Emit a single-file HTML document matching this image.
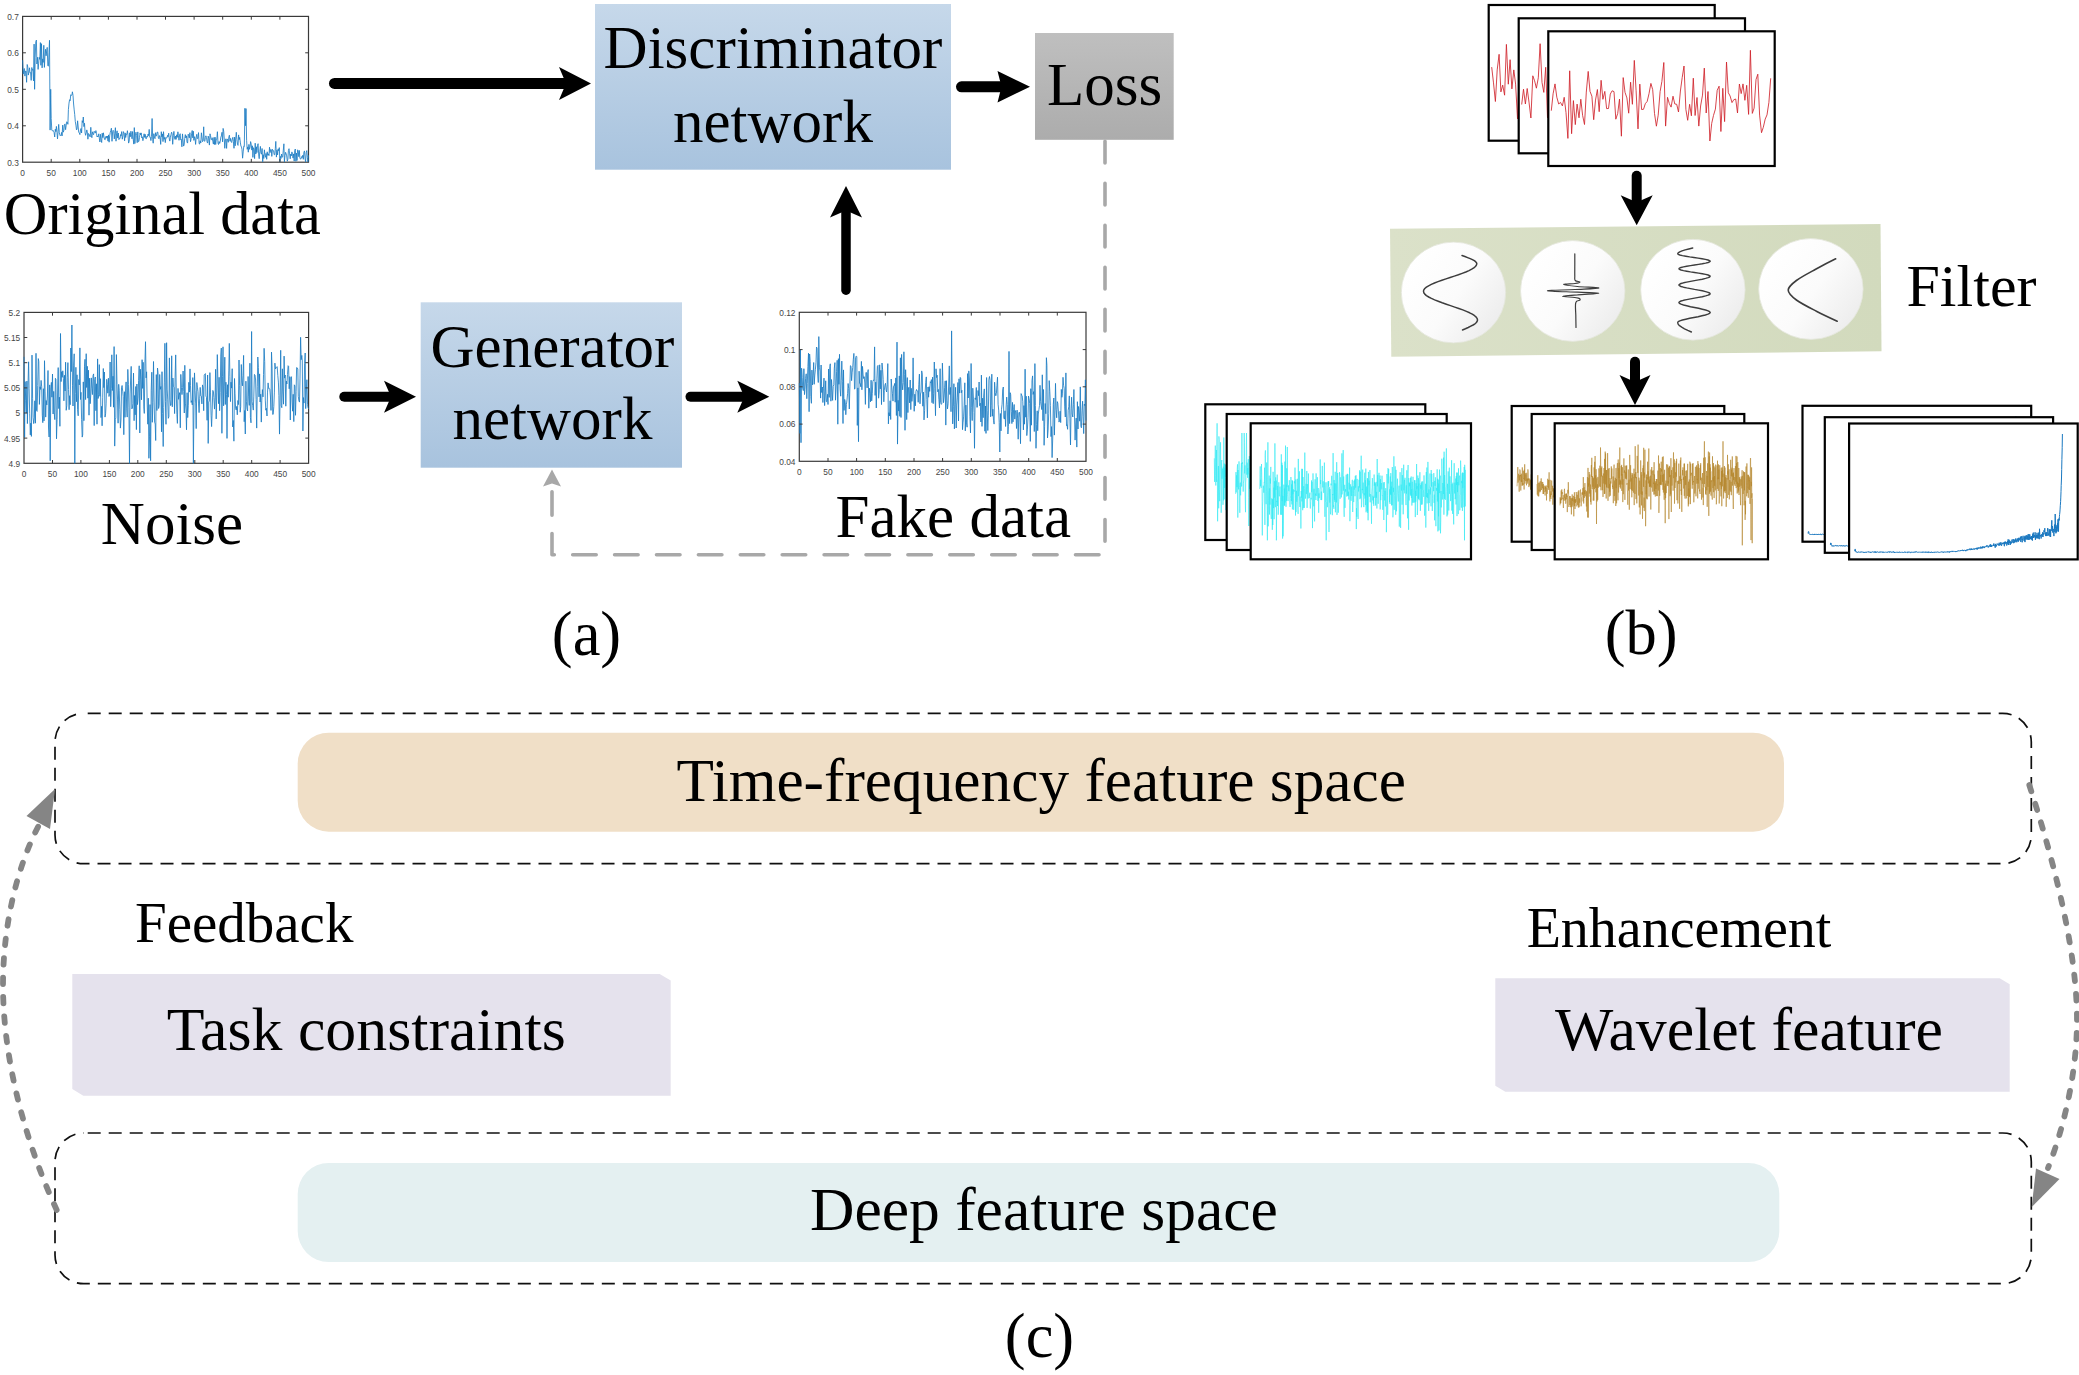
<!DOCTYPE html>
<html><head><meta charset="utf-8"><title>Figure</title>
<style>html,body{margin:0;padding:0;background:#fff;}body{width:2079px;height:1375px;overflow:hidden;position:relative;font-family:"Liberation Serif",serif;}</style>
</head><body>
<svg width="2079" height="1375" viewBox="0 0 2079 1375" style="position:absolute;left:0;top:0;display:block"><defs>
<linearGradient id="gblue" x1="0" y1="0" x2="0" y2="1"><stop offset="0" stop-color="#c6d8ea"/><stop offset="1" stop-color="#a8c3de"/></linearGradient>
<linearGradient id="ggray" x1="0" y1="0" x2="0" y2="1"><stop offset="0" stop-color="#bfbfbf"/><stop offset="1" stop-color="#acacac"/></linearGradient>
<linearGradient id="gband" x1="0" y1="0" x2="1" y2="0"><stop offset="0" stop-color="#dbe1c9"/><stop offset="1" stop-color="#d2dabd"/></linearGradient>
<linearGradient id="gcirc" x1="0.1" y1="0.2" x2="1" y2="0.8"><stop offset="0" stop-color="#ffffff"/><stop offset="0.5" stop-color="#fbfbfb"/><stop offset="1" stop-color="#ebebeb"/></linearGradient>
</defs>
<rect x="595" y="4" width="356" height="165.7" fill="url(#gblue)"/>
<text x="773" y="68.3" font-family='"Liberation Serif", serif' font-size="61" text-anchor="middle" fill="#000" >Discriminator</text>
<text x="773" y="141.7" font-family='"Liberation Serif", serif' font-size="61" text-anchor="middle" fill="#000" >network</text>
<rect x="420.7" y="302.3" width="261.3" height="165.4" fill="url(#gblue)"/>
<text x="552.5" y="366.7" font-family='"Liberation Serif", serif' font-size="61" text-anchor="middle" fill="#000" >Generator</text>
<text x="552.5" y="439.3" font-family='"Liberation Serif", serif' font-size="61" text-anchor="middle" fill="#000" >network</text>
<rect x="1035" y="33" width="138.7" height="106.8" fill="url(#ggray)"/>
<text x="1104.5" y="105" font-family='"Liberation Serif", serif' font-size="61" text-anchor="middle" fill="#000" >Loss</text>
<text x="3.8" y="233.6" font-family='"Liberation Serif", serif' font-size="60.4" text-anchor="start" fill="#000" >Original data</text>
<text x="172" y="543.5" font-family='"Liberation Serif", serif' font-size="61" text-anchor="middle" fill="#000" >Noise</text>
<text x="953.3" y="537.3" font-family='"Liberation Serif", serif' font-size="61" text-anchor="middle" fill="#000" >Fake data</text>
<text x="586.5" y="654.5" font-family='"Liberation Serif", serif' font-size="62.5" text-anchor="middle" fill="#000" >(a)</text>
<text x="1641.2" y="653.8" font-family='"Liberation Serif", serif' font-size="62.5" text-anchor="middle" fill="#000" >(b)</text>
<text x="1039.5" y="1356.5" font-family='"Liberation Serif", serif' font-size="62.5" text-anchor="middle" fill="#000" >(c)</text>
<text x="1971.5" y="305.7" font-family='"Liberation Serif", serif' font-size="60" text-anchor="middle" fill="#000" >Filter</text>
<line x1="334.5" y1="83.4" x2="567" y2="83.4" stroke="#000" stroke-width="11" stroke-linecap="round"/>
<path d="M591,83.4 L559,66.9 L566,83.4 L559,99.9 Z" fill="#000"/>
<line x1="961.5" y1="86.8" x2="1002.5" y2="86.8" stroke="#000" stroke-width="11" stroke-linecap="round"/>
<path d="M1030,86.8 L997.5,71.05 L1001.5,86.8 L997.5,102.55 Z" fill="#000"/>
<line x1="344.3" y1="396.7" x2="392" y2="396.7" stroke="#000" stroke-width="10" stroke-linecap="round"/>
<path d="M416,396.7 L384,380.7 L391,396.7 L384,412.7 Z" fill="#000"/>
<line x1="690.5" y1="396.7" x2="745.3" y2="396.7" stroke="#000" stroke-width="10" stroke-linecap="round"/>
<path d="M769.3,396.7 L737.3,380.7 L744.3,396.7 L737.3,412.7 Z" fill="#000"/>
<line x1="846" y1="290.25" x2="846" y2="209.5" stroke="#000" stroke-width="9.5" stroke-linecap="round"/>
<path d="M846,186 L830.0,217.5 L846,210.5 L862.0,217.5 Z" fill="#000"/>
<line x1="1636.7" y1="175.7" x2="1636.7" y2="203.3" stroke="#000" stroke-width="10" stroke-linecap="round"/>
<path d="M1636.7,225.3 L1620.7,195.3 L1636.7,202.3 L1652.7,195.3 Z" fill="#000"/>
<line x1="1635" y1="361.7" x2="1635" y2="383" stroke="#000" stroke-width="10" stroke-linecap="round"/>
<path d="M1635,405 L1619.5,375 L1635,382 L1650.5,375 Z" fill="#000"/>
<path d="M1105,141.2 L1105,542" fill="none" stroke="#a8a8a8" stroke-width="3.6" stroke-dasharray="21.7 20.34" stroke-linecap="round"/>
<path d="M1099,554.8 L552,554.8 L552,491.5" fill="none" stroke="#a8a8a8" stroke-width="3.6" stroke-dasharray="23.5 18.4" stroke-linecap="round" stroke-linejoin="round"/>
<path d="M552,469.4 L543,486.6 L552,483.6 L561,486.6 Z" fill="#a8a8a8"/>
<rect x="55" y="713.3" width="1976.3" height="150.4" rx="28.7" ry="28.7" stroke="#101010" stroke-width="1.7" stroke-dasharray="13 8" stroke-dashoffset="17" fill="none"/>
<rect x="55" y="1133" width="1976.3" height="150.7" rx="28.7" ry="28.7" stroke="#101010" stroke-width="1.7" stroke-dasharray="13 8" stroke-dashoffset="17" fill="none"/>
<rect x="297.7" y="732.7" width="1486.3" height="99" rx="31" ry="31" fill="#f0dfc7"/>
<rect x="297.7" y="1163" width="1481.6" height="99" rx="31" ry="31" fill="#e4f0f1"/>
<text x="1041.2" y="800.6" font-family='"Liberation Serif", serif' font-size="61.3" text-anchor="middle" fill="#000" >Time-frequency feature space</text>
<text x="1043.9" y="1230" font-family='"Liberation Serif", serif' font-size="61.5" text-anchor="middle" fill="#000" >Deep feature space</text>
<path d="M72.3,974 L659.7,974 L670.7,980.6 L670.7,1095.7 L83.3,1095.7 L72.3,1089.1000000000001 Z" fill="#e5e2ed"/>
<path d="M1495.3,978.3 L1999.7,978.3 L2009.7,984.3 L2009.7,1091.7 L1505.3,1091.7 L1495.3,1085.7 Z" fill="#e5e2ed"/>
<text x="366.2" y="1050" font-family='"Liberation Serif", serif' font-size="61.8" text-anchor="middle" fill="#000" >Task constraints</text>
<text x="1749" y="1050" font-family='"Liberation Serif", serif' font-size="61.8" text-anchor="middle" fill="#000" >Wavelet feature</text>
<text x="244.2" y="942.3" font-family='"Liberation Serif", serif' font-size="57" text-anchor="middle" fill="#000" >Feedback</text>
<text x="1679" y="946.7" font-family='"Liberation Serif", serif' font-size="56" text-anchor="middle" fill="#000" >Enhancement</text>
<path d="M56.7,1210 C 20,1130 3,1050 3,985 C 3,930 15,870 40,823" fill="none" stroke="#858585" stroke-width="5.8" stroke-dasharray="6.5 13" stroke-linecap="round"/>
<path d="M55,789 L26.5,816 L50,829 Z" fill="#858585"/>
<path d="M2029.3,785 C 2060,880 2077,960 2077,1020 C 2077,1070 2065,1125 2048,1168" fill="none" stroke="#858585" stroke-width="5.8" stroke-dasharray="6.5 13" stroke-linecap="round"/>
<path d="M2031.7,1207 L2036,1168.5 L2059.5,1179 Z" fill="#858585"/>
<rect x="22.6" y="16.4" width="285.9" height="145.79999999999998" fill="#fff" stroke="#3a3a3a" stroke-width="1.2"/>
<polyline points="22.6,60.2 23.2,74.1 23.7,70.9 24.3,68.5 24.9,76.1 25.5,71.1 26.0,71.1 26.6,82.3 27.2,64.5 27.8,67.2 28.3,75.1 28.9,72.2 29.5,67.8 30.0,72.8 30.6,72.6 31.2,80.4 31.8,67.5 32.3,70.3 32.9,69.3 33.5,80.9 34.1,44.1 34.6,89.3 35.2,57.2 35.8,41.7 36.4,40.1 36.9,64.0 37.5,57.3 38.1,69.4 38.6,63.8 39.2,57.3 39.8,59.4 40.4,42.6 40.9,65.3 41.5,43.7 42.1,67.9 42.7,58.9 43.2,62.4 43.8,45.3 44.4,67.4 44.9,56.8 45.5,49.3 46.1,55.8 46.7,51.0 47.2,47.4 47.8,65.6 48.4,66.2 49.0,52.2 49.5,40.3 50.1,130.1 50.7,89.3 51.2,118.5 51.8,130.3 52.4,130.8 53.0,130.2 53.5,131.7 54.1,132.5 54.7,137.0 55.3,129.2 55.8,131.6 56.4,126.4 57.0,132.7 57.5,138.9 58.1,131.6 58.7,124.4 59.3,132.8 59.8,134.8 60.4,136.0 61.0,135.4 61.6,132.4 62.1,135.9 62.7,125.1 63.3,132.2 63.9,130.4 64.4,124.7 65.0,123.9 65.6,129.7 66.1,125.9 66.7,121.8 67.3,122.2 67.9,124.3 68.4,109.5 69.0,103.1 69.6,99.7 70.2,100.7 70.7,94.8 71.3,95.3 71.9,95.2 72.4,91.8 73.0,95.3 73.6,104.0 74.2,109.9 74.7,114.4 75.3,121.5 75.9,125.1 76.5,129.9 77.0,129.1 77.6,120.8 78.2,127.0 78.7,132.2 79.3,132.9 79.9,134.6 80.5,129.5 81.0,128.5 81.6,133.0 82.2,120.7 82.8,122.6 83.3,117.0 83.9,126.6 84.5,123.2 85.1,132.9 85.6,135.3 86.2,133.0 86.8,129.9 87.3,131.9 87.9,139.2 88.5,133.5 89.1,134.2 89.6,136.0 90.2,136.9 90.8,127.3 91.4,135.9 91.9,137.7 92.5,131.8 93.1,133.9 93.6,134.7 94.2,131.3 94.8,132.5 95.4,133.0 95.9,130.6 96.5,133.4 97.1,137.0 97.7,136.0 98.2,136.7 98.8,133.8 99.4,138.9 99.9,142.0 100.5,134.3 101.1,140.0 101.7,142.5 102.2,133.2 102.8,137.6 103.4,132.8 104.0,136.9 104.5,139.3 105.1,139.8 105.7,136.9 106.3,136.0 106.8,138.2 107.4,136.0 108.0,141.1 108.5,134.9 109.1,142.2 109.7,135.8 110.3,132.2 110.8,130.6 111.4,128.2 112.0,141.3 112.6,132.0 113.1,130.3 113.7,131.2 114.3,138.9 114.8,133.5 115.4,127.7 116.0,141.2 116.6,133.3 117.1,130.8 117.7,138.1 118.3,133.0 118.9,139.6 119.4,138.6 120.0,138.6 120.6,134.6 121.1,135.8 121.7,131.6 122.3,139.2 122.9,136.0 123.4,131.6 124.0,133.2 124.6,140.8 125.2,132.9 125.7,137.5 126.3,134.0 126.9,134.4 127.4,130.7 128.0,135.2 128.6,143.1 129.2,141.2 129.7,132.8 130.3,136.8 130.9,131.2 131.5,134.7 132.0,138.8 132.6,131.5 133.2,139.1 133.8,144.1 134.3,127.6 134.9,143.5 135.5,133.4 136.0,132.2 136.6,135.4 137.2,142.7 137.8,131.9 138.3,141.8 138.9,141.4 139.5,137.5 140.1,132.9 140.6,134.9 141.2,132.9 141.8,137.9 142.3,136.8 142.9,140.7 143.5,137.5 144.1,133.8 144.6,137.4 145.2,134.3 145.8,138.6 146.4,138.7 146.9,136.2 147.5,137.1 148.1,134.0 148.6,135.7 149.2,129.4 149.8,137.3 150.4,137.3 150.9,140.6 151.5,136.4 152.1,118.5 152.7,139.5 153.2,143.2 153.8,133.7 154.4,137.1 155.0,138.7 155.5,132.7 156.1,136.2 156.7,135.1 157.2,132.0 157.8,132.1 158.4,138.1 159.0,138.8 159.5,135.6 160.1,137.3 160.7,144.4 161.3,131.7 161.8,136.8 162.4,133.9 163.0,141.6 163.5,131.7 164.1,139.3 164.7,137.4 165.3,142.6 165.8,137.6 166.4,137.9 167.0,137.8 167.6,135.3 168.1,136.8 168.7,133.2 169.3,139.0 169.8,141.1 170.4,137.2 171.0,134.6 171.6,132.2 172.1,133.9 172.7,144.3 173.3,135.7 173.9,131.4 174.4,137.0 175.0,139.4 175.6,136.1 176.1,139.4 176.7,134.8 177.3,137.4 177.9,131.8 178.4,135.4 179.0,140.3 179.6,135.0 180.2,133.7 180.7,139.8 181.3,139.2 181.9,146.8 182.5,133.9 183.0,139.9 183.6,146.1 184.2,144.7 184.7,138.5 185.3,134.6 185.9,138.0 186.5,135.8 187.0,142.1 187.6,143.1 188.2,134.2 188.8,135.8 189.3,137.9 189.9,132.7 190.5,141.7 191.0,139.6 191.6,133.8 192.2,130.5 192.8,137.9 193.3,131.2 193.9,140.4 194.5,136.7 195.1,138.7 195.6,144.4 196.2,137.0 196.8,134.3 197.3,138.7 197.9,138.4 198.5,132.6 199.1,143.2 199.6,144.2 200.2,140.8 200.8,143.0 201.4,132.8 201.9,137.0 202.5,141.7 203.1,140.8 203.7,126.8 204.2,140.8 204.8,141.4 205.4,137.2 205.9,135.8 206.5,137.5 207.1,142.1 207.7,143.1 208.2,136.1 208.8,138.7 209.4,145.1 210.0,133.8 210.5,135.5 211.1,139.6 211.7,139.6 212.2,137.7 212.8,141.4 213.4,144.1 214.0,137.4 214.5,144.5 215.1,137.2 215.7,144.5 216.3,139.2 216.8,139.3 217.4,131.7 218.0,143.1 218.5,144.5 219.1,141.5 219.7,143.4 220.3,141.3 220.8,137.2 221.4,135.9 222.0,132.3 222.6,141.9 223.1,128.4 223.7,131.1 224.3,139.9 224.8,148.3 225.4,139.4 226.0,138.8 226.6,148.4 227.1,138.9 227.7,140.0 228.3,142.3 228.9,136.7 229.4,135.2 230.0,141.2 230.6,138.4 231.2,141.9 231.7,142.5 232.3,139.0 232.9,137.3 233.4,141.6 234.0,148.3 234.6,137.1 235.2,145.8 235.7,139.0 236.3,132.3 236.9,139.6 237.5,144.3 238.0,145.4 238.6,134.9 239.2,139.6 239.7,137.4 240.3,142.1 240.9,146.0 241.5,147.0 242.0,149.6 242.6,158.2 243.2,151.9 243.8,146.1 244.3,146.5 244.9,108.3 245.5,125.7 246.0,108.6 246.6,140.3 247.2,149.3 247.8,146.9 248.3,152.2 248.9,144.4 249.5,149.3 250.1,147.0 250.6,141.6 251.2,144.1 251.8,150.1 252.4,145.8 252.9,157.4 253.5,147.7 254.1,149.3 254.6,158.6 255.2,143.2 255.8,154.0 256.4,146.8 256.9,152.6 257.5,145.3 258.1,143.7 258.7,155.0 259.2,158.7 259.8,151.5 260.4,146.4 260.9,152.8 261.5,154.2 262.1,148.5 262.7,161.8 263.2,154.7 263.8,158.5 264.4,149.8 265.0,155.2 265.5,157.3 266.1,153.4 266.7,159.3 267.2,151.8 267.8,155.3 268.4,153.8 269.0,155.6 269.5,147.2 270.1,152.6 270.7,149.4 271.3,149.7 271.8,156.4 272.4,149.3 273.0,150.6 273.6,150.8 274.1,154.6 274.7,154.8 275.3,148.6 275.8,141.4 276.4,157.1 277.0,150.1 277.6,154.9 278.1,148.9 278.7,150.8 279.3,147.6 279.9,161.8 280.4,156.4 281.0,158.5 281.6,154.0 282.1,157.3 282.7,156.9 283.3,150.1 283.9,143.8 284.4,161.8 285.0,155.5 285.6,152.3 286.2,154.0 286.7,155.9 287.3,161.2 287.9,159.1 288.4,150.5 289.0,148.7 289.6,153.9 290.2,158.8 290.7,154.1 291.3,155.9 291.9,151.9 292.5,154.2 293.0,158.1 293.6,153.9 294.2,161.1 294.7,150.8 295.3,149.0 295.9,161.3 296.5,153.1 297.0,160.5 297.6,149.8 298.2,150.8 298.8,156.7 299.3,150.4 299.9,157.9 300.5,159.1 301.1,158.8 301.6,156.6 302.2,157.6 302.8,155.2 303.3,159.3 303.9,152.2 304.5,150.9 305.1,158.9 305.6,161.8 306.2,152.7 306.8,150.6 307.4,157.4 307.9,161.8 308.5,155.3" fill="none" stroke="#1a7bc2" stroke-width="0.9" stroke-linejoin="round" stroke-opacity="0.92"/>
<text transform="translate(22.6,175.9) scale(0.86,1)" font-family='"Liberation Sans", sans-serif' font-size="9.7" text-anchor="middle" fill="#454545">0</text>
<text transform="translate(51.2,175.9) scale(0.86,1)" font-family='"Liberation Sans", sans-serif' font-size="9.7" text-anchor="middle" fill="#454545">50</text>
<text transform="translate(79.8,175.9) scale(0.86,1)" font-family='"Liberation Sans", sans-serif' font-size="9.7" text-anchor="middle" fill="#454545">100</text>
<text transform="translate(108.4,175.9) scale(0.86,1)" font-family='"Liberation Sans", sans-serif' font-size="9.7" text-anchor="middle" fill="#454545">150</text>
<text transform="translate(137.0,175.9) scale(0.86,1)" font-family='"Liberation Sans", sans-serif' font-size="9.7" text-anchor="middle" fill="#454545">200</text>
<text transform="translate(165.5,175.9) scale(0.86,1)" font-family='"Liberation Sans", sans-serif' font-size="9.7" text-anchor="middle" fill="#454545">250</text>
<text transform="translate(194.1,175.9) scale(0.86,1)" font-family='"Liberation Sans", sans-serif' font-size="9.7" text-anchor="middle" fill="#454545">300</text>
<text transform="translate(222.7,175.9) scale(0.86,1)" font-family='"Liberation Sans", sans-serif' font-size="9.7" text-anchor="middle" fill="#454545">350</text>
<text transform="translate(251.3,175.9) scale(0.86,1)" font-family='"Liberation Sans", sans-serif' font-size="9.7" text-anchor="middle" fill="#454545">400</text>
<text transform="translate(279.9,175.9) scale(0.86,1)" font-family='"Liberation Sans", sans-serif' font-size="9.7" text-anchor="middle" fill="#454545">450</text>
<text transform="translate(308.5,175.9) scale(0.86,1)" font-family='"Liberation Sans", sans-serif' font-size="9.7" text-anchor="middle" fill="#454545">500</text>
<text transform="translate(18.8,165.6) scale(0.86,1)" font-family='"Liberation Sans", sans-serif' font-size="9.7" text-anchor="end" fill="#454545">0.3</text>
<text transform="translate(18.8,129.2) scale(0.86,1)" font-family='"Liberation Sans", sans-serif' font-size="9.7" text-anchor="end" fill="#454545">0.4</text>
<text transform="translate(18.8,92.7) scale(0.86,1)" font-family='"Liberation Sans", sans-serif' font-size="9.7" text-anchor="end" fill="#454545">0.5</text>
<text transform="translate(18.8,56.2) scale(0.86,1)" font-family='"Liberation Sans", sans-serif' font-size="9.7" text-anchor="end" fill="#454545">0.6</text>
<text transform="translate(18.8,19.8) scale(0.86,1)" font-family='"Liberation Sans", sans-serif' font-size="9.7" text-anchor="end" fill="#454545">0.7</text>
<path d="M51.2,162.2 v-3.3 M51.2,16.4 v3.3 M79.8,162.2 v-3.3 M79.8,16.4 v3.3 M108.4,162.2 v-3.3 M108.4,16.4 v3.3 M137.0,162.2 v-3.3 M137.0,16.4 v3.3 M165.5,162.2 v-3.3 M165.5,16.4 v3.3 M194.1,162.2 v-3.3 M194.1,16.4 v3.3 M222.7,162.2 v-3.3 M222.7,16.4 v3.3 M251.3,162.2 v-3.3 M251.3,16.4 v3.3 M279.9,162.2 v-3.3 M279.9,16.4 v3.3 M22.6,125.8 h3.3 M308.5,125.8 h-3.3 M22.6,89.3 h3.3 M308.5,89.3 h-3.3 M22.6,52.8 h3.3 M308.5,52.8 h-3.3" stroke="#3a3a3a" stroke-width="1" fill="none"/>
<rect x="24.0" y="312.4" width="284.6" height="150.90000000000003" fill="#fff" stroke="#3a3a3a" stroke-width="1.2"/>
<polyline points="24.0,356.8 24.6,437.2 25.1,381.6 25.7,400.3 26.3,413.1 26.9,381.1 27.4,423.6 28.0,385.9 28.6,361.8 29.1,388.7 29.7,413.6 30.3,434.9 30.8,423.2 31.4,436.4 32.0,355.1 32.6,398.8 33.1,417.6 33.7,423.6 34.3,418.1 34.8,400.8 35.4,423.2 36.0,353.3 36.5,410.5 37.1,411.4 37.7,385.6 38.3,358.6 38.8,361.6 39.4,404.4 40.0,386.8 40.5,389.4 41.1,380.4 41.7,386.8 42.3,415.2 42.8,422.7 43.4,388.7 44.0,420.9 44.5,360.7 45.1,391.9 45.7,417.1 46.2,400.5 46.8,404.9 47.4,396.0 48.0,370.5 48.5,427.0 49.1,437.0 49.7,384.9 50.2,460.8 50.8,389.0 51.4,382.4 51.9,397.2 52.5,374.0 53.1,414.0 53.7,391.4 54.2,412.5 54.8,419.6 55.4,378.3 55.9,379.4 56.5,438.8 57.1,419.4 57.7,386.0 58.2,367.6 58.8,408.6 59.4,397.2 59.9,426.3 60.5,333.5 61.1,381.6 61.6,371.7 62.2,377.3 62.8,370.8 63.4,378.5 63.9,400.8 64.5,375.3 65.1,391.0 65.6,362.2 66.2,410.3 66.8,405.7 67.3,377.2 67.9,362.6 68.5,389.4 69.1,409.7 69.6,395.7 70.2,404.7 70.8,348.0 71.3,371.6 71.9,325.0 72.5,385.8 73.0,406.0 73.6,365.1 74.2,353.8 74.8,463.3 75.3,393.5 75.9,367.3 76.5,401.7 77.0,374.8 77.6,409.7 78.2,415.8 78.8,379.5 79.3,384.9 79.9,347.9 80.5,399.5 81.0,392.3 81.6,419.8 82.2,437.1 82.7,435.0 83.3,381.9 83.9,420.7 84.5,366.2 85.0,359.3 85.6,399.6 86.2,353.7 86.7,387.5 87.3,366.3 87.9,398.2 88.4,370.2 89.0,415.2 89.6,378.2 90.2,403.7 90.7,396.0 91.3,377.9 91.9,388.8 92.4,394.6 93.0,375.7 93.6,373.9 94.2,425.6 94.7,379.7 95.3,377.0 95.9,410.7 96.4,383.8 97.0,424.2 97.6,358.9 98.1,398.5 98.7,394.7 99.3,364.6 99.9,396.3 100.4,378.7 101.0,417.6 101.6,406.3 102.1,425.8 102.7,397.8 103.3,368.5 103.8,387.6 104.4,372.0 105.0,417.1 105.6,413.8 106.1,403.9 106.7,379.3 107.3,384.5 107.8,393.2 108.4,378.2 109.0,396.5 109.6,393.4 110.1,362.0 110.7,406.7 111.3,388.6 111.8,354.8 112.4,390.5 113.0,376.2 113.5,407.2 114.1,346.6 114.7,446.1 115.3,419.7 115.8,417.8 116.4,354.6 117.0,384.5 117.5,399.1 118.1,423.2 118.7,384.3 119.2,390.2 119.8,409.3 120.4,428.1 121.0,419.0 121.5,387.8 122.1,385.5 122.7,391.2 123.2,396.5 123.8,434.7 124.4,391.7 125.0,417.3 125.5,391.9 126.1,381.9 126.7,408.9 127.2,417.1 127.8,369.4 128.4,384.6 128.9,407.9 129.5,463.3 130.1,394.0 130.7,378.0 131.2,366.4 131.8,408.9 132.4,408.1 132.9,403.4 133.5,373.1 134.1,420.7 134.6,395.5 135.2,414.8 135.8,386.5 136.4,429.6 136.9,384.0 137.5,404.6 138.1,398.2 138.6,380.5 139.2,365.8 139.8,433.0 140.3,369.2 140.9,379.7 141.5,399.8 142.1,359.7 142.6,388.4 143.2,362.3 143.8,406.9 144.3,413.4 144.9,363.9 145.5,341.7 146.1,377.9 146.6,371.8 147.2,404.1 147.8,424.2 148.3,398.2 148.9,458.3 149.5,436.9 150.0,404.6 150.6,460.8 151.2,390.3 151.8,372.2 152.3,422.3 152.9,402.6 153.5,361.5 154.0,395.0 154.6,422.2 155.2,424.0 155.7,440.5 156.3,374.6 156.9,410.5 157.5,368.0 158.0,372.4 158.6,408.5 159.2,405.4 159.7,374.5 160.3,389.3 160.9,386.5 161.5,431.8 162.0,371.7 162.6,413.6 163.2,446.5 163.7,407.5 164.3,382.9 164.9,343.3 165.4,401.7 166.0,424.3 166.6,342.7 167.2,389.1 167.7,399.1 168.3,418.3 168.9,416.6 169.4,357.9 170.0,399.3 170.6,405.6 171.1,404.9 171.7,355.8 172.3,406.8 172.9,378.0 173.4,386.6 174.0,387.2 174.6,413.6 175.1,377.3 175.7,354.9 176.3,394.1 176.9,414.6 177.4,423.4 178.0,388.4 178.6,399.3 179.1,395.3 179.7,392.6 180.3,427.8 180.8,374.4 181.4,387.3 182.0,394.6 182.6,387.4 183.1,371.0 183.7,391.6 184.3,413.0 184.8,365.3 185.4,403.1 186.0,410.0 186.5,429.8 187.1,392.7 187.7,417.6 188.3,405.2 188.8,382.3 189.4,392.1 190.0,368.9 190.5,385.7 191.1,402.4 191.7,400.7 192.3,404.9 192.8,377.6 193.4,463.3 194.0,402.6 194.5,372.9 195.1,390.6 195.7,403.9 196.2,428.6 196.8,382.5 197.4,387.2 198.0,391.7 198.5,403.1 199.1,412.6 199.7,398.2 200.2,387.4 200.8,395.9 201.4,396.3 201.9,403.9 202.5,384.9 203.1,387.4 203.7,410.7 204.2,374.9 204.8,374.2 205.4,373.6 205.9,396.0 206.5,397.5 207.1,420.3 207.6,375.0 208.2,443.4 208.8,402.1 209.4,400.9 209.9,372.6 210.5,392.9 211.1,415.7 211.6,426.6 212.2,410.1 212.8,390.4 213.4,391.6 213.9,397.6 214.5,409.1 215.1,397.8 215.6,369.3 216.2,418.9 216.8,392.1 217.3,354.6 217.9,379.8 218.5,403.7 219.1,377.3 219.6,410.7 220.2,392.7 220.8,356.1 221.3,348.1 221.9,433.3 222.5,376.3 223.0,346.8 223.6,405.8 224.2,386.8 224.8,357.2 225.3,404.5 225.9,382.2 226.5,394.3 227.0,438.4 227.6,384.7 228.2,397.2 228.8,370.9 229.3,343.4 229.9,376.7 230.5,401.6 231.0,382.2 231.6,388.1 232.2,368.7 232.7,426.9 233.3,420.5 233.9,441.2 234.5,378.5 235.0,393.3 235.6,408.0 236.2,410.0 236.7,406.4 237.3,414.8 237.9,400.5 238.4,404.6 239.0,360.0 239.6,385.2 240.2,412.2 240.7,406.7 241.3,364.5 241.9,382.2 242.4,385.9 243.0,375.8 243.6,355.4 244.2,421.7 244.7,410.5 245.3,434.0 245.9,381.2 246.4,401.8 247.0,408.8 247.6,410.9 248.1,376.5 248.7,396.2 249.3,405.4 249.9,363.2 250.4,417.6 251.0,422.8 251.6,331.5 252.1,401.6 252.7,405.7 253.3,410.1 253.8,396.1 254.4,374.4 255.0,375.1 255.6,380.0 256.1,399.5 256.7,428.1 257.3,386.2 257.8,357.0 258.4,367.6 259.0,396.9 259.6,373.9 260.1,402.0 260.7,394.2 261.3,422.1 261.8,400.3 262.4,389.6 263.0,396.9 263.5,374.7 264.1,348.3 264.7,361.6 265.3,400.1 265.8,410.2 266.4,408.3 267.0,416.0 267.5,392.1 268.1,382.9 268.7,388.6 269.2,388.3 269.8,389.1 270.4,396.0 271.0,410.4 271.5,352.1 272.1,368.1 272.7,414.4 273.2,414.3 273.8,406.7 274.4,392.1 274.9,363.1 275.5,368.9 276.1,367.6 276.7,367.2 277.2,366.7 277.8,375.5 278.4,382.1 278.9,395.7 279.5,434.1 280.1,395.9 280.7,350.3 281.2,405.6 281.8,407.7 282.4,368.8 282.9,391.0 283.5,404.2 284.1,356.1 284.6,378.1 285.2,375.0 285.8,406.2 286.4,381.1 286.9,384.0 287.5,374.5 288.1,365.7 288.6,366.3 289.2,388.8 289.8,376.6 290.3,420.0 290.9,377.7 291.5,376.7 292.1,402.1 292.6,411.2 293.2,394.3 293.8,421.6 294.3,384.8 294.9,385.9 295.5,415.3 296.1,391.8 296.6,367.6 297.2,367.8 297.8,369.0 298.3,396.4 298.9,400.9 299.5,402.1 300.0,378.9 300.6,337.3 301.2,359.7 301.8,355.4 302.3,361.0 302.9,431.0 303.5,397.6 304.0,403.1 304.6,363.3 305.2,353.0 305.7,408.6 306.3,392.0 306.9,379.7 307.5,404.4 308.0,407.7 308.6,408.9" fill="none" stroke="#1a7bc2" stroke-width="0.9" stroke-linejoin="round" stroke-opacity="0.92"/>
<text transform="translate(24.0,477.0) scale(0.86,1)" font-family='"Liberation Sans", sans-serif' font-size="9.7" text-anchor="middle" fill="#454545">0</text>
<text transform="translate(52.5,477.0) scale(0.86,1)" font-family='"Liberation Sans", sans-serif' font-size="9.7" text-anchor="middle" fill="#454545">50</text>
<text transform="translate(80.9,477.0) scale(0.86,1)" font-family='"Liberation Sans", sans-serif' font-size="9.7" text-anchor="middle" fill="#454545">100</text>
<text transform="translate(109.4,477.0) scale(0.86,1)" font-family='"Liberation Sans", sans-serif' font-size="9.7" text-anchor="middle" fill="#454545">150</text>
<text transform="translate(137.8,477.0) scale(0.86,1)" font-family='"Liberation Sans", sans-serif' font-size="9.7" text-anchor="middle" fill="#454545">200</text>
<text transform="translate(166.3,477.0) scale(0.86,1)" font-family='"Liberation Sans", sans-serif' font-size="9.7" text-anchor="middle" fill="#454545">250</text>
<text transform="translate(194.8,477.0) scale(0.86,1)" font-family='"Liberation Sans", sans-serif' font-size="9.7" text-anchor="middle" fill="#454545">300</text>
<text transform="translate(223.2,477.0) scale(0.86,1)" font-family='"Liberation Sans", sans-serif' font-size="9.7" text-anchor="middle" fill="#454545">350</text>
<text transform="translate(251.7,477.0) scale(0.86,1)" font-family='"Liberation Sans", sans-serif' font-size="9.7" text-anchor="middle" fill="#454545">400</text>
<text transform="translate(280.1,477.0) scale(0.86,1)" font-family='"Liberation Sans", sans-serif' font-size="9.7" text-anchor="middle" fill="#454545">450</text>
<text transform="translate(308.6,477.0) scale(0.86,1)" font-family='"Liberation Sans", sans-serif' font-size="9.7" text-anchor="middle" fill="#454545">500</text>
<text transform="translate(20.2,466.7) scale(0.86,1)" font-family='"Liberation Sans", sans-serif' font-size="9.7" text-anchor="end" fill="#454545">4.9</text>
<text transform="translate(20.2,441.5) scale(0.86,1)" font-family='"Liberation Sans", sans-serif' font-size="9.7" text-anchor="end" fill="#454545">4.95</text>
<text transform="translate(20.2,416.4) scale(0.86,1)" font-family='"Liberation Sans", sans-serif' font-size="9.7" text-anchor="end" fill="#454545">5</text>
<text transform="translate(20.2,391.2) scale(0.86,1)" font-family='"Liberation Sans", sans-serif' font-size="9.7" text-anchor="end" fill="#454545">5.05</text>
<text transform="translate(20.2,366.1) scale(0.86,1)" font-family='"Liberation Sans", sans-serif' font-size="9.7" text-anchor="end" fill="#454545">5.1</text>
<text transform="translate(20.2,340.9) scale(0.86,1)" font-family='"Liberation Sans", sans-serif' font-size="9.7" text-anchor="end" fill="#454545">5.15</text>
<text transform="translate(20.2,315.8) scale(0.86,1)" font-family='"Liberation Sans", sans-serif' font-size="9.7" text-anchor="end" fill="#454545">5.2</text>
<path d="M52.5,463.3 v-3.3 M52.5,312.4 v3.3 M80.9,463.3 v-3.3 M80.9,312.4 v3.3 M109.4,463.3 v-3.3 M109.4,312.4 v3.3 M137.8,463.3 v-3.3 M137.8,312.4 v3.3 M166.3,463.3 v-3.3 M166.3,312.4 v3.3 M194.8,463.3 v-3.3 M194.8,312.4 v3.3 M223.2,463.3 v-3.3 M223.2,312.4 v3.3 M251.7,463.3 v-3.3 M251.7,312.4 v3.3 M280.1,463.3 v-3.3 M280.1,312.4 v3.3 M24.0,438.1 h3.3 M308.6,438.1 h-3.3 M24.0,413.0 h3.3 M308.6,413.0 h-3.3 M24.0,387.9 h3.3 M308.6,387.9 h-3.3 M24.0,362.7 h3.3 M308.6,362.7 h-3.3 M24.0,337.5 h3.3 M308.6,337.5 h-3.3" stroke="#3a3a3a" stroke-width="1" fill="none"/>
<rect x="799.3" y="312.3" width="286.70000000000005" height="149.0" fill="#fff" stroke="#3a3a3a" stroke-width="1.2"/>
<polyline points="799.3,383.1 799.9,433.4 800.4,349.5 801.0,442.7 801.6,368.2 802.2,377.5 802.7,388.0 803.3,390.6 803.9,368.7 804.5,394.6 805.0,389.4 805.6,378.5 806.2,373.8 806.8,398.7 807.3,383.5 807.9,366.6 808.5,353.2 809.1,411.7 809.6,354.0 810.2,361.6 810.8,396.4 811.4,403.3 811.9,370.1 812.5,384.9 813.1,375.2 813.7,362.5 814.2,384.3 814.8,375.0 815.4,369.5 816.0,362.3 816.5,347.0 817.1,348.2 817.7,374.0 818.3,382.5 818.8,336.6 819.4,367.2 820.0,371.1 820.6,398.1 821.1,365.0 821.7,392.5 822.3,387.0 822.9,402.5 823.4,388.2 824.0,378.1 824.6,405.6 825.2,395.1 825.7,380.8 826.3,401.7 826.9,401.6 827.5,394.3 828.0,404.5 828.6,369.0 829.2,397.4 829.8,366.4 830.3,363.8 830.9,401.2 831.5,379.5 832.0,388.7 832.6,400.4 833.2,386.4 833.8,384.8 834.3,368.1 834.9,362.6 835.5,400.2 836.1,388.0 836.6,371.6 837.2,360.3 837.8,424.2 838.4,358.7 838.9,384.3 839.5,354.3 840.1,388.9 840.7,396.2 841.2,380.8 841.8,361.1 842.4,381.2 843.0,423.5 843.5,369.9 844.1,410.4 844.7,399.4 845.3,402.7 845.8,414.7 846.4,404.5 847.0,399.9 847.6,393.3 848.1,383.5 848.7,388.6 849.3,409.0 849.9,386.1 850.4,365.7 851.0,366.2 851.6,380.7 852.2,372.2 852.7,367.5 853.3,359.3 853.9,353.4 854.5,389.2 855.0,388.4 855.6,357.6 856.2,356.1 856.8,356.6 857.3,425.4 857.9,387.9 858.5,441.7 859.1,371.2 859.6,383.3 860.2,383.4 860.8,386.8 861.4,361.4 861.9,389.8 862.5,366.4 863.1,374.9 863.6,378.5 864.2,376.7 864.8,383.0 865.4,404.4 865.9,372.5 866.5,372.6 867.1,387.9 867.7,372.5 868.2,369.6 868.8,408.2 869.4,388.2 870.0,393.6 870.5,401.8 871.1,380.2 871.7,400.9 872.3,393.7 872.8,381.8 873.4,380.0 874.0,380.6 874.6,346.9 875.1,395.4 875.7,382.1 876.3,408.0 876.9,378.2 877.4,366.4 878.0,365.4 878.6,398.2 879.2,392.0 879.7,364.8 880.3,388.9 880.9,370.3 881.5,404.6 882.0,363.0 882.6,369.4 883.2,379.4 883.8,401.8 884.3,390.6 884.9,385.2 885.5,383.3 886.1,389.9 886.6,392.0 887.2,384.8 887.8,363.6 888.4,423.9 888.9,412.7 889.5,415.9 890.1,400.8 890.7,419.5 891.2,379.0 891.8,387.2 892.4,393.4 893.0,401.1 893.5,386.3 894.1,386.0 894.7,383.4 895.2,402.2 895.8,377.9 896.4,415.5 897.0,342.1 897.5,444.1 898.1,400.3 898.7,411.1 899.3,375.9 899.8,416.3 900.4,357.8 901.0,417.5 901.6,354.4 902.1,382.4 902.7,389.9 903.3,382.8 903.9,351.8 904.4,374.8 905.0,430.3 905.6,369.7 906.2,386.8 906.7,419.6 907.3,377.6 907.9,412.6 908.5,388.0 909.0,387.2 909.6,402.9 910.2,380.0 910.8,409.6 911.3,388.3 911.9,401.4 912.5,395.0 913.1,357.9 913.6,390.0 914.2,411.3 914.8,394.2 915.4,405.8 915.9,391.8 916.5,389.5 917.1,391.0 917.7,391.1 918.2,402.3 918.8,384.8 919.4,374.1 920.0,403.8 920.5,394.0 921.1,392.0 921.7,370.9 922.3,374.1 922.8,406.2 923.4,392.1 924.0,419.9 924.6,410.6 925.1,393.3 925.7,382.5 926.3,376.9 926.8,399.4 927.4,417.9 928.0,387.0 928.6,397.2 929.1,386.7 929.7,391.4 930.3,381.7 930.9,382.8 931.4,379.6 932.0,402.7 932.6,377.1 933.2,403.7 933.7,393.3 934.3,362.0 934.9,388.7 935.5,415.7 936.0,368.8 936.6,377.6 937.2,375.2 937.8,391.9 938.3,389.4 938.9,399.7 939.5,408.0 940.1,368.7 940.6,402.3 941.2,404.4 941.8,403.8 942.4,363.1 942.9,380.6 943.5,402.7 944.1,397.1 944.7,387.4 945.2,380.9 945.8,425.1 946.4,380.7 947.0,400.6 947.5,408.9 948.1,403.8 948.7,383.0 949.3,365.9 949.8,394.5 950.4,387.4 951.0,411.7 951.6,330.9 952.1,382.9 952.7,423.9 953.3,406.7 953.9,383.7 954.4,428.9 955.0,404.5 955.6,387.3 956.2,428.0 956.7,405.1 957.3,397.2 957.9,382.5 958.5,421.0 959.0,378.8 959.6,393.1 960.2,377.4 960.7,378.1 961.3,392.8 961.9,390.3 962.5,429.7 963.0,422.9 963.6,416.9 964.2,405.3 964.8,382.8 965.3,430.9 965.9,405.1 966.5,422.9 967.1,427.2 967.6,373.6 968.2,398.0 968.8,370.9 969.4,379.0 969.9,416.3 970.5,432.9 971.1,363.5 971.7,407.4 972.2,420.6 972.8,388.2 973.4,398.1 974.0,412.5 974.5,448.3 975.1,397.9 975.7,399.5 976.3,387.5 976.8,407.3 977.4,407.2 978.0,390.5 978.6,395.7 979.1,382.0 979.7,405.8 980.3,403.2 980.9,422.0 981.4,375.1 982.0,426.4 982.6,398.2 983.2,417.7 983.7,396.0 984.3,388.9 984.9,431.2 985.5,406.0 986.0,433.4 986.6,377.5 987.2,410.3 987.8,430.5 988.3,415.1 988.9,379.5 989.5,376.5 990.1,380.4 990.6,416.8 991.2,405.7 991.8,374.2 992.3,416.2 992.9,409.2 993.5,420.3 994.1,424.1 994.6,382.2 995.2,392.5 995.8,395.8 996.4,393.5 996.9,385.8 997.5,377.2 998.1,404.2 998.7,410.1 999.2,422.3 999.8,452.0 1000.4,413.5 1001.0,430.9 1001.5,409.3 1002.1,404.2 1002.7,390.0 1003.3,387.0 1003.8,417.8 1004.4,419.1 1005.0,410.8 1005.6,426.5 1006.1,407.1 1006.7,397.1 1007.3,404.6 1007.9,434.0 1008.4,426.6 1009.0,351.4 1009.6,423.6 1010.2,392.7 1010.7,394.7 1011.3,411.6 1011.9,423.6 1012.5,402.4 1013.0,421.9 1013.6,409.4 1014.2,404.5 1014.8,419.1 1015.3,410.5 1015.9,412.0 1016.5,428.5 1017.1,410.1 1017.6,418.1 1018.2,439.2 1018.8,413.0 1019.4,412.1 1019.9,417.9 1020.5,443.7 1021.1,393.6 1021.7,395.3 1022.2,396.0 1022.8,401.8 1023.4,429.9 1023.9,405.6 1024.5,424.2 1025.1,369.2 1025.7,417.2 1026.2,396.2 1026.8,435.6 1027.4,429.1 1028.0,417.8 1028.5,396.0 1029.1,398.8 1029.7,403.5 1030.3,441.4 1030.8,388.7 1031.4,425.2 1032.0,380.3 1032.6,375.9 1033.1,394.4 1033.7,391.6 1034.3,431.5 1034.9,363.6 1035.4,405.5 1036.0,448.3 1036.6,424.7 1037.2,410.8 1037.7,430.7 1038.3,414.0 1038.9,409.6 1039.5,405.4 1040.0,385.3 1040.6,401.6 1041.2,405.9 1041.8,409.6 1042.3,374.8 1042.9,420.7 1043.5,389.5 1044.1,445.3 1044.6,426.2 1045.2,403.5 1045.8,413.7 1046.4,357.7 1046.9,365.4 1047.5,438.0 1048.1,430.1 1048.7,413.8 1049.2,380.6 1049.8,391.3 1050.4,405.7 1051.0,436.6 1051.5,426.6 1052.1,457.6 1052.7,439.0 1053.3,404.3 1053.8,398.0 1054.4,435.1 1055.0,410.2 1055.5,383.4 1056.1,409.4 1056.7,417.8 1057.3,401.6 1057.8,403.2 1058.4,411.1 1059.0,422.1 1059.6,420.2 1060.1,411.2 1060.7,422.6 1061.3,389.4 1061.9,397.3 1062.4,393.9 1063.0,377.3 1063.6,385.4 1064.2,388.3 1064.7,406.9 1065.3,417.0 1065.9,372.9 1066.5,425.6 1067.0,424.8 1067.6,429.3 1068.2,410.2 1068.8,406.7 1069.3,395.9 1069.9,418.2 1070.5,445.0 1071.1,408.8 1071.6,397.2 1072.2,414.0 1072.8,417.0 1073.4,404.8 1073.9,389.5 1074.5,416.1 1075.1,440.1 1075.7,425.0 1076.2,418.1 1076.8,447.1 1077.4,401.7 1078.0,429.0 1078.5,406.5 1079.1,412.1 1079.7,421.2 1080.3,386.9 1080.8,425.8 1081.4,427.8 1082.0,410.8 1082.6,401.2 1083.1,416.2 1083.7,433.6 1084.3,404.1 1084.9,405.7 1085.4,379.8 1086.0,420.5" fill="none" stroke="#1a7bc2" stroke-width="0.9" stroke-linejoin="round" stroke-opacity="0.92"/>
<text transform="translate(799.3,475.0) scale(0.86,1)" font-family='"Liberation Sans", sans-serif' font-size="9.7" text-anchor="middle" fill="#454545">0</text>
<text transform="translate(828.0,475.0) scale(0.86,1)" font-family='"Liberation Sans", sans-serif' font-size="9.7" text-anchor="middle" fill="#454545">50</text>
<text transform="translate(856.6,475.0) scale(0.86,1)" font-family='"Liberation Sans", sans-serif' font-size="9.7" text-anchor="middle" fill="#454545">100</text>
<text transform="translate(885.3,475.0) scale(0.86,1)" font-family='"Liberation Sans", sans-serif' font-size="9.7" text-anchor="middle" fill="#454545">150</text>
<text transform="translate(914.0,475.0) scale(0.86,1)" font-family='"Liberation Sans", sans-serif' font-size="9.7" text-anchor="middle" fill="#454545">200</text>
<text transform="translate(942.6,475.0) scale(0.86,1)" font-family='"Liberation Sans", sans-serif' font-size="9.7" text-anchor="middle" fill="#454545">250</text>
<text transform="translate(971.3,475.0) scale(0.86,1)" font-family='"Liberation Sans", sans-serif' font-size="9.7" text-anchor="middle" fill="#454545">300</text>
<text transform="translate(1000.0,475.0) scale(0.86,1)" font-family='"Liberation Sans", sans-serif' font-size="9.7" text-anchor="middle" fill="#454545">350</text>
<text transform="translate(1028.7,475.0) scale(0.86,1)" font-family='"Liberation Sans", sans-serif' font-size="9.7" text-anchor="middle" fill="#454545">400</text>
<text transform="translate(1057.3,475.0) scale(0.86,1)" font-family='"Liberation Sans", sans-serif' font-size="9.7" text-anchor="middle" fill="#454545">450</text>
<text transform="translate(1086.0,475.0) scale(0.86,1)" font-family='"Liberation Sans", sans-serif' font-size="9.7" text-anchor="middle" fill="#454545">500</text>
<text transform="translate(795.5,464.7) scale(0.86,1)" font-family='"Liberation Sans", sans-serif' font-size="9.7" text-anchor="end" fill="#454545">0.04</text>
<text transform="translate(795.5,427.4) scale(0.86,1)" font-family='"Liberation Sans", sans-serif' font-size="9.7" text-anchor="end" fill="#454545">0.06</text>
<text transform="translate(795.5,390.2) scale(0.86,1)" font-family='"Liberation Sans", sans-serif' font-size="9.7" text-anchor="end" fill="#454545">0.08</text>
<text transform="translate(795.5,352.9) scale(0.86,1)" font-family='"Liberation Sans", sans-serif' font-size="9.7" text-anchor="end" fill="#454545">0.1</text>
<text transform="translate(795.5,315.7) scale(0.86,1)" font-family='"Liberation Sans", sans-serif' font-size="9.7" text-anchor="end" fill="#454545">0.12</text>
<path d="M828.0,461.3 v-3.3 M828.0,312.3 v3.3 M856.6,461.3 v-3.3 M856.6,312.3 v3.3 M885.3,461.3 v-3.3 M885.3,312.3 v3.3 M914.0,461.3 v-3.3 M914.0,312.3 v3.3 M942.6,461.3 v-3.3 M942.6,312.3 v3.3 M971.3,461.3 v-3.3 M971.3,312.3 v3.3 M1000.0,461.3 v-3.3 M1000.0,312.3 v3.3 M1028.7,461.3 v-3.3 M1028.7,312.3 v3.3 M1057.3,461.3 v-3.3 M1057.3,312.3 v3.3 M799.3,424.1 h3.3 M1086,424.1 h-3.3 M799.3,386.8 h3.3 M1086,386.8 h-3.3 M799.3,349.6 h3.3 M1086,349.6 h-3.3" stroke="#3a3a3a" stroke-width="1" fill="none"/>
<rect x="1488.7" y="5" width="226.0" height="135.7" fill="#fff" stroke="#000" stroke-width="2.2"/>
<polyline points="1491.7,67.1 1493.5,82.9 1495.4,101.5 1497.2,69.9 1499.1,54.3 1500.9,91.9 1502.7,85.1 1504.6,95.2 1506.4,44.4 1508.3,84.2 1510.1,59.7 1511.9,88.9 1513.8,69.9 1515.6,84.1 1517.5,118.9 1519.3,69.9 1521.1,60.8 1523.0,113.6 1524.8,75.0 1526.7,80.2 1528.5,93.3 1530.3,76.5 1532.2,110.7 1534.0,66.4 1535.9,47.5 1537.7,97.0 1539.5,72.8 1541.4,42.7 1543.2,69.0 1545.1,81.9 1546.9,89.9 1548.8,67.9 1550.6,74.1 1552.4,58.7 1554.3,102.2 1556.1,49.7 1558.0,79.6 1559.8,58.5 1561.6,86.1 1563.5,97.7 1565.3,82.9 1567.2,90.7 1569.0,79.0 1570.8,58.4 1572.7,49.7 1574.5,67.4 1576.4,82.4 1578.2,80.6 1580.0,59.5 1581.9,48.5 1583.7,78.0 1585.6,74.0 1587.4,86.7 1589.2,67.3 1591.1,52.1 1592.9,125.0 1594.8,66.3 1596.6,82.6 1598.4,118.5 1600.3,65.1 1602.1,73.3 1604.0,64.0 1605.8,99.1 1607.6,28.3 1609.5,69.2 1611.3,78.4 1613.2,40.7 1615.0,58.3 1616.8,54.6 1618.7,48.0 1620.5,113.3 1622.4,37.7 1624.2,78.5 1626.0,65.7 1627.9,52.8 1629.7,85.9 1631.6,65.0 1633.4,56.1 1635.2,72.3 1637.1,61.5 1638.9,103.9 1640.8,95.6 1642.6,94.7 1644.4,64.0 1646.3,24.0 1648.1,66.2 1650.0,74.5 1651.8,72.8 1653.6,51.6 1655.5,57.0 1657.3,94.6 1659.2,50.9 1661.0,72.0 1662.9,54.9 1664.7,111.8 1666.5,102.9 1668.4,59.4 1670.2,107.8 1672.1,63.6 1673.9,64.6 1675.7,68.5 1677.6,64.3 1679.4,66.1 1681.3,62.4 1683.1,79.7 1684.9,71.9 1686.8,24.0 1688.6,48.5 1690.5,59.1 1692.3,63.5 1694.1,86.2 1696.0,66.9 1697.8,76.5 1699.7,52.4 1701.5,90.0 1703.3,119.2 1705.2,82.8 1707.0,57.4 1708.9,24.0 1710.7,50.8" fill="none" stroke="#d0242c" stroke-width="0.85" stroke-linejoin="round" />
<rect x="1518.7" y="18.3" width="226.29999999999995" height="135.0" fill="#fff" stroke="#000" stroke-width="2.2"/>
<polyline points="1521.7,104.5 1523.5,89.2 1525.4,104.0 1527.2,88.5 1529.1,102.9 1530.9,118.0 1532.8,75.8 1534.6,80.8 1536.4,88.2 1538.3,77.8 1540.1,43.7 1542.0,82.4 1543.8,92.4 1545.7,67.3 1547.5,117.9 1549.3,69.5 1551.2,100.4 1553.0,101.3 1554.9,82.5 1556.7,51.0 1558.6,99.8 1560.4,65.5 1562.2,77.1 1564.1,112.9 1565.9,66.3 1567.8,101.5 1569.6,114.5 1571.5,100.8 1573.3,99.5 1575.1,72.8 1577.0,99.6 1578.8,54.6 1580.7,80.3 1582.5,99.3 1584.4,101.6 1586.2,80.2 1588.0,125.8 1589.9,128.7 1591.7,102.6 1593.6,72.1 1595.4,81.2 1597.3,84.3 1599.1,89.1 1600.9,128.8 1602.8,91.3 1604.6,120.6 1606.5,67.9 1608.3,84.9 1610.2,86.6 1612.0,76.7 1613.8,78.2 1615.7,80.1 1617.5,77.7 1619.4,96.7 1621.2,111.7 1623.1,77.9 1624.9,55.6 1626.7,64.3 1628.6,89.1 1630.4,72.4 1632.3,93.7 1634.1,77.0 1636.0,97.0 1637.8,81.9 1639.6,44.3 1641.5,69.2 1643.3,54.5 1645.2,100.4 1647.0,98.6 1648.9,85.6 1650.7,73.5 1652.5,89.0 1654.4,64.3 1656.2,95.9 1658.1,57.3 1659.9,65.2 1661.8,107.3 1663.6,73.0 1665.4,89.3 1667.3,64.2 1669.1,95.6 1671.0,78.5 1672.8,73.7 1674.7,138.3 1676.5,122.8 1678.3,82.2 1680.2,87.3 1682.0,64.3 1683.9,80.2 1685.7,110.4 1687.6,78.1 1689.4,99.9 1691.2,89.4 1693.1,95.1 1694.9,77.7 1696.8,113.5 1698.6,107.4 1700.5,129.7 1702.3,41.5 1704.1,104.9 1706.0,102.2 1707.8,108.1 1709.7,97.8 1711.5,93.6 1713.4,72.4 1715.2,81.2 1717.0,78.1 1718.9,96.7 1720.7,86.3 1722.6,60.2 1724.4,85.2 1726.3,78.6 1728.1,125.8 1729.9,74.3 1731.8,79.6 1733.6,58.8 1735.5,138.3 1737.3,84.3 1739.2,87.4 1741.0,83.2" fill="none" stroke="#d0242c" stroke-width="0.85" stroke-linejoin="round" />
<rect x="1548.3" y="31.3" width="226.4000000000001" height="134.7" fill="#fff" stroke="#000" stroke-width="2.2"/>
<polyline points="1551.3,110.7 1553.1,93.8 1555.0,83.9 1556.8,97.2 1558.7,104.0 1560.5,102.4 1562.4,105.9 1564.2,97.3 1566.0,112.6 1567.9,138.4 1569.7,70.8 1571.6,133.7 1573.4,100.6 1575.3,124.6 1577.1,104.1 1579.0,117.8 1580.8,99.2 1582.6,115.3 1584.5,124.5 1586.3,92.1 1588.2,71.4 1590.0,91.4 1591.9,96.2 1593.7,119.7 1595.5,100.1 1597.4,89.5 1599.2,111.7 1601.1,80.3 1602.9,99.3 1604.8,91.4 1606.6,108.6 1608.5,108.5 1610.3,94.1 1612.1,90.8 1614.0,91.6 1615.8,119.2 1617.7,113.5 1619.5,99.1 1621.4,136.2 1623.2,77.6 1625.0,92.3 1626.9,97.9 1628.7,113.2 1630.6,82.2 1632.4,104.3 1634.3,60.4 1636.1,90.8 1638.0,128.9 1639.8,84.1 1641.6,109.5 1643.5,109.3 1645.3,103.7 1647.2,101.4 1649.0,93.7 1650.9,83.4 1652.7,89.7 1654.5,113.5 1656.4,126.2 1658.2,115.2 1660.1,91.6 1661.9,81.4 1663.8,62.5 1665.6,126.1 1667.5,97.3 1669.3,103.6 1671.1,107.1 1673.0,96.2 1674.8,104.0 1676.7,104.3 1678.5,112.0 1680.4,91.0 1682.2,77.6 1684.0,66.0 1685.9,109.6 1687.7,120.3 1689.6,104.3 1691.4,115.8 1693.3,78.2 1695.1,115.5 1697.0,97.5 1698.8,126.1 1700.6,106.0 1702.5,95.1 1704.3,68.1 1706.2,113.0 1708.0,91.5 1709.9,141.0 1711.7,123.4 1713.5,115.4 1715.4,109.1 1717.2,90.3 1719.1,86.2 1720.9,131.5 1722.8,88.3 1724.6,121.6 1726.5,62.0 1728.3,92.7 1730.1,96.0 1732.0,102.6 1733.8,99.7 1735.7,99.0 1737.5,113.0 1739.4,84.0 1741.2,93.6 1743.0,83.9 1744.9,100.3 1746.7,85.3 1748.6,114.4 1750.4,50.3 1752.3,113.4 1754.1,108.1 1756.0,79.6 1757.8,74.2 1759.6,115.1 1761.5,132.7 1763.3,127.3 1765.2,119.1 1767.0,114.9 1768.9,102.4 1770.7,78.3" fill="none" stroke="#d0242c" stroke-width="0.85" stroke-linejoin="round" />
<rect x="1205.3" y="404.3" width="220.0" height="135.7" fill="#fff" stroke="#000" stroke-width="2.2"/>
<polyline points="1214.3,458.3 1214.6,481.9 1214.8,464.1 1215.1,457.6 1215.3,445.6 1215.6,475.5 1215.8,485.5 1216.1,460.1 1216.4,450.0 1216.6,481.9 1216.9,441.4 1217.1,423.3 1217.4,478.1 1217.6,521.3 1217.9,481.3 1218.2,479.6 1218.4,466.0 1218.7,508.3 1218.9,436.4 1219.2,439.7 1219.4,489.6 1219.7,501.2 1220.0,477.4 1220.2,466.8 1220.5,442.3 1220.7,459.3 1221.0,476.9 1221.2,512.7 1221.5,462.3 1221.8,460.0 1222.0,478.7 1222.3,468.5 1222.5,470.3 1222.8,479.0 1223.0,504.8 1223.3,466.7 1223.6,500.4 1223.8,437.5 1224.1,499.3 1224.3,463.6 1224.6,488.0 1224.8,467.8 1225.1,477.2 1225.4,464.5 1225.6,487.0 1225.9,510.1 1226.1,478.2 1226.4,481.5 1226.6,499.0 1226.9,485.7 1227.2,498.3 1227.4,470.8 1227.7,482.5 1227.9,473.2 1228.2,427.9 1228.4,471.2 1228.7,465.5 1229.0,461.1 1229.2,476.2 1229.5,484.6 1229.7,457.4 1230.0,459.0 1230.2,515.5 1230.5,476.4 1230.8,483.1 1231.0,485.6 1231.3,451.6 1231.5,481.4 1231.8,458.2 1232.0,486.2 1232.3,480.7 1232.6,459.4 1232.8,495.6 1233.1,475.9 1233.3,503.5 1233.6,490.0 1233.8,459.6 1234.1,465.7 1234.4,495.2 1234.6,492.1 1234.9,426.7 1235.1,483.8 1235.4,487.1 1235.6,464.9 1235.9,488.7 1236.2,481.4 1236.4,458.4 1236.7,452.6 1236.9,477.7 1237.2,451.9 1237.4,478.7 1237.7,477.5 1238.0,473.8 1238.2,480.7 1238.5,465.1 1238.7,468.5 1239.0,484.3 1239.2,470.9 1239.5,486.0 1239.8,481.0 1240.0,475.8 1240.3,451.3 1240.5,469.5 1240.8,456.5 1241.0,441.0 1241.3,473.8 1241.6,487.6 1241.8,491.0 1242.1,468.7 1242.3,455.8 1242.6,451.4 1242.8,488.4 1243.1,459.7 1243.4,458.2 1243.6,439.1 1243.9,470.4 1244.1,473.6 1244.4,492.7 1244.6,483.0 1244.9,490.5 1245.2,484.4 1245.4,486.5 1245.7,499.3 1245.9,476.5 1246.2,467.6 1246.4,461.8 1246.7,474.1 1247.0,460.3 1247.2,460.9 1247.5,500.3 1247.7,479.0 1248.0,485.9 1248.2,492.8 1248.5,470.7 1248.8,474.7 1249.0,454.5 1249.3,437.8 1249.5,468.0 1249.8,475.9 1250.1,475.4 1250.3,473.5 1250.6,462.0 1250.8,486.4 1251.1,466.9 1251.3,476.0 1251.6,460.1 1251.9,453.3 1252.1,447.6 1252.4,475.2 1252.6,488.6 1252.9,499.9 1253.1,476.2 1253.4,503.1 1253.7,496.7 1253.9,476.5 1254.2,485.3 1254.4,461.2 1254.7,446.2 1254.9,476.2 1255.2,469.4 1255.5,513.0 1255.7,469.6 1256.0,480.9 1256.2,486.4 1256.5,503.8 1256.7,452.6 1257.0,495.4 1257.3,495.1 1257.5,472.8 1257.8,469.4 1258.0,469.7 1258.3,471.5 1258.5,489.1 1258.8,462.6 1259.1,470.7 1259.3,488.6 1259.6,446.6 1259.8,477.4 1260.1,460.0 1260.3,488.2 1260.6,493.7 1260.9,480.7 1261.1,480.2 1261.4,454.1 1261.6,499.3 1261.9,470.4 1262.1,483.4 1262.4,462.3 1262.7,470.5 1262.9,479.1 1263.2,435.7 1263.4,473.3 1263.7,459.7 1263.9,486.4 1264.2,474.8 1264.5,471.5 1264.7,470.6 1265.0,476.8 1265.2,482.5 1265.5,521.3 1265.7,479.7 1266.0,484.3 1266.3,475.5 1266.5,462.8 1266.8,431.7 1267.0,465.3 1267.3,462.1 1267.5,461.7 1267.8,461.3 1268.1,463.8 1268.3,477.3 1268.6,480.1 1268.8,467.2 1269.1,452.0 1269.3,453.4 1269.6,455.2 1269.9,489.8 1270.1,469.1 1270.4,468.0 1270.6,466.1 1270.9,503.3 1271.1,499.3 1271.4,503.4 1271.7,477.3 1271.9,423.3 1272.2,469.5 1272.4,493.3 1272.7,467.8 1272.9,475.7 1273.2,469.5 1273.5,479.0 1273.7,486.3 1274.0,478.0 1274.2,461.4 1274.5,466.5 1274.7,454.5 1275.0,494.1 1275.3,459.4 1275.5,471.6 1275.8,468.9 1276.0,447.6 1276.3,473.9 1276.5,469.0 1276.8,465.2 1277.1,462.5 1277.3,463.3 1277.6,457.1 1277.8,465.6 1278.1,477.4 1278.3,437.8 1278.6,472.4 1278.9,468.0 1279.1,483.0 1279.4,521.3 1279.6,489.2 1279.9,471.0 1280.1,463.5 1280.4,471.6 1280.7,459.4 1280.9,461.4 1281.2,456.4 1281.4,471.7 1281.7,471.0 1281.9,475.7 1282.2,484.8 1282.5,443.3 1282.7,498.4 1283.0,472.8 1283.2,469.2 1283.5,499.5 1283.7,462.0 1284.0,476.8 1284.3,468.7 1284.5,476.6 1284.8,498.7 1285.0,469.0 1285.3,470.7 1285.5,449.5 1285.8,464.8 1286.1,496.3 1286.3,456.2 1286.6,457.3 1286.8,462.8 1287.1,465.4 1287.3,481.0 1287.6,464.0 1287.9,479.1 1288.1,438.3 1288.4,474.9 1288.6,497.8 1288.9,475.7 1289.1,444.7 1289.4,478.8 1289.7,512.2 1289.9,454.1 1290.2,466.3 1290.4,477.0 1290.7,462.8 1290.9,487.2 1291.2,490.2 1291.5,461.3 1291.7,479.0 1292.0,465.9 1292.2,471.7 1292.5,460.4 1292.7,469.4 1293.0,500.4 1293.3,459.8 1293.5,480.0 1293.8,450.4 1294.0,470.1 1294.3,449.3 1294.5,477.0 1294.8,493.5 1295.1,475.3 1295.3,465.6 1295.6,476.7 1295.8,478.7 1296.1,451.3 1296.3,474.2 1296.6,452.7 1296.9,469.2 1297.1,496.9 1297.4,486.0 1297.6,477.1 1297.9,468.2 1298.1,483.2 1298.4,490.7 1298.7,484.2 1298.9,477.8 1299.2,488.5 1299.4,479.7 1299.7,450.0 1299.9,466.9 1300.2,480.6 1300.5,471.8 1300.7,450.9 1301.0,461.4 1301.2,473.3 1301.5,487.1 1301.7,505.6 1302.0,475.7 1302.3,473.0 1302.5,500.0 1302.8,488.0 1303.0,472.4 1303.3,500.0 1303.5,490.1 1303.8,472.5 1304.1,463.8 1304.3,466.0 1304.6,459.6 1304.8,451.3 1305.1,462.5 1305.3,475.5 1305.6,440.3 1305.9,450.5 1306.1,461.7 1306.4,480.4 1306.6,465.3 1306.9,501.8 1307.1,477.7 1307.4,507.9 1307.7,476.7 1307.9,460.8 1308.2,471.1 1308.4,439.7 1308.7,471.7 1308.9,470.4 1309.2,477.5 1309.5,462.8 1309.7,472.1 1310.0,458.9 1310.2,449.6 1310.5,467.7 1310.7,484.7 1311.0,463.8 1311.3,456.8 1311.5,462.3 1311.8,468.0 1312.0,458.7 1312.3,449.1 1312.5,521.3 1312.8,454.0 1313.1,462.9 1313.3,461.0 1313.6,486.0 1313.8,468.9 1314.1,463.0 1314.3,493.2 1314.6,463.9 1314.9,470.9 1315.1,453.5 1315.4,464.3 1315.6,474.1 1315.9,470.8 1316.1,462.0 1316.4,469.9 1316.7,464.3 1316.9,479.1 1317.2,486.9 1317.4,480.4 1317.7,492.8 1318.0,483.1 1318.2,467.2 1318.5,502.3 1318.7,486.1 1319.0,462.4 1319.2,478.9 1319.5,471.3 1319.8,485.5 1320.0,482.9 1320.3,475.5 1320.5,448.3 1320.8,464.6 1321.0,490.0 1321.3,465.8 1321.6,457.6 1321.8,464.4 1322.1,488.9 1322.3,472.4 1322.6,445.3 1322.8,485.8 1323.1,466.7 1323.4,480.6 1323.6,493.1 1323.9,477.1 1324.1,458.1 1324.4,456.7 1324.6,484.7 1324.9,476.7 1325.2,482.9 1325.4,495.7 1325.7,458.2 1325.9,447.6 1326.2,449.1 1326.4,478.7 1326.7,453.9 1327.0,452.0 1327.2,476.8 1327.5,471.1 1327.7,477.1 1328.0,467.7 1328.2,449.6 1328.5,486.5 1328.8,490.0 1329.0,460.1 1329.3,469.0 1329.5,505.7 1329.8,485.9 1330.0,481.8 1330.3,481.1 1330.6,466.6 1330.8,457.7 1331.1,473.7 1331.3,469.7 1331.6,484.4 1331.8,455.0 1332.1,446.6 1332.4,475.5 1332.6,488.0 1332.9,429.8 1333.1,456.7 1333.4,483.4 1333.6,498.2 1333.9,476.2 1334.2,452.3 1334.4,477.5 1334.7,475.0 1334.9,477.1 1335.2,460.5 1335.4,454.9 1335.7,484.8 1336.0,475.0 1336.2,473.7 1336.5,479.8 1336.7,483.8 1337.0,450.4 1337.2,469.5 1337.5,458.6 1337.8,451.2 1338.0,476.7 1338.3,460.4 1338.5,477.9 1338.8,472.3 1339.0,467.4 1339.3,473.2 1339.6,491.9 1339.8,455.8 1340.1,467.9 1340.3,486.3 1340.6,516.5 1340.8,471.5 1341.1,463.5 1341.4,455.4 1341.6,453.9 1341.9,477.0 1342.1,462.6 1342.4,492.2 1342.6,467.7 1342.9,461.0 1343.2,480.2 1343.4,473.4 1343.7,469.6 1343.9,469.9 1344.2,455.6 1344.4,485.6 1344.7,442.4 1345.0,484.9 1345.2,482.4 1345.5,481.7 1345.7,472.3 1346.0,477.0 1346.2,464.2 1346.5,470.9 1346.8,439.6 1347.0,466.8 1347.3,474.2 1347.5,465.8 1347.8,462.8 1348.0,473.5 1348.3,490.8 1348.6,480.9 1348.8,469.4 1349.1,460.0 1349.3,466.2 1349.6,472.3 1349.8,462.7 1350.1,477.9 1350.4,467.1 1350.6,445.7 1350.9,448.2 1351.1,456.4 1351.4,476.4 1351.6,467.4 1351.9,487.0 1352.2,456.1 1352.4,479.3 1352.7,492.6 1352.9,477.3 1353.2,466.5 1353.4,503.0 1353.7,486.4 1354.0,458.5 1354.2,469.4 1354.5,471.8 1354.7,496.7 1355.0,450.1 1355.2,460.7 1355.5,460.3 1355.8,483.3 1356.0,462.5 1356.3,442.4 1356.5,475.6 1356.8,474.5 1357.0,478.5 1357.3,460.4 1357.6,474.1 1357.8,475.4 1358.1,490.3 1358.3,490.3 1358.6,457.7 1358.8,439.1 1359.1,452.8 1359.4,455.9 1359.6,481.2 1359.9,471.7 1360.1,465.6 1360.4,473.5 1360.6,451.4 1360.9,497.4 1361.2,478.3 1361.4,475.7 1361.7,482.9 1361.9,460.8 1362.2,495.9 1362.4,457.2 1362.7,461.9 1363.0,462.4 1363.2,445.0 1363.5,440.7 1363.7,467.1 1364.0,459.4 1364.2,466.6 1364.5,466.0 1364.8,476.7 1365.0,486.0 1365.3,461.5 1365.5,479.8 1365.8,461.7 1366.0,456.7 1366.3,476.8 1366.6,467.2 1366.8,468.4 1367.1,472.9 1367.3,456.4 1367.6,470.6 1367.8,468.2 1368.1,503.4 1368.4,464.2 1368.6,487.3 1368.9,478.1 1369.1,451.1 1369.4,450.9 1369.6,478.5 1369.9,484.9 1370.2,464.7 1370.4,476.7 1370.7,467.2 1370.9,486.0 1371.2,449.5 1371.4,451.8 1371.7,490.1 1372.0,479.8 1372.2,478.7 1372.5,458.7 1372.7,495.2 1373.0,468.7 1373.2,474.1 1373.5,486.1 1373.8,459.4 1374.0,502.9 1374.3,490.4 1374.5,482.3 1374.8,456.5 1375.0,475.0 1375.3,485.7 1375.6,465.3 1375.8,478.2 1376.1,478.1 1376.3,474.7 1376.6,466.7 1376.8,423.3 1377.1,484.1 1377.4,466.2 1377.6,473.2 1377.9,475.2 1378.1,455.4 1378.4,459.4 1378.6,455.1 1378.9,477.9 1379.2,487.5 1379.4,463.2 1379.7,475.0 1379.9,480.8 1380.2,462.7 1380.4,484.6 1380.7,482.6 1381.0,455.5 1381.2,471.8 1381.5,463.1 1381.7,485.2 1382.0,462.3 1382.2,478.9 1382.5,454.1 1382.8,457.4 1383.0,463.2 1383.3,450.9 1383.5,466.0 1383.8,481.6 1384.0,454.8 1384.3,464.7 1384.6,454.7 1384.8,467.7 1385.1,443.4 1385.3,480.3 1385.6,485.0 1385.9,487.9 1386.1,459.4 1386.4,493.3 1386.6,497.7 1386.9,496.0 1387.1,467.1 1387.4,464.8 1387.7,481.8 1387.9,458.8 1388.2,462.6 1388.4,449.8 1388.7,449.4 1388.9,481.7 1389.2,467.8 1389.5,472.5 1389.7,463.2 1390.0,467.4 1390.2,469.9 1390.5,456.7 1390.7,468.9 1391.0,460.8 1391.3,470.1 1391.5,472.2 1391.8,452.2 1392.0,459.9 1392.3,456.2 1392.5,462.1 1392.8,473.2 1393.1,467.6 1393.3,467.1 1393.6,491.3 1393.8,487.1 1394.1,452.4 1394.3,471.0 1394.6,503.6 1394.9,471.8 1395.1,465.3 1395.4,483.3 1395.6,435.9 1395.9,454.7 1396.1,458.8 1396.4,472.8 1396.7,465.6 1396.9,460.5 1397.2,464.3 1397.4,477.7 1397.7,464.4 1397.9,463.9 1398.2,463.8 1398.5,485.1 1398.7,467.9 1399.0,470.0 1399.2,466.6 1399.5,465.3 1399.7,495.9 1400.0,456.6 1400.3,455.7 1400.5,490.6 1400.8,471.0 1401.0,483.5 1401.3,476.1 1401.5,455.7 1401.8,461.8 1402.1,435.3 1402.3,467.8 1402.6,490.2 1402.8,468.3 1403.1,506.4 1403.3,446.1 1403.6,464.5 1403.9,464.6 1404.1,468.8 1404.4,484.9 1404.6,472.4 1404.9,480.7 1405.1,477.1 1405.4,467.1 1405.7,493.5 1405.9,445.7 1406.2,490.4 1406.4,461.4 1406.7,481.4 1406.9,491.0 1407.2,465.8 1407.5,468.6 1407.7,474.2 1408.0,472.2 1408.2,478.4 1408.5,462.9 1408.7,476.9 1409.0,471.4 1409.3,457.9 1409.5,494.1 1409.8,482.8 1410.0,480.1 1410.3,484.9 1410.5,490.7 1410.8,477.2 1411.1,468.7 1411.3,474.2 1411.6,496.5 1411.8,463.8 1412.1,462.2 1412.3,471.3 1412.6,487.6 1412.9,483.3 1413.1,438.7 1413.4,445.6 1413.6,466.8 1413.9,484.6 1414.1,452.0 1414.4,468.9 1414.7,436.0 1414.9,484.4 1415.2,466.5 1415.4,475.5 1415.7,464.4 1415.9,483.9 1416.2,455.9 1416.5,477.1 1416.7,488.5 1417.0,464.7 1417.2,468.5 1417.5,495.0 1417.7,472.9 1418.0,470.8 1418.3,470.2 1418.5,438.4 1418.8,483.5 1419.0,472.5 1419.3,490.9 1419.5,494.7 1419.8,478.6" fill="none" stroke="#2ee9f3" stroke-width="0.6" stroke-linejoin="round" />
<rect x="1226.7" y="414" width="220.0" height="136" fill="#fff" stroke="#000" stroke-width="2.2"/>
<polyline points="1235.7,494.0 1236.0,472.1 1236.2,492.4 1236.5,475.3 1236.7,475.8 1237.0,487.1 1237.2,469.1 1237.5,464.3 1237.8,517.6 1238.0,470.0 1238.3,484.8 1238.5,489.4 1238.8,480.7 1239.0,461.4 1239.3,485.0 1239.6,487.6 1239.8,512.8 1240.1,484.7 1240.3,482.6 1240.6,495.3 1240.8,489.3 1241.1,469.4 1241.4,463.2 1241.6,486.5 1241.9,433.0 1242.1,464.0 1242.4,462.3 1242.6,470.0 1242.9,480.2 1243.2,491.6 1243.4,483.5 1243.7,480.9 1243.9,479.4 1244.2,433.0 1244.4,442.4 1244.7,473.4 1245.0,465.4 1245.2,497.1 1245.5,512.2 1245.7,483.1 1246.0,477.6 1246.2,456.3 1246.5,433.0 1246.8,474.7 1247.0,462.6 1247.3,463.5 1247.5,477.8 1247.8,468.0 1248.0,474.3 1248.3,459.2 1248.6,497.3 1248.8,526.0 1249.1,479.6 1249.3,456.2 1249.6,466.6 1249.8,488.9 1250.1,473.4 1250.4,491.5 1250.6,470.5 1250.9,495.8 1251.1,497.8 1251.4,459.8 1251.6,507.5 1251.9,524.6 1252.2,464.6 1252.4,476.7 1252.7,516.6 1252.9,464.2 1253.2,498.5 1253.4,488.5 1253.7,482.7 1254.0,454.8 1254.2,480.9 1254.5,461.9 1254.7,483.1 1255.0,472.1 1255.2,504.3 1255.5,480.6 1255.8,493.1 1256.0,499.0 1256.3,475.5 1256.5,467.3 1256.8,471.9 1257.0,487.6 1257.3,468.8 1257.6,499.5 1257.8,476.0 1258.1,472.4 1258.3,482.4 1258.6,485.0 1258.8,479.4 1259.1,490.0 1259.4,484.5 1259.6,468.8 1259.9,506.2 1260.1,457.7 1260.4,468.7 1260.6,477.0 1260.9,500.2 1261.2,487.9 1261.4,491.7 1261.7,471.2 1261.9,467.1 1262.2,456.8 1262.4,478.8 1262.7,508.9 1263.0,497.9 1263.2,488.7 1263.5,473.0 1263.7,507.3 1264.0,484.7 1264.2,480.8 1264.5,489.7 1264.8,483.6 1265.0,433.0 1265.3,481.8 1265.5,450.2 1265.8,478.1 1266.0,489.5 1266.3,475.1 1266.6,486.7 1266.8,482.6 1267.1,515.7 1267.3,477.1 1267.6,488.2 1267.8,465.7 1268.1,479.9 1268.4,485.8 1268.6,504.5 1268.9,481.5 1269.1,486.0 1269.4,495.9 1269.6,450.5 1269.9,484.1 1270.2,470.2 1270.4,457.8 1270.7,475.0 1270.9,473.2 1271.2,474.4 1271.5,470.5 1271.7,471.8 1272.0,472.5 1272.2,480.4 1272.5,489.7 1272.7,488.4 1273.0,488.8 1273.3,479.6 1273.5,462.3 1273.8,492.4 1274.0,492.0 1274.3,498.5 1274.5,482.7 1274.8,470.4 1275.1,488.4 1275.3,474.5 1275.6,511.8 1275.8,484.9 1276.1,470.9 1276.3,490.0 1276.6,503.9 1276.9,476.8 1277.1,483.2 1277.4,463.4 1277.6,491.0 1277.9,484.6 1278.1,488.0 1278.4,480.8 1278.7,523.8 1278.9,455.3 1279.2,475.4 1279.4,485.0 1279.7,489.6 1279.9,472.9 1280.2,478.2 1280.5,488.8 1280.7,484.3 1281.0,477.4 1281.2,486.7 1281.5,488.6 1281.7,490.0 1282.0,486.1 1282.3,505.6 1282.5,496.6 1282.8,475.7 1283.0,473.2 1283.3,483.1 1283.5,525.0 1283.8,521.8 1284.1,476.7 1284.3,462.9 1284.6,467.8 1284.8,486.2 1285.1,486.3 1285.3,487.0 1285.6,459.2 1285.9,479.2 1286.1,505.1 1286.4,458.5 1286.6,470.6 1286.9,516.5 1287.1,491.5 1287.4,465.7 1287.7,470.3 1287.9,495.6 1288.2,481.9 1288.4,472.5 1288.7,478.0 1288.9,498.4 1289.2,484.1 1289.5,472.6 1289.7,476.6 1290.0,495.5 1290.2,444.4 1290.5,479.3 1290.7,500.5 1291.0,485.7 1291.3,528.4 1291.5,491.2 1291.8,482.3 1292.0,444.8 1292.3,479.8 1292.5,476.5 1292.8,472.3 1293.1,478.1 1293.3,490.3 1293.6,466.6 1293.8,475.5 1294.1,458.8 1294.3,457.7 1294.6,491.4 1294.9,486.9 1295.1,487.2 1295.4,486.6 1295.6,475.7 1295.9,484.5 1296.1,497.5 1296.4,457.9 1296.7,458.3 1296.9,480.6 1297.2,496.9 1297.4,491.5 1297.7,492.7 1297.9,497.0 1298.2,494.5 1298.5,478.6 1298.7,478.4 1299.0,472.4 1299.2,494.0 1299.5,476.8 1299.7,454.1 1300.0,477.3 1300.3,486.6 1300.5,433.0 1300.8,474.7 1301.0,490.4 1301.3,471.9 1301.5,497.9 1301.8,487.4 1302.1,464.0 1302.3,490.4 1302.6,506.7 1302.8,468.8 1303.1,468.8 1303.3,500.7 1303.6,487.3 1303.9,467.2 1304.1,477.2 1304.4,471.3 1304.6,483.1 1304.9,491.3 1305.1,489.2 1305.4,486.1 1305.7,479.3 1305.9,520.5 1306.2,500.7 1306.4,481.1 1306.7,470.4 1306.9,488.9 1307.2,481.2 1307.5,501.5 1307.7,499.1 1308.0,479.0 1308.2,482.0 1308.5,486.5 1308.7,495.2 1309.0,479.8 1309.3,481.9 1309.5,485.1 1309.8,482.8 1310.0,485.6 1310.3,475.2 1310.5,476.3 1310.8,460.9 1311.1,466.7 1311.3,481.8 1311.6,502.2 1311.8,470.0 1312.1,491.5 1312.3,455.2 1312.6,502.1 1312.9,486.7 1313.1,458.5 1313.4,481.4 1313.6,472.3 1313.9,470.1 1314.1,488.9 1314.4,473.0 1314.7,492.2 1314.9,485.2 1315.2,454.3 1315.4,484.0 1315.7,477.3 1315.9,498.8 1316.2,466.8 1316.5,497.7 1316.7,492.0 1317.0,487.8 1317.2,492.3 1317.5,519.7 1317.7,485.9 1318.0,487.0 1318.3,483.0 1318.5,492.9 1318.8,493.6 1319.0,485.0 1319.3,481.7 1319.5,493.2 1319.8,482.2 1320.1,484.5 1320.3,460.1 1320.6,471.0 1320.8,474.6 1321.1,470.3 1321.3,494.3 1321.6,466.9 1321.9,480.0 1322.1,488.4 1322.4,476.9 1322.6,494.7 1322.9,456.4 1323.1,476.8 1323.4,501.9 1323.7,501.4 1323.9,491.1 1324.2,490.1 1324.4,473.5 1324.7,466.5 1324.9,471.2 1325.2,473.9 1325.5,492.6 1325.7,463.4 1326.0,468.9 1326.2,510.0 1326.5,492.1 1326.7,486.4 1327.0,491.1 1327.3,467.2 1327.5,471.4 1327.8,481.0 1328.0,502.0 1328.3,505.7 1328.5,493.7 1328.8,495.0 1329.1,495.4 1329.3,512.1 1329.6,498.4 1329.8,488.0 1330.1,478.1 1330.3,489.5 1330.6,484.5 1330.9,483.3 1331.1,483.4 1331.4,469.4 1331.6,490.5 1331.9,480.0 1332.1,497.6 1332.4,465.4 1332.7,474.4 1332.9,469.6 1333.2,480.8 1333.4,483.5 1333.7,499.7 1333.9,477.2 1334.2,463.0 1334.5,528.6 1334.7,459.6 1335.0,491.3 1335.2,471.0 1335.5,494.9 1335.7,484.9 1336.0,470.8 1336.3,484.2 1336.5,460.1 1336.8,481.6 1337.0,472.4 1337.3,490.2 1337.5,489.3 1337.8,488.7 1338.1,475.8 1338.3,456.8 1338.6,481.6 1338.8,501.9 1339.1,488.8 1339.4,498.7 1339.6,475.6 1339.9,481.7 1340.1,504.4 1340.4,491.0 1340.6,460.3 1340.9,474.5 1341.2,489.1 1341.4,471.4 1341.7,477.0 1341.9,487.6 1342.2,479.8 1342.4,458.6 1342.7,505.1 1343.0,458.8 1343.2,485.1 1343.5,472.1 1343.7,477.2 1344.0,478.5 1344.2,483.6 1344.5,482.0 1344.8,473.6 1345.0,475.5 1345.3,505.0 1345.5,476.0 1345.8,463.9 1346.0,471.4 1346.3,479.0 1346.6,505.0 1346.8,475.2 1347.1,474.3 1347.3,466.7 1347.6,498.1 1347.8,484.9 1348.1,487.8 1348.4,488.0 1348.6,509.5 1348.9,489.4 1349.1,487.4 1349.4,486.5 1349.6,451.2 1349.9,488.9 1350.2,488.5 1350.4,470.1 1350.7,490.6 1350.9,468.5 1351.2,476.5 1351.4,489.2 1351.7,496.6 1352.0,480.4 1352.2,486.1 1352.5,480.3 1352.7,489.1 1353.0,473.4 1353.2,494.8 1353.5,489.1 1353.8,484.3 1354.0,495.8 1354.3,486.0 1354.5,484.6 1354.8,497.5 1355.0,511.9 1355.3,464.5 1355.6,485.3 1355.8,484.7 1356.1,496.9 1356.3,466.0 1356.6,484.7 1356.8,503.3 1357.1,473.6 1357.4,493.0 1357.6,474.7 1357.9,483.7 1358.1,464.5 1358.4,477.1 1358.6,486.5 1358.9,463.7 1359.2,445.9 1359.4,490.2 1359.7,465.4 1359.9,477.8 1360.2,477.3 1360.4,513.1 1360.7,492.0 1361.0,452.8 1361.2,479.8 1361.5,489.7 1361.7,459.5 1362.0,468.5 1362.2,469.2 1362.5,492.1 1362.8,482.2 1363.0,465.5 1363.3,512.4 1363.5,509.5 1363.8,496.5 1364.0,471.0 1364.3,478.4 1364.6,475.9 1364.8,478.2 1365.1,480.4 1365.3,460.5 1365.6,442.8 1365.8,470.2 1366.1,468.1 1366.4,490.9 1366.6,459.1 1366.9,480.3 1367.1,479.6 1367.4,490.8 1367.6,499.5 1367.9,490.6 1368.2,493.8 1368.4,502.2 1368.7,454.8 1368.9,475.3 1369.2,463.6 1369.4,471.8 1369.7,504.7 1370.0,481.5 1370.2,491.9 1370.5,500.5 1370.7,484.7 1371.0,479.4 1371.2,480.7 1371.5,479.1 1371.8,485.3 1372.0,481.3 1372.3,465.4 1372.5,455.8 1372.8,470.1 1373.0,484.6 1373.3,476.5 1373.6,471.0 1373.8,457.8 1374.1,464.2 1374.3,467.9 1374.6,471.7 1374.8,484.9 1375.1,517.8 1375.4,461.5 1375.6,473.0 1375.9,496.0 1376.1,481.7 1376.4,488.8 1376.6,491.2 1376.9,460.3 1377.2,486.0 1377.4,453.9 1377.7,483.8 1377.9,491.3 1378.2,480.5 1378.4,456.5 1378.7,484.4 1379.0,471.1 1379.2,511.3 1379.5,474.7 1379.7,506.7 1380.0,483.4 1380.2,465.1 1380.5,484.7 1380.8,472.3 1381.0,485.1 1381.3,486.7 1381.5,478.1 1381.8,464.5 1382.0,480.7 1382.3,482.3 1382.6,495.9 1382.8,512.2 1383.1,480.0 1383.3,484.2 1383.6,479.2 1383.8,464.9 1384.1,470.7 1384.4,492.3 1384.6,479.2 1384.9,479.1 1385.1,484.8 1385.4,517.6 1385.6,494.0 1385.9,483.4 1386.2,473.8 1386.4,485.7 1386.7,500.7 1386.9,461.2 1387.2,482.9 1387.4,489.3 1387.7,475.8 1388.0,474.4 1388.2,483.2 1388.5,492.1 1388.7,488.8 1389.0,470.2 1389.2,484.6 1389.5,475.1 1389.8,511.4 1390.0,495.0 1390.3,487.8 1390.5,488.0 1390.8,510.8 1391.0,489.5 1391.3,461.7 1391.6,478.5 1391.8,487.9 1392.1,493.0 1392.3,512.8 1392.6,477.8 1392.8,492.1 1393.1,488.3 1393.4,473.0 1393.6,468.7 1393.9,473.8 1394.1,499.6 1394.4,488.2 1394.6,467.9 1394.9,502.6 1395.2,462.6 1395.4,482.8 1395.7,464.2 1395.9,491.2 1396.2,495.6 1396.4,495.6 1396.7,466.8 1397.0,486.1 1397.2,498.0 1397.5,470.0 1397.7,508.4 1398.0,486.1 1398.2,478.7 1398.5,478.0 1398.8,473.1 1399.0,484.0 1399.3,508.1 1399.5,479.1 1399.8,483.5 1400.0,488.1 1400.3,476.5 1400.6,468.1 1400.8,478.7 1401.1,449.6 1401.3,449.2 1401.6,478.5 1401.8,488.7 1402.1,512.5 1402.4,475.7 1402.6,504.4 1402.9,451.3 1403.1,465.4 1403.4,488.8 1403.6,475.3 1403.9,492.1 1404.2,501.1 1404.4,474.1 1404.7,499.5 1404.9,478.3 1405.2,483.9 1405.4,462.3 1405.7,477.7 1406.0,460.7 1406.2,467.2 1406.5,493.1 1406.7,499.0 1407.0,520.2 1407.3,482.2 1407.5,515.4 1407.8,493.6 1408.0,521.2 1408.3,489.3 1408.5,465.0 1408.8,497.8 1409.1,492.2 1409.3,487.3 1409.6,478.5 1409.8,504.8 1410.1,481.3 1410.3,483.9 1410.6,502.6 1410.9,501.4 1411.1,464.7 1411.4,472.8 1411.6,478.1 1411.9,494.5 1412.1,490.5 1412.4,510.4 1412.7,506.5 1412.9,489.2 1413.2,490.1 1413.4,504.1 1413.7,497.1 1413.9,478.8 1414.2,488.4 1414.5,514.9 1414.7,442.2 1415.0,504.9 1415.2,480.1 1415.5,500.1 1415.7,472.6 1416.0,482.0 1416.3,465.8 1416.5,483.6 1416.8,494.0 1417.0,465.8 1417.3,483.8 1417.5,485.3 1417.8,484.9 1418.1,492.0 1418.3,478.5 1418.6,464.7 1418.8,460.8 1419.1,477.2 1419.3,475.0 1419.6,469.7 1419.9,490.7 1420.1,467.0 1420.4,480.1 1420.6,501.5 1420.9,474.6 1421.1,497.6 1421.4,479.3 1421.7,472.1 1421.9,487.7 1422.2,478.7 1422.4,466.9 1422.7,497.6 1422.9,523.0 1423.2,484.6 1423.5,485.7 1423.7,450.1 1424.0,468.1 1424.2,477.1 1424.5,484.3 1424.7,503.4 1425.0,508.5 1425.3,487.2 1425.5,480.5 1425.8,489.7 1426.0,481.8 1426.3,475.6 1426.5,492.6 1426.8,488.7 1427.1,492.9 1427.3,466.8 1427.6,528.8 1427.8,476.7 1428.1,472.6 1428.3,518.4 1428.6,492.8 1428.9,470.8 1429.1,497.8 1429.4,496.7 1429.6,483.9 1429.9,468.3 1430.1,470.2 1430.4,491.2 1430.7,512.7 1430.9,500.1 1431.2,479.3 1431.4,512.1 1431.7,493.6 1431.9,475.5 1432.2,503.8 1432.5,490.2 1432.7,484.4 1433.0,471.3 1433.2,499.3 1433.5,482.6 1433.7,484.1 1434.0,482.2 1434.3,517.5 1434.5,474.6 1434.8,493.9 1435.0,485.0 1435.3,493.4 1435.5,462.0 1435.8,482.8 1436.1,448.0 1436.3,494.7 1436.6,488.8 1436.8,460.9 1437.1,489.3 1437.3,478.3 1437.6,464.7 1437.9,487.0 1438.1,492.1 1438.4,487.1 1438.6,466.8 1438.9,478.5 1439.1,463.7 1439.4,490.9 1439.7,491.0 1439.9,502.6 1440.2,489.9 1440.4,495.6 1440.7,484.6 1440.9,495.0 1441.2,495.7" fill="none" stroke="#2ee9f3" stroke-width="0.6" stroke-linejoin="round" />
<rect x="1250.7" y="423.3" width="220.29999999999995" height="135.99999999999994" fill="#fff" stroke="#000" stroke-width="2.2"/>
<polyline points="1259.7,489.1 1260.0,474.7 1260.2,466.4 1260.5,486.2 1260.7,479.8 1261.0,486.7 1261.2,487.8 1261.5,464.0 1261.8,477.4 1262.0,486.5 1262.3,535.4 1262.5,506.2 1262.8,501.3 1263.0,490.5 1263.3,485.7 1263.6,488.5 1263.8,492.7 1264.1,482.6 1264.3,483.0 1264.6,467.7 1264.9,524.9 1265.1,454.7 1265.4,450.4 1265.6,469.1 1265.9,496.6 1266.1,504.2 1266.4,491.5 1266.7,462.5 1266.9,484.8 1267.2,520.9 1267.4,540.3 1267.7,487.8 1267.9,442.3 1268.2,526.3 1268.5,500.8 1268.7,490.5 1269.0,485.9 1269.2,475.6 1269.5,514.5 1269.7,488.3 1270.0,504.6 1270.3,478.5 1270.5,483.5 1270.8,466.9 1271.0,515.2 1271.3,518.9 1271.5,502.6 1271.8,498.4 1272.1,501.3 1272.3,529.8 1272.6,499.2 1272.8,525.0 1273.1,471.8 1273.4,499.4 1273.6,508.1 1273.9,487.6 1274.1,519.2 1274.4,481.2 1274.6,497.6 1274.9,443.4 1275.2,481.7 1275.4,507.2 1275.7,477.4 1275.9,489.9 1276.2,480.6 1276.4,540.3 1276.7,500.8 1277.0,502.1 1277.2,474.6 1277.5,506.0 1277.7,485.9 1278.0,496.4 1278.2,514.7 1278.5,507.2 1278.8,482.3 1279.0,494.4 1279.3,496.3 1279.5,493.9 1279.8,489.8 1280.0,486.6 1280.3,493.2 1280.6,514.7 1280.8,497.9 1281.1,490.3 1281.3,454.3 1281.6,514.8 1281.9,462.7 1282.1,501.0 1282.4,465.2 1282.6,538.6 1282.9,495.9 1283.1,536.3 1283.4,514.1 1283.7,498.6 1283.9,484.6 1284.2,505.6 1284.4,488.5 1284.7,505.6 1284.9,461.6 1285.2,502.5 1285.5,445.6 1285.7,465.7 1286.0,506.8 1286.2,484.6 1286.5,500.8 1286.7,468.3 1287.0,487.1 1287.3,447.0 1287.5,494.6 1287.8,496.9 1288.0,501.1 1288.3,490.4 1288.5,485.4 1288.8,491.1 1289.1,487.2 1289.3,480.2 1289.6,492.8 1289.8,504.5 1290.1,507.0 1290.4,498.4 1290.6,495.6 1290.9,477.0 1291.1,480.7 1291.4,501.0 1291.6,484.4 1291.9,504.4 1292.2,480.2 1292.4,509.4 1292.7,481.0 1292.9,494.4 1293.2,489.2 1293.4,494.6 1293.7,509.8 1294.0,490.1 1294.2,491.6 1294.5,481.3 1294.7,483.3 1295.0,467.6 1295.2,481.5 1295.5,515.5 1295.8,479.5 1296.0,512.1 1296.3,502.2 1296.5,490.8 1296.8,501.7 1297.0,496.8 1297.3,478.8 1297.6,500.6 1297.8,506.5 1298.1,513.9 1298.3,458.9 1298.6,496.2 1298.9,491.1 1299.1,491.0 1299.4,471.3 1299.6,501.5 1299.9,507.0 1300.1,496.6 1300.4,502.8 1300.7,510.1 1300.9,528.5 1301.2,491.0 1301.4,497.7 1301.7,468.8 1301.9,501.4 1302.2,495.7 1302.5,468.9 1302.7,510.2 1303.0,477.0 1303.2,508.1 1303.5,506.6 1303.7,486.2 1304.0,489.8 1304.3,507.9 1304.5,488.6 1304.8,452.6 1305.0,478.5 1305.3,490.0 1305.5,498.6 1305.8,493.4 1306.1,483.8 1306.3,494.1 1306.6,486.3 1306.8,471.0 1307.1,507.9 1307.4,489.2 1307.6,484.1 1307.9,495.1 1308.1,498.6 1308.4,473.5 1308.6,492.4 1308.9,492.7 1309.2,498.0 1309.4,495.1 1309.7,495.1 1309.9,492.7 1310.2,508.3 1310.4,508.5 1310.7,501.5 1311.0,497.8 1311.2,499.4 1311.5,480.4 1311.7,492.2 1312.0,481.9 1312.2,488.4 1312.5,528.1 1312.8,486.4 1313.0,473.4 1313.3,489.3 1313.5,492.8 1313.8,506.3 1314.0,488.8 1314.3,510.7 1314.6,521.4 1314.8,488.0 1315.1,479.3 1315.3,495.5 1315.6,493.7 1315.9,500.0 1316.1,473.4 1316.4,485.7 1316.6,495.8 1316.9,496.1 1317.1,489.6 1317.4,477.2 1317.7,497.8 1317.9,501.0 1318.2,488.0 1318.4,493.5 1318.7,512.8 1318.9,493.3 1319.2,498.2 1319.5,495.8 1319.7,489.4 1320.0,487.9 1320.2,459.4 1320.5,484.1 1320.7,480.0 1321.0,500.0 1321.3,491.6 1321.5,500.1 1321.8,499.4 1322.0,481.9 1322.3,465.9 1322.5,482.0 1322.8,487.4 1323.1,482.2 1323.3,481.4 1323.6,492.8 1323.8,492.8 1324.1,483.1 1324.4,462.6 1324.6,490.6 1324.9,516.8 1325.1,482.3 1325.4,488.9 1325.6,502.1 1325.9,502.4 1326.2,540.3 1326.4,501.8 1326.7,495.1 1326.9,482.3 1327.2,492.8 1327.4,507.2 1327.7,499.8 1328.0,491.1 1328.2,481.1 1328.5,486.4 1328.7,481.2 1329.0,532.0 1329.2,488.3 1329.5,487.3 1329.8,502.6 1330.0,489.1 1330.3,499.4 1330.5,514.3 1330.8,511.4 1331.0,483.6 1331.3,485.3 1331.6,475.8 1331.8,476.4 1332.1,486.3 1332.3,515.2 1332.6,494.0 1332.9,495.2 1333.1,453.1 1333.4,506.6 1333.6,505.6 1333.9,508.8 1334.1,480.0 1334.4,499.8 1334.7,483.2 1334.9,501.9 1335.2,471.8 1335.4,512.3 1335.7,497.8 1335.9,483.6 1336.2,493.8 1336.5,502.4 1336.7,462.2 1337.0,514.9 1337.2,502.3 1337.5,474.2 1337.7,472.9 1338.0,491.5 1338.3,512.7 1338.5,504.8 1338.8,501.7 1339.0,492.6 1339.3,476.3 1339.5,472.2 1339.8,475.0 1340.1,498.8 1340.3,478.3 1340.6,477.4 1340.8,479.6 1341.1,491.6 1341.4,497.4 1341.6,480.0 1341.9,453.4 1342.1,494.4 1342.4,487.0 1342.6,472.9 1342.9,470.6 1343.2,450.1 1343.4,490.6 1343.7,476.5 1343.9,509.8 1344.2,516.8 1344.4,496.8 1344.7,484.8 1345.0,507.9 1345.2,493.4 1345.5,489.2 1345.7,491.6 1346.0,486.5 1346.2,474.7 1346.5,494.7 1346.8,496.6 1347.0,483.0 1347.3,473.8 1347.5,495.8 1347.8,474.2 1348.0,482.8 1348.3,495.9 1348.6,491.7 1348.8,499.5 1349.1,482.7 1349.3,489.5 1349.6,467.6 1349.9,521.2 1350.1,505.5 1350.4,496.7 1350.6,484.3 1350.9,495.3 1351.1,500.8 1351.4,486.6 1351.7,496.1 1351.9,488.4 1352.2,480.3 1352.4,479.8 1352.7,512.0 1352.9,500.1 1353.2,486.2 1353.5,493.4 1353.7,502.1 1354.0,480.7 1354.2,489.7 1354.5,484.6 1354.7,479.5 1355.0,496.2 1355.3,475.9 1355.5,487.5 1355.8,487.7 1356.0,475.2 1356.3,529.1 1356.5,508.1 1356.8,516.8 1357.1,478.9 1357.3,489.1 1357.6,501.3 1357.8,502.1 1358.1,519.0 1358.4,486.3 1358.6,491.5 1358.9,486.1 1359.1,479.7 1359.4,487.6 1359.6,470.3 1359.9,499.2 1360.2,471.7 1360.4,486.4 1360.7,498.3 1360.9,488.7 1361.2,455.7 1361.4,507.3 1361.7,504.6 1362.0,496.5 1362.2,488.8 1362.5,490.1 1362.7,469.6 1363.0,493.4 1363.2,482.6 1363.5,497.3 1363.8,507.1 1364.0,493.0 1364.3,495.3 1364.5,475.6 1364.8,472.6 1365.0,498.6 1365.3,480.3 1365.6,505.1 1365.8,468.6 1366.1,512.3 1366.3,498.6 1366.6,486.6 1366.8,496.6 1367.1,511.0 1367.4,478.0 1367.6,512.8 1367.9,479.3 1368.1,520.3 1368.4,471.9 1368.7,482.2 1368.9,485.3 1369.2,480.7 1369.4,496.7 1369.7,492.5 1369.9,470.1 1370.2,502.3 1370.5,494.3 1370.7,494.1 1371.0,495.4 1371.2,499.9 1371.5,523.8 1371.7,491.9 1372.0,487.7 1372.3,478.1 1372.5,479.4 1372.8,500.4 1373.0,495.8 1373.3,503.7 1373.5,497.0 1373.8,505.8 1374.1,474.5 1374.3,485.7 1374.6,482.2 1374.8,497.8 1375.1,493.5 1375.3,483.3 1375.6,505.5 1375.9,483.9 1376.1,481.9 1376.4,497.8 1376.6,491.9 1376.9,508.5 1377.2,459.0 1377.4,486.3 1377.7,474.9 1377.9,494.3 1378.2,503.8 1378.4,493.9 1378.7,477.5 1379.0,472.8 1379.2,482.6 1379.5,491.8 1379.7,486.8 1380.0,475.5 1380.2,509.4 1380.5,479.2 1380.8,500.2 1381.0,488.4 1381.3,483.0 1381.5,485.8 1381.8,489.4 1382.0,475.7 1382.3,495.9 1382.6,495.5 1382.8,509.8 1383.1,489.2 1383.3,482.4 1383.6,492.3 1383.8,520.0 1384.1,483.8 1384.4,482.2 1384.6,500.4 1384.9,495.3 1385.1,490.8 1385.4,506.4 1385.7,488.2 1385.9,490.2 1386.2,506.4 1386.4,532.2 1386.7,502.8 1386.9,474.0 1387.2,478.4 1387.5,495.7 1387.7,514.8 1388.0,468.1 1388.2,483.4 1388.5,473.0 1388.7,469.1 1389.0,485.8 1389.3,489.5 1389.5,502.3 1389.8,489.3 1390.0,504.0 1390.3,476.5 1390.5,494.4 1390.8,473.1 1391.1,495.1 1391.3,486.5 1391.6,505.4 1391.8,481.7 1392.1,505.1 1392.3,467.0 1392.6,485.1 1392.9,517.3 1393.1,513.0 1393.4,487.8 1393.6,492.1 1393.9,456.3 1394.2,509.8 1394.4,495.5 1394.7,491.3 1394.9,485.3 1395.2,466.4 1395.4,492.9 1395.7,514.8 1396.0,469.9 1396.2,485.2 1396.5,511.3 1396.7,503.8 1397.0,495.6 1397.2,489.9 1397.5,478.7 1397.8,494.8 1398.0,497.1 1398.3,501.5 1398.5,493.6 1398.8,489.8 1399.0,485.7 1399.3,526.6 1399.6,506.0 1399.8,483.3 1400.1,472.2 1400.3,480.9 1400.6,527.9 1400.8,512.0 1401.1,484.6 1401.4,490.4 1401.6,490.5 1401.9,468.1 1402.1,504.7 1402.4,475.1 1402.7,489.2 1402.9,497.2 1403.2,514.3 1403.4,503.9 1403.7,464.7 1403.9,490.3 1404.2,481.2 1404.5,479.8 1404.7,493.4 1405.0,477.8 1405.2,485.8 1405.5,493.6 1405.7,496.2 1406.0,505.1 1406.3,485.3 1406.5,493.7 1406.8,470.3 1407.0,495.5 1407.3,504.1 1407.5,518.3 1407.8,473.6 1408.1,465.0 1408.3,491.7 1408.6,529.8 1408.8,478.1 1409.1,500.5 1409.3,482.5 1409.6,486.2 1409.9,483.2 1410.1,489.7 1410.4,494.7 1410.6,477.8 1410.9,496.1 1411.2,476.5 1411.4,498.0 1411.7,489.2 1411.9,505.5 1412.2,481.8 1412.4,498.6 1412.7,502.7 1413.0,476.8 1413.2,487.6 1413.5,492.5 1413.7,502.6 1414.0,491.9 1414.2,487.0 1414.5,480.3 1414.8,502.5 1415.0,480.2 1415.3,517.1 1415.5,490.7 1415.8,501.7 1416.0,483.3 1416.3,495.9 1416.6,464.0 1416.8,489.1 1417.1,486.0 1417.3,515.0 1417.6,510.2 1417.8,475.5 1418.1,498.3 1418.4,478.2 1418.6,498.9 1418.9,483.6 1419.1,500.2 1419.4,485.4 1419.7,479.8 1419.9,472.2 1420.2,500.2 1420.4,510.8 1420.7,485.0 1420.9,488.7 1421.2,483.2 1421.5,504.6 1421.7,481.6 1422.0,493.2 1422.2,504.5 1422.5,499.3 1422.7,481.4 1423.0,489.6 1423.3,489.9 1423.5,490.5 1423.8,496.9 1424.0,475.4 1424.3,491.1 1424.5,515.6 1424.8,514.1 1425.1,497.9 1425.3,498.2 1425.6,483.8 1425.8,527.6 1426.1,482.8 1426.3,472.0 1426.6,497.2 1426.9,467.5 1427.1,503.4 1427.4,493.1 1427.6,497.9 1427.9,461.9 1428.2,475.0 1428.4,479.3 1428.7,510.9 1428.9,489.5 1429.2,503.0 1429.4,488.4 1429.7,484.9 1430.0,473.5 1430.2,494.4 1430.5,487.5 1430.7,493.3 1431.0,506.3 1431.2,470.0 1431.5,486.6 1431.8,473.9 1432.0,481.5 1432.3,511.0 1432.5,498.6 1432.8,482.3 1433.0,482.1 1433.3,482.8 1433.6,491.2 1433.8,473.1 1434.1,502.9 1434.3,494.7 1434.6,520.3 1434.8,480.9 1435.1,485.9 1435.4,477.3 1435.6,496.0 1435.9,526.2 1436.1,505.4 1436.4,487.9 1436.7,490.7 1436.9,481.5 1437.2,469.3 1437.4,501.5 1437.7,478.7 1437.9,531.4 1438.2,479.7 1438.5,516.3 1438.7,483.5 1439.0,530.4 1439.2,485.8 1439.5,469.6 1439.7,493.1 1440.0,479.6 1440.3,475.7 1440.5,533.3 1440.8,520.6 1441.0,491.0 1441.3,507.4 1441.5,496.9 1441.8,458.7 1442.1,469.7 1442.3,482.4 1442.6,499.5 1442.8,482.9 1443.1,485.9 1443.3,494.1 1443.6,457.6 1443.9,514.7 1444.1,451.7 1444.4,498.9 1444.6,475.1 1444.9,492.7 1445.2,498.8 1445.4,499.8 1445.7,487.3 1445.9,487.2 1446.2,453.5 1446.4,448.4 1446.7,491.5 1447.0,516.4 1447.2,489.7 1447.5,483.8 1447.7,514.6 1448.0,490.7 1448.2,471.4 1448.5,498.1 1448.8,510.5 1449.0,482.0 1449.3,467.7 1449.5,493.8 1449.8,488.3 1450.0,476.3 1450.3,483.7 1450.6,501.1 1450.8,494.6 1451.1,491.9 1451.3,490.6 1451.6,460.2 1451.8,510.6 1452.1,484.1 1452.4,492.9 1452.6,513.9 1452.9,482.7 1453.1,489.0 1453.4,510.1 1453.7,524.4 1453.9,478.4 1454.2,463.2 1454.4,489.4 1454.7,493.5 1454.9,482.7 1455.2,499.2 1455.5,496.7 1455.7,478.5 1456.0,504.5 1456.2,476.2 1456.5,484.8 1456.7,472.6 1457.0,516.1 1457.3,472.7 1457.5,492.1 1457.8,482.0 1458.0,501.7 1458.3,514.1 1458.5,468.3 1458.8,485.3 1459.1,480.3 1459.3,477.3 1459.6,475.6 1459.8,510.3 1460.1,495.2 1460.3,494.7 1460.6,460.6 1460.9,469.9 1461.1,501.5 1461.4,507.6 1461.6,480.9 1461.9,483.2 1462.2,473.3 1462.4,510.9 1462.7,472.5 1462.9,488.2 1463.2,472.9 1463.4,487.4 1463.7,496.2 1464.0,507.2 1464.2,467.0 1464.5,540.3 1464.7,464.8 1465.0,479.7 1465.2,506.4 1465.5,469.8" fill="none" stroke="#2ee9f3" stroke-width="0.6" stroke-linejoin="round" />
<rect x="1511.7" y="406" width="212.5999999999999" height="135.70000000000005" fill="#fff" stroke="#000" stroke-width="2.2"/>
<polyline points="1517.0,486.3 1517.2,483.7 1517.4,478.0 1517.6,476.0 1517.8,467.1 1518.0,482.6 1518.2,481.8 1518.4,478.1 1518.6,473.8 1518.8,480.4 1519.0,483.0 1519.2,491.7 1519.4,475.2 1519.6,480.4 1519.8,469.5 1520.0,470.0 1520.2,470.6 1520.4,476.2 1520.6,474.9 1520.8,490.5 1521.0,475.5 1521.2,481.6 1521.4,473.7 1521.6,482.1 1521.8,480.3 1522.1,485.8 1522.3,467.4 1522.5,478.8 1522.7,485.2 1522.9,483.1 1523.1,485.1 1523.3,470.8 1523.5,473.5 1523.7,478.8 1523.9,477.9 1524.1,489.5 1524.3,469.7 1524.5,480.2 1524.7,464.3 1524.9,483.6 1525.1,477.7 1525.3,473.1 1525.5,474.5 1525.7,481.1 1525.9,474.5 1526.1,477.5 1526.3,480.6 1526.5,485.3 1526.7,472.8 1526.9,480.7 1527.1,478.7 1527.3,481.5 1527.5,478.7 1527.7,483.6 1527.9,469.4 1528.1,472.0 1528.3,478.4 1528.5,480.3 1528.7,478.4 1528.9,487.1 1529.1,478.5 1529.3,482.7 1529.5,484.9 1529.7,485.4 1529.9,485.5 1530.1,479.5 1530.3,482.6 1530.5,489.7 1530.7,480.2 1530.9,482.2 1531.1,483.6 1531.3,474.4 1531.5,484.6 1531.7,493.3 1531.9,482.0 1532.2,490.1 1532.4,478.1 1532.6,480.5 1532.8,484.9 1533.0,481.1 1533.2,485.3 1533.4,485.9 1533.6,495.3 1533.8,494.6 1534.0,485.2 1534.2,474.5 1534.4,489.3 1534.6,483.7 1534.8,488.1 1535.0,479.0 1535.2,487.1 1535.4,483.7 1535.6,480.5 1535.8,485.2 1536.0,483.5 1536.2,483.9 1536.4,479.6 1536.6,478.9 1536.8,476.9 1537.0,480.1 1537.2,487.5 1537.4,483.8 1537.6,478.7 1537.8,481.1 1538.0,475.4 1538.2,487.4 1538.4,487.7 1538.6,485.4 1538.8,478.6 1539.0,484.2 1539.2,486.1 1539.4,477.5 1539.6,481.2 1539.8,484.3 1540.0,476.0 1540.2,479.2 1540.4,475.5 1540.6,475.6 1540.8,481.0 1541.0,478.9 1541.2,477.9 1541.4,473.5 1541.6,476.9 1541.8,472.2 1542.0,478.6 1542.3,475.9 1542.5,467.6 1542.7,484.9 1542.9,481.3 1543.1,466.2 1543.3,466.8 1543.5,464.5 1543.7,459.5 1543.9,456.2 1544.1,478.5 1544.3,472.8 1544.5,463.6 1544.7,487.2 1544.9,496.0 1545.1,479.3 1545.3,456.7 1545.5,462.6 1545.7,501.0 1545.9,478.4 1546.1,478.2 1546.3,469.4 1546.5,467.9 1546.7,469.8 1546.9,484.1 1547.1,451.2 1547.3,451.7 1547.5,484.4 1547.7,470.3 1547.9,450.4 1548.1,463.3 1548.3,458.0 1548.5,472.4 1548.7,451.6 1548.9,481.5 1549.1,456.1 1549.3,449.8 1549.5,479.0 1549.7,449.4 1549.9,454.4 1550.1,475.3 1550.3,464.0 1550.5,445.2 1550.7,471.2 1550.9,473.2 1551.1,500.1 1551.3,489.2 1551.5,472.1 1551.7,466.1 1551.9,454.5 1552.1,455.2 1552.4,434.3 1552.6,455.6 1552.8,434.6 1553.0,453.3 1553.2,450.6 1553.4,474.1 1553.6,456.7 1553.8,449.7 1554.0,446.8 1554.2,467.6 1554.4,463.5 1554.6,475.9 1554.8,459.2 1555.0,474.9 1555.2,451.2 1555.4,459.5 1555.6,454.3 1555.8,454.9 1556.0,457.0 1556.2,453.4 1556.4,461.5 1556.6,477.9 1556.8,446.5 1557.0,469.4 1557.2,452.0 1557.4,456.4 1557.6,458.0 1557.8,459.6 1558.0,457.1 1558.2,459.6 1558.4,461.7 1558.6,463.5 1558.8,458.4 1559.0,452.8 1559.2,467.9 1559.4,458.8 1559.6,483.6 1559.8,471.0 1560.0,481.8 1560.2,465.8 1560.4,457.9 1560.6,453.8 1560.8,478.5 1561.0,452.1 1561.2,473.7 1561.4,465.9 1561.6,468.4 1561.8,445.2 1562.0,459.5 1562.2,442.0 1562.5,451.1 1562.7,464.2 1562.9,456.2 1563.1,446.4 1563.3,471.1 1563.5,471.4 1563.7,461.9 1563.9,466.4 1564.1,465.1 1564.3,443.1 1564.5,460.0 1564.7,467.6 1564.9,468.6 1565.1,478.9 1565.3,448.5 1565.5,469.2 1565.7,424.0 1565.9,450.4 1566.1,468.3 1566.3,472.9 1566.5,466.6 1566.7,456.9 1566.9,467.1 1567.1,453.9 1567.3,449.0 1567.5,455.4 1567.7,453.6 1567.9,461.1 1568.1,470.9 1568.3,481.2 1568.5,479.4 1568.7,467.5 1568.9,448.9 1569.1,461.5 1569.3,474.1 1569.5,446.8 1569.7,472.1 1569.9,478.6 1570.1,473.1 1570.3,469.1 1570.5,462.4 1570.7,475.0 1570.9,482.3 1571.1,454.2 1571.3,458.6 1571.5,455.5 1571.7,451.4 1571.9,460.9 1572.1,440.4 1572.3,463.6 1572.6,462.1 1572.8,447.9 1573.0,457.8 1573.2,463.7 1573.4,461.7 1573.6,474.7 1573.8,454.8 1574.0,464.0 1574.2,455.9 1574.4,445.9 1574.6,453.2 1574.8,458.7 1575.0,457.7 1575.2,460.0 1575.4,437.7 1575.6,487.6 1575.8,466.5 1576.0,469.5 1576.2,456.4 1576.4,463.6 1576.6,460.2 1576.8,438.9 1577.0,456.4 1577.2,453.5 1577.4,466.4 1577.6,468.0 1577.8,471.9 1578.0,428.6 1578.2,477.5 1578.4,467.5 1578.6,424.0 1578.8,456.5 1579.0,460.9 1579.2,464.2 1579.4,480.6 1579.6,455.6 1579.8,451.6 1580.0,473.4 1580.2,468.0 1580.4,444.0 1580.6,467.7 1580.8,454.0 1581.0,438.6 1581.2,470.1 1581.4,462.5 1581.6,478.2 1581.8,482.5 1582.0,446.8 1582.2,454.7 1582.4,465.6 1582.7,457.1 1582.9,469.8 1583.1,476.9 1583.3,468.2 1583.5,469.7 1583.7,478.1 1583.9,450.0 1584.1,473.0 1584.3,472.5 1584.5,459.5 1584.7,456.1 1584.9,440.1 1585.1,458.6 1585.3,492.0 1585.5,475.3 1585.7,446.3 1585.9,469.3 1586.1,456.4 1586.3,435.9 1586.5,477.2 1586.7,476.4 1586.9,464.4 1587.1,462.2 1587.3,450.2 1587.5,485.8 1587.7,455.9 1587.9,465.3 1588.1,478.7 1588.3,464.9 1588.5,457.4 1588.7,424.9 1588.9,470.8 1589.1,453.5 1589.3,481.8 1589.5,450.9 1589.7,460.3 1589.9,438.2 1590.1,485.6 1590.3,482.1 1590.5,480.1 1590.7,433.9 1590.9,466.7 1591.1,480.6 1591.3,470.1 1591.5,448.2 1591.7,454.3 1591.9,456.7 1592.1,476.1 1592.3,466.3 1592.5,493.2 1592.8,481.2 1593.0,454.9 1593.2,450.7 1593.4,464.5 1593.6,480.0 1593.8,477.5 1594.0,469.2 1594.2,438.1 1594.4,469.9 1594.6,495.3 1594.8,476.8 1595.0,479.1 1595.2,469.4 1595.4,465.3 1595.6,436.4 1595.8,467.8 1596.0,493.6 1596.2,449.7 1596.4,470.5 1596.6,473.5 1596.8,468.4 1597.0,459.1 1597.2,460.9 1597.4,454.6 1597.6,466.9 1597.8,461.7 1598.0,474.5 1598.2,479.0 1598.4,473.3 1598.6,468.9 1598.8,488.2 1599.0,475.4 1599.2,439.8 1599.4,447.4 1599.6,445.8 1599.8,449.9 1600.0,448.9 1600.2,443.9 1600.4,454.2 1600.6,466.4 1600.8,465.6 1601.0,458.6 1601.2,455.5 1601.4,464.0 1601.6,465.9 1601.8,463.0 1602.0,473.0 1602.2,427.0 1602.4,456.2 1602.6,489.9 1602.9,451.7 1603.1,472.4 1603.3,466.1 1603.5,462.2 1603.7,453.4 1603.9,462.7 1604.1,459.0 1604.3,464.2 1604.5,429.8 1604.7,462.8 1604.9,471.0 1605.1,475.0 1605.3,462.1 1605.5,467.6 1605.7,460.4 1605.9,458.0 1606.1,477.0 1606.3,461.1 1606.5,472.6 1606.7,475.4 1606.9,476.2 1607.1,465.9 1607.3,469.6 1607.5,469.0 1607.7,467.7 1607.9,480.8 1608.1,439.0 1608.3,453.0 1608.5,466.6 1608.7,458.6 1608.9,476.9 1609.1,460.9 1609.3,481.3 1609.5,463.1 1609.7,460.9 1609.9,467.6 1610.1,446.5 1610.3,471.2 1610.5,460.1 1610.7,452.8 1610.9,454.6 1611.1,462.7 1611.3,442.6 1611.5,452.9 1611.7,454.8 1611.9,469.9 1612.1,461.4 1612.3,468.9 1612.5,436.5 1612.7,458.8 1613.0,475.1 1613.2,450.8 1613.4,446.7 1613.6,471.2 1613.8,460.2 1614.0,431.7 1614.2,462.1 1614.4,457.6 1614.6,428.2 1614.8,462.7 1615.0,479.3 1615.2,474.5 1615.4,460.3 1615.6,451.3 1615.8,479.8 1616.0,488.5 1616.2,456.9 1616.4,465.1 1616.6,469.6 1616.8,474.5 1617.0,450.7 1617.2,464.8 1617.4,489.9 1617.6,474.6 1617.8,469.8 1618.0,482.1 1618.2,469.2 1618.4,447.9 1618.6,453.9 1618.8,450.5 1619.0,450.8 1619.2,461.2 1619.4,456.1 1619.6,490.9 1619.8,451.8 1620.0,454.9 1620.2,459.8 1620.4,460.3 1620.6,475.0 1620.8,470.0 1621.0,479.5 1621.2,471.0 1621.4,465.7 1621.6,471.1 1621.8,447.3 1622.0,471.4 1622.2,458.6 1622.4,459.9 1622.6,465.6 1622.8,455.3 1623.1,458.7 1623.3,467.1 1623.5,444.9 1623.7,464.9 1623.9,454.7 1624.1,477.4 1624.3,482.6 1624.5,461.1 1624.7,425.6 1624.9,478.7 1625.1,483.2 1625.3,474.8 1625.5,468.1 1625.7,461.8 1625.9,445.6 1626.1,464.6 1626.3,455.9 1626.5,462.6 1626.7,475.0 1626.9,470.0 1627.1,454.8 1627.3,459.1 1627.5,444.3 1627.7,460.8 1627.9,464.0 1628.1,479.4 1628.3,474.3 1628.5,458.3 1628.7,458.7 1628.9,442.0 1629.1,469.5 1629.3,455.8 1629.5,463.6 1629.7,488.5 1629.9,484.1 1630.1,460.0 1630.3,466.2 1630.5,471.5 1630.7,448.9 1630.9,465.1 1631.1,456.3 1631.3,449.0 1631.5,467.8 1631.7,455.1 1631.9,473.8 1632.1,478.8 1632.3,448.9 1632.5,442.6 1632.7,454.0 1632.9,473.6 1633.2,466.6 1633.4,476.9 1633.6,477.5 1633.8,461.5 1634.0,469.7 1634.2,446.8 1634.4,493.0 1634.6,470.2 1634.8,481.2 1635.0,476.6 1635.2,435.1 1635.4,432.5 1635.6,457.2 1635.8,457.0 1636.0,456.2 1636.2,462.4 1636.4,505.2 1636.6,487.8 1636.8,454.1 1637.0,500.3 1637.2,442.4 1637.4,451.8 1637.6,459.5 1637.8,458.7 1638.0,453.4 1638.2,470.6 1638.4,439.1 1638.6,466.0 1638.8,472.9 1639.0,441.9 1639.2,461.9 1639.4,459.6 1639.6,446.5 1639.8,430.2 1640.0,464.0 1640.2,462.3 1640.4,482.6 1640.6,463.0 1640.8,431.8 1641.0,472.4 1641.2,472.5 1641.4,480.7 1641.6,477.4 1641.8,480.0 1642.0,463.2 1642.2,458.9 1642.4,501.9 1642.6,458.0 1642.8,447.6 1643.0,449.7 1643.3,475.0 1643.5,452.0 1643.7,470.7 1643.9,477.0 1644.1,485.7 1644.3,481.9 1644.5,468.6 1644.7,455.7 1644.9,481.6 1645.1,490.7 1645.3,448.5 1645.5,473.6 1645.7,435.9 1645.9,458.1 1646.1,479.2 1646.3,454.5 1646.5,451.2 1646.7,480.4 1646.9,466.4 1647.1,447.9 1647.3,480.9 1647.5,459.0 1647.7,458.1 1647.9,440.8 1648.1,448.5 1648.3,469.8 1648.5,493.2 1648.7,468.2 1648.9,462.5 1649.1,464.1 1649.3,470.9 1649.5,476.2 1649.7,448.2 1649.9,471.2 1650.1,474.4 1650.3,461.5 1650.5,462.3 1650.7,463.9 1650.9,445.9 1651.1,475.4 1651.3,459.9 1651.5,453.1 1651.7,469.7 1651.9,462.0 1652.1,455.3 1652.3,458.0 1652.5,463.4 1652.7,478.4 1652.9,478.1 1653.1,463.4 1653.4,467.2 1653.6,466.9 1653.8,468.9 1654.0,483.1 1654.2,456.7 1654.4,478.6 1654.6,443.8 1654.8,424.0 1655.0,455.6 1655.2,458.3 1655.4,470.8 1655.6,479.9 1655.8,469.8 1656.0,449.7 1656.2,463.2 1656.4,484.5 1656.6,451.7 1656.8,469.6 1657.0,451.0 1657.2,463.5 1657.4,472.1 1657.6,471.9 1657.8,454.7 1658.0,472.0 1658.2,447.3 1658.4,473.3 1658.6,446.4 1658.8,480.7 1659.0,476.4 1659.2,456.1 1659.4,439.8 1659.6,467.6 1659.8,454.8 1660.0,481.5 1660.2,475.3 1660.4,463.5 1660.6,440.4 1660.8,467.8 1661.0,480.9 1661.2,517.5 1661.4,465.6 1661.6,457.8 1661.8,469.1 1662.0,461.5 1662.2,475.3 1662.4,450.3 1662.6,457.2 1662.8,483.5 1663.0,471.5 1663.2,451.9 1663.5,464.9 1663.7,491.2 1663.9,468.3 1664.1,473.2 1664.3,501.0 1664.5,459.5 1664.7,446.2 1664.9,470.6 1665.1,473.5 1665.3,467.6 1665.5,471.6 1665.7,466.3 1665.9,457.2 1666.1,482.2 1666.3,470.5 1666.5,444.9 1666.7,468.0 1666.9,463.7 1667.1,460.9 1667.3,474.6 1667.5,483.6 1667.7,438.3 1667.9,464.9 1668.1,478.2 1668.3,455.0 1668.5,469.7 1668.7,477.6 1668.9,472.3 1669.1,479.9 1669.3,476.2 1669.5,455.1 1669.7,463.9 1669.9,469.0 1670.1,448.2 1670.3,457.2 1670.5,470.1 1670.7,480.4 1670.9,472.9 1671.1,445.6 1671.3,477.0 1671.5,432.9 1671.7,467.7 1671.9,485.7 1672.1,473.9 1672.3,443.9 1672.5,477.1 1672.7,459.5 1672.9,453.7 1673.1,474.2 1673.3,452.5 1673.6,449.1 1673.8,449.3 1674.0,486.2 1674.2,461.9 1674.4,453.7 1674.6,456.2 1674.8,442.4 1675.0,461.4 1675.2,464.5 1675.4,488.1 1675.6,478.6 1675.8,450.9 1676.0,481.2 1676.2,468.5 1676.4,496.1 1676.6,468.7 1676.8,483.9 1677.0,459.6 1677.2,466.5 1677.4,460.5 1677.6,496.9 1677.8,468.0 1678.0,449.1 1678.2,498.5 1678.4,472.4 1678.6,467.2 1678.8,450.6 1679.0,458.8 1679.2,458.2 1679.4,459.8 1679.6,454.7 1679.8,470.2 1680.0,466.5 1680.2,481.7 1680.4,468.1 1680.6,467.9 1680.8,446.5 1681.0,478.6 1681.2,460.9 1681.4,471.0 1681.6,464.7 1681.8,451.9 1682.0,466.8 1682.2,479.8 1682.4,463.9 1682.6,452.1 1682.8,460.6 1683.0,456.7 1683.2,486.8 1683.4,450.5 1683.7,470.8 1683.9,481.6 1684.1,460.1 1684.3,486.5 1684.5,462.1 1684.7,441.9 1684.9,473.9 1685.1,478.7 1685.3,452.7 1685.5,450.9 1685.7,449.8 1685.9,498.3 1686.1,478.4 1686.3,444.5 1686.5,476.1 1686.7,470.6 1686.9,463.4 1687.1,461.2 1687.3,467.6 1687.5,505.3 1687.7,457.8 1687.9,479.3 1688.1,454.3 1688.3,447.7 1688.5,476.1 1688.7,463.5 1688.9,448.7 1689.1,444.9 1689.3,455.4 1689.5,473.2 1689.7,459.3 1689.9,476.3 1690.1,445.3 1690.3,460.6 1690.5,448.2 1690.7,495.1 1690.9,472.6 1691.1,473.6 1691.3,469.0 1691.5,478.4 1691.7,459.1 1691.9,474.6 1692.1,439.9 1692.3,469.1 1692.5,473.4 1692.7,474.0 1692.9,458.0 1693.1,461.5 1693.3,479.1 1693.5,500.1 1693.8,468.8 1694.0,476.9 1694.2,465.1 1694.4,477.3 1694.6,459.8 1694.8,482.3 1695.0,461.6 1695.2,468.4 1695.4,452.6 1695.6,467.2 1695.8,456.4 1696.0,470.0 1696.2,468.9 1696.4,474.7 1696.6,486.0 1696.8,462.3 1697.0,465.4 1697.2,444.0 1697.4,459.6 1697.6,443.5 1697.8,431.3 1698.0,461.3 1698.2,477.4 1698.4,467.3 1698.6,451.5 1698.8,465.8 1699.0,452.1 1699.2,469.1 1699.4,463.9 1699.6,445.1 1699.8,456.5 1700.0,459.2 1700.2,461.7 1700.4,456.4 1700.6,465.8 1700.8,445.5 1701.0,471.1 1701.2,424.1 1701.4,462.1 1701.6,474.2 1701.8,489.5 1702.0,475.5 1702.2,459.2 1702.4,470.0 1702.6,451.1 1702.8,468.7 1703.0,477.3 1703.2,470.1 1703.4,474.6 1703.6,467.1 1703.9,477.6 1704.1,466.7 1704.3,484.7 1704.5,463.5 1704.7,467.1 1704.9,468.1 1705.1,478.2 1705.3,465.6 1705.5,461.7 1705.7,485.3 1705.9,451.0 1706.1,466.8 1706.3,457.4 1706.5,442.5 1706.7,493.2 1706.9,477.1 1707.1,480.9 1707.3,522.8 1707.5,477.6 1707.7,477.6 1707.9,444.6 1708.1,468.3 1708.3,476.0 1708.5,525.9 1708.7,481.2" fill="none" stroke="#b3842a" stroke-width="0.6" stroke-linejoin="round" />
<rect x="1531.7" y="414" width="212.5999999999999" height="136" fill="#fff" stroke="#000" stroke-width="2.2"/>
<polyline points="1537.0,484.1 1537.2,494.3 1537.4,494.7 1537.6,490.7 1537.8,475.2 1538.0,496.1 1538.2,483.8 1538.4,482.8 1538.6,496.3 1538.8,496.4 1539.0,489.7 1539.2,490.8 1539.4,482.6 1539.6,487.5 1539.8,492.3 1540.0,486.1 1540.2,481.2 1540.4,491.4 1540.6,491.3 1540.8,483.6 1541.0,480.7 1541.2,478.4 1541.4,482.9 1541.6,490.0 1541.8,481.8 1542.1,485.4 1542.3,484.9 1542.5,488.3 1542.7,482.0 1542.9,483.9 1543.1,494.0 1543.3,484.0 1543.5,494.0 1543.7,487.5 1543.9,489.5 1544.1,485.6 1544.3,490.6 1544.5,491.4 1544.7,490.8 1544.9,492.2 1545.1,495.5 1545.3,486.2 1545.5,491.5 1545.7,487.0 1545.9,488.9 1546.1,485.4 1546.3,485.9 1546.5,500.4 1546.7,489.8 1546.9,488.3 1547.1,493.9 1547.3,492.2 1547.5,487.4 1547.7,478.8 1547.9,487.0 1548.1,486.5 1548.3,487.9 1548.5,479.9 1548.7,489.8 1548.9,485.7 1549.1,472.3 1549.3,487.9 1549.5,490.6 1549.7,497.8 1549.9,501.4 1550.1,479.8 1550.3,490.5 1550.5,497.2 1550.7,493.7 1550.9,499.0 1551.1,491.3 1551.3,495.1 1551.5,487.7 1551.7,480.5 1551.9,489.1 1552.2,491.3 1552.4,491.4 1552.6,485.8 1552.8,504.7 1553.0,498.1 1553.2,495.6 1553.4,497.3 1553.6,488.3 1553.8,493.4 1554.0,496.0 1554.2,489.0 1554.4,491.9 1554.6,488.1 1554.8,491.4 1555.0,495.4 1555.2,497.5 1555.4,488.6 1555.6,495.2 1555.8,484.2 1556.0,489.7 1556.2,490.8 1556.4,497.1 1556.6,481.5 1556.8,491.5 1557.0,487.0 1557.2,492.7 1557.4,484.4 1557.6,486.9 1557.8,483.7 1558.0,480.9 1558.2,489.5 1558.4,492.9 1558.6,488.1 1558.8,491.5 1559.0,490.4 1559.2,480.3 1559.4,482.5 1559.6,485.1 1559.8,482.4 1560.0,481.0 1560.2,485.1 1560.4,486.3 1560.6,484.7 1560.8,482.1 1561.0,472.9 1561.2,491.8 1561.4,484.3 1561.6,487.0 1561.8,472.3 1562.0,486.2 1562.3,475.7 1562.5,479.8 1562.7,478.6 1562.9,477.3 1563.1,473.1 1563.3,485.2 1563.5,453.6 1563.7,493.6 1563.9,510.2 1564.1,491.5 1564.3,469.6 1564.5,487.5 1564.7,477.3 1564.9,459.2 1565.1,463.8 1565.3,472.2 1565.5,455.8 1565.7,476.1 1565.9,465.7 1566.1,472.2 1566.3,457.1 1566.5,456.1 1566.7,473.7 1566.9,460.7 1567.1,461.4 1567.3,464.5 1567.5,469.4 1567.7,488.0 1567.9,479.7 1568.1,457.4 1568.3,452.3 1568.5,499.5 1568.7,486.3 1568.9,497.7 1569.1,486.5 1569.3,463.9 1569.5,481.4 1569.7,462.6 1569.9,451.2 1570.1,494.4 1570.3,470.6 1570.5,466.7 1570.7,463.9 1570.9,452.1 1571.1,455.0 1571.3,465.2 1571.5,483.4 1571.7,457.9 1571.9,432.0 1572.1,489.1 1572.4,470.8 1572.6,466.3 1572.8,473.4 1573.0,465.1 1573.2,466.3 1573.4,456.9 1573.6,473.4 1573.8,470.2 1574.0,443.9 1574.2,446.3 1574.4,474.6 1574.6,488.5 1574.8,469.3 1575.0,459.7 1575.2,471.3 1575.4,489.4 1575.6,484.7 1575.8,476.7 1576.0,468.3 1576.2,466.2 1576.4,457.2 1576.6,479.6 1576.8,477.9 1577.0,494.3 1577.2,479.8 1577.4,472.4 1577.6,474.4 1577.8,471.2 1578.0,465.1 1578.2,473.3 1578.4,490.7 1578.6,466.1 1578.8,463.2 1579.0,477.3 1579.2,432.0 1579.4,501.7 1579.6,492.0 1579.8,475.7 1580.0,476.1 1580.2,482.2 1580.4,466.0 1580.6,454.6 1580.8,461.8 1581.0,466.9 1581.2,444.8 1581.4,489.6 1581.6,471.9 1581.8,468.1 1582.0,472.3 1582.2,471.0 1582.5,471.5 1582.7,475.7 1582.9,487.5 1583.1,480.9 1583.3,473.6 1583.5,462.1 1583.7,461.5 1583.9,457.5 1584.1,514.7 1584.3,479.6 1584.5,483.6 1584.7,469.4 1584.9,469.1 1585.1,473.7 1585.3,458.6 1585.5,478.7 1585.7,468.1 1585.9,461.4 1586.1,459.3 1586.3,472.9 1586.5,455.2 1586.7,457.9 1586.9,445.9 1587.1,465.6 1587.3,466.5 1587.5,478.2 1587.7,491.7 1587.9,482.3 1588.1,486.7 1588.3,470.1 1588.5,489.6 1588.7,479.3 1588.9,483.6 1589.1,469.4 1589.3,471.4 1589.5,441.7 1589.7,460.2 1589.9,450.6 1590.1,468.1 1590.3,494.3 1590.5,455.9 1590.7,438.4 1590.9,476.1 1591.1,448.5 1591.3,471.5 1591.5,468.1 1591.7,471.4 1591.9,475.7 1592.1,473.9 1592.3,498.5 1592.6,467.1 1592.8,466.2 1593.0,460.9 1593.2,470.0 1593.4,463.1 1593.6,437.8 1593.8,449.1 1594.0,471.0 1594.2,466.8 1594.4,469.0 1594.6,444.4 1594.8,475.3 1595.0,458.0 1595.2,464.7 1595.4,496.6 1595.6,464.3 1595.8,478.1 1596.0,480.7 1596.2,469.5 1596.4,464.8 1596.6,438.5 1596.8,468.7 1597.0,480.9 1597.2,470.8 1597.4,462.6 1597.6,482.1 1597.8,472.9 1598.0,500.1 1598.2,497.5 1598.4,474.1 1598.6,455.6 1598.8,478.6 1599.0,485.5 1599.2,470.6 1599.4,479.8 1599.6,476.5 1599.8,479.3 1600.0,444.7 1600.2,474.9 1600.4,455.6 1600.6,467.9 1600.8,447.2 1601.0,484.6 1601.2,467.6 1601.4,493.7 1601.6,449.7 1601.8,458.3 1602.0,473.9 1602.2,432.0 1602.4,440.7 1602.7,454.2 1602.9,445.8 1603.1,468.9 1603.3,478.6 1603.5,489.4 1603.7,452.4 1603.9,490.6 1604.1,471.7 1604.3,450.8 1604.5,464.3 1604.7,485.9 1604.9,479.9 1605.1,452.1 1605.3,488.2 1605.5,475.7 1605.7,488.7 1605.9,470.9 1606.1,480.1 1606.3,451.1 1606.5,479.8 1606.7,476.2 1606.9,514.8 1607.1,454.9 1607.3,448.6 1607.5,474.6 1607.7,468.2 1607.9,461.8 1608.1,455.1 1608.3,488.0 1608.5,487.9 1608.7,432.0 1608.9,455.4 1609.1,460.9 1609.3,469.2 1609.5,459.1 1609.7,458.8 1609.9,448.7 1610.1,480.8 1610.3,469.5 1610.5,464.5 1610.7,462.6 1610.9,490.3 1611.1,472.9 1611.3,483.2 1611.5,475.1 1611.7,467.3 1611.9,463.0 1612.1,461.5 1612.3,450.0 1612.5,468.1 1612.8,488.3 1613.0,468.0 1613.2,474.6 1613.4,488.8 1613.6,477.3 1613.8,464.3 1614.0,458.5 1614.2,471.5 1614.4,483.7 1614.6,470.4 1614.8,477.2 1615.0,439.2 1615.2,486.0 1615.4,458.0 1615.6,473.2 1615.8,465.8 1616.0,477.0 1616.2,463.4 1616.4,469.9 1616.6,471.7 1616.8,482.5 1617.0,477.1 1617.2,497.5 1617.4,462.6 1617.6,473.5 1617.8,449.1 1618.0,498.9 1618.2,448.0 1618.4,465.3 1618.6,475.0 1618.8,462.7 1619.0,486.1 1619.2,485.4 1619.4,451.2 1619.6,499.1 1619.8,469.8 1620.0,440.7 1620.2,468.2 1620.4,456.7 1620.6,473.1 1620.8,480.6 1621.0,455.3 1621.2,459.3 1621.4,470.9 1621.6,452.2 1621.8,485.5 1622.0,456.5 1622.2,474.9 1622.4,466.4 1622.6,468.5 1622.9,466.2 1623.1,464.4 1623.3,449.9 1623.5,454.4 1623.7,467.6 1623.9,468.9 1624.1,485.0 1624.3,441.4 1624.5,455.1 1624.7,476.5 1624.9,467.8 1625.1,448.3 1625.3,478.2 1625.5,466.8 1625.7,469.9 1625.9,473.3 1626.1,468.4 1626.3,495.3 1626.5,459.7 1626.7,475.1 1626.9,467.2 1627.1,494.2 1627.3,432.0 1627.5,463.5 1627.7,503.5 1627.9,477.4 1628.1,475.0 1628.3,484.2 1628.5,484.9 1628.7,491.6 1628.9,482.4 1629.1,468.0 1629.3,466.3 1629.5,456.8 1629.7,471.9 1629.9,496.2 1630.1,472.1 1630.3,443.4 1630.5,483.2 1630.7,468.4 1630.9,466.5 1631.1,482.3 1631.3,472.8 1631.5,482.9 1631.7,451.5 1631.9,461.3 1632.1,469.7 1632.3,460.4 1632.5,460.2 1632.7,483.1 1633.0,486.0 1633.2,486.6 1633.4,491.2 1633.6,460.5 1633.8,454.7 1634.0,450.5 1634.2,491.2 1634.4,470.5 1634.6,456.8 1634.8,450.4 1635.0,474.5 1635.2,475.6 1635.4,475.7 1635.6,463.7 1635.8,457.2 1636.0,460.0 1636.2,475.6 1636.4,450.6 1636.6,485.7 1636.8,462.8 1637.0,449.0 1637.2,454.1 1637.4,464.5 1637.6,475.1 1637.8,471.4 1638.0,479.4 1638.2,480.7 1638.4,484.5 1638.6,454.0 1638.8,491.5 1639.0,477.5 1639.2,449.5 1639.4,465.6 1639.6,440.4 1639.8,450.4 1640.0,465.7 1640.2,456.3 1640.4,489.3 1640.6,466.0 1640.8,449.2 1641.0,461.3 1641.2,466.5 1641.4,432.0 1641.6,458.0 1641.8,490.8 1642.0,454.4 1642.2,497.6 1642.4,464.0 1642.6,462.4 1642.8,478.8 1643.1,481.3 1643.3,474.5 1643.5,432.6 1643.7,481.4 1643.9,478.1 1644.1,472.2 1644.3,474.3 1644.5,450.3 1644.7,465.9 1644.9,472.0 1645.1,462.5 1645.3,465.3 1645.5,471.8 1645.7,473.2 1645.9,471.7 1646.1,471.5 1646.3,474.5 1646.5,470.4 1646.7,453.7 1646.9,494.6 1647.1,464.0 1647.3,459.2 1647.5,470.9 1647.7,470.1 1647.9,450.2 1648.1,474.9 1648.3,461.0 1648.5,462.8 1648.7,467.2 1648.9,465.5 1649.1,457.1 1649.3,448.7 1649.5,482.6 1649.7,456.2 1649.9,478.6 1650.1,481.2 1650.3,468.2 1650.5,467.4 1650.7,496.0 1650.9,452.9 1651.1,477.0 1651.3,462.5 1651.5,466.2 1651.7,461.7 1651.9,468.3 1652.1,466.5 1652.3,468.7 1652.5,474.6 1652.7,457.5 1652.9,468.3 1653.2,466.4 1653.4,476.5 1653.6,480.3 1653.8,467.3 1654.0,492.5 1654.2,451.6 1654.4,474.1 1654.6,474.8 1654.8,476.6 1655.0,468.0 1655.2,462.7 1655.4,458.9 1655.6,479.2 1655.8,485.0 1656.0,471.8 1656.2,471.6 1656.4,480.5 1656.6,447.2 1656.8,484.2 1657.0,481.9 1657.2,455.1 1657.4,475.2 1657.6,472.4 1657.8,480.6 1658.0,488.8 1658.2,479.1 1658.4,493.5 1658.6,462.4 1658.8,467.7 1659.0,439.2 1659.2,471.5 1659.4,477.0 1659.6,456.1 1659.8,477.0 1660.0,457.4 1660.2,476.8 1660.4,505.4 1660.6,474.4 1660.8,474.5 1661.0,464.6 1661.2,475.8 1661.4,467.8 1661.6,467.4 1661.8,486.4 1662.0,489.1 1662.2,478.3 1662.4,486.9 1662.6,469.3 1662.8,461.3 1663.0,476.3 1663.3,481.1 1663.5,487.5 1663.7,463.6 1663.9,456.1 1664.1,500.5 1664.3,450.1 1664.5,452.9 1664.7,478.1 1664.9,471.1 1665.1,469.4 1665.3,466.7 1665.5,476.3 1665.7,463.8 1665.9,462.3 1666.1,438.5 1666.3,471.8 1666.5,479.5 1666.7,461.0 1666.9,471.3 1667.1,469.5 1667.3,469.5 1667.5,474.6 1667.7,479.0 1667.9,475.8 1668.1,479.5 1668.3,476.6 1668.5,452.1 1668.7,472.0 1668.9,480.4 1669.1,485.8 1669.3,452.3 1669.5,478.8 1669.7,469.1 1669.9,497.5 1670.1,493.3 1670.3,468.7 1670.5,495.0 1670.7,468.3 1670.9,453.2 1671.1,482.0 1671.3,480.4 1671.5,475.9 1671.7,481.5 1671.9,477.3 1672.1,477.7 1672.3,473.9 1672.5,471.0 1672.7,463.4 1672.9,466.0 1673.1,470.2 1673.4,482.2 1673.6,464.6 1673.8,459.0 1674.0,469.8 1674.2,478.2 1674.4,448.5 1674.6,511.6 1674.8,463.2 1675.0,468.0 1675.2,454.0 1675.4,444.8 1675.6,460.0 1675.8,476.0 1676.0,464.8 1676.2,483.0 1676.4,470.4 1676.6,483.0 1676.8,465.8 1677.0,490.7 1677.2,474.7 1677.4,468.6 1677.6,473.9 1677.8,476.1 1678.0,481.2 1678.2,474.7 1678.4,451.9 1678.6,477.8 1678.8,485.8 1679.0,483.1 1679.2,478.2 1679.4,463.3 1679.6,477.1 1679.8,460.6 1680.0,450.1 1680.2,481.0 1680.4,468.6 1680.6,474.5 1680.8,455.0 1681.0,455.4 1681.2,468.0 1681.4,483.7 1681.6,476.2 1681.8,472.7 1682.0,472.5 1682.2,481.5 1682.4,468.9 1682.6,466.1 1682.8,468.0 1683.0,480.5 1683.2,478.5 1683.5,488.8 1683.7,482.9 1683.9,464.6 1684.1,474.8 1684.3,473.5 1684.5,457.9 1684.7,478.8 1684.9,471.7 1685.1,485.8 1685.3,457.5 1685.5,475.0 1685.7,462.7 1685.9,462.6 1686.1,472.4 1686.3,461.3 1686.5,491.2 1686.7,479.9 1686.9,492.3 1687.1,459.9 1687.3,465.3 1687.5,452.4 1687.7,457.1 1687.9,452.8 1688.1,473.7 1688.3,489.3 1688.5,477.2 1688.7,451.6 1688.9,463.5 1689.1,453.3 1689.3,461.3 1689.5,465.8 1689.7,474.9 1689.9,492.4 1690.1,459.5 1690.3,485.8 1690.5,451.4 1690.7,466.3 1690.9,464.7 1691.1,471.4 1691.3,497.3 1691.5,486.3 1691.7,460.2 1691.9,486.0 1692.1,489.1 1692.3,455.3 1692.5,500.1 1692.7,472.7 1692.9,466.8 1693.1,442.3 1693.3,455.0 1693.6,465.9 1693.8,499.7 1694.0,476.0 1694.2,494.4 1694.4,467.5 1694.6,491.0 1694.8,461.9 1695.0,461.3 1695.2,477.2 1695.4,467.3 1695.6,469.1 1695.8,469.8 1696.0,471.7 1696.2,461.5 1696.4,470.8 1696.6,476.4 1696.8,467.6 1697.0,479.6 1697.2,458.8 1697.4,457.0 1697.6,501.2 1697.8,476.3 1698.0,473.2 1698.2,473.0 1698.4,466.0 1698.6,454.2 1698.8,455.0 1699.0,493.8 1699.2,453.6 1699.4,495.3 1699.6,452.0 1699.8,466.9 1700.0,482.1 1700.2,477.3 1700.4,478.4 1700.6,457.5 1700.8,479.4 1701.0,476.8 1701.2,466.5 1701.4,455.9 1701.6,477.9 1701.8,467.8 1702.0,481.3 1702.2,459.1 1702.4,490.1 1702.6,466.3 1702.8,468.1 1703.0,476.1 1703.2,456.5 1703.4,447.2 1703.7,472.0 1703.9,467.4 1704.1,469.1 1704.3,458.8 1704.5,462.2 1704.7,471.0 1704.9,472.9 1705.1,481.9 1705.3,474.9 1705.5,472.0 1705.7,445.7 1705.9,457.5 1706.1,495.9 1706.3,478.8 1706.5,459.9 1706.7,441.1 1706.9,492.1 1707.1,474.2 1707.3,452.8 1707.5,482.3 1707.7,479.4 1707.9,470.7 1708.1,489.9 1708.3,455.1 1708.5,468.8 1708.7,470.2 1708.9,481.5 1709.1,459.0 1709.3,477.5 1709.5,482.7 1709.7,474.4 1709.9,496.1 1710.1,483.5 1710.3,432.0 1710.5,480.4 1710.7,483.3 1710.9,472.4 1711.1,468.9 1711.3,468.5 1711.5,469.7 1711.7,498.5 1711.9,482.9 1712.1,500.9 1712.3,460.5 1712.5,467.3 1712.7,457.3 1712.9,498.7 1713.1,502.3 1713.3,471.8 1713.5,485.9 1713.8,487.2 1714.0,485.7 1714.2,496.6 1714.4,496.3 1714.6,468.6 1714.8,468.3 1715.0,458.5 1715.2,469.7 1715.4,471.4 1715.6,465.9 1715.8,478.1 1716.0,471.5 1716.2,475.1 1716.4,499.2 1716.6,468.0 1716.8,444.9 1717.0,442.6 1717.2,476.3 1717.4,467.7 1717.6,470.6 1717.8,455.1 1718.0,444.3 1718.2,483.7 1718.4,481.8 1718.6,478.6 1718.8,481.6 1719.0,451.0 1719.2,500.2 1719.4,484.2 1719.6,487.8 1719.8,483.8 1720.0,465.0 1720.2,488.1 1720.4,462.8 1720.6,456.0 1720.8,471.2 1721.0,457.5 1721.2,475.3 1721.4,466.8 1721.6,478.0 1721.8,461.5 1722.0,468.8 1722.2,464.8 1722.4,461.0 1722.6,455.6 1722.8,483.4 1723.0,470.2 1723.2,483.8 1723.4,478.2 1723.6,473.0 1723.9,461.8 1724.1,473.2 1724.3,475.8 1724.5,452.6 1724.7,467.7 1724.9,497.3 1725.1,466.2 1725.3,481.0 1725.5,459.7 1725.7,458.9 1725.9,452.5 1726.1,476.9 1726.3,463.9 1726.5,475.0 1726.7,480.0 1726.9,488.8 1727.1,469.8 1727.3,530.8 1727.5,475.3 1727.7,459.7 1727.9,471.7 1728.1,456.7 1728.3,484.0 1728.5,533.9 1728.7,489.2" fill="none" stroke="#b3842a" stroke-width="0.6" stroke-linejoin="round" />
<rect x="1554.7" y="423.3" width="213.29999999999995" height="135.99999999999994" fill="#fff" stroke="#000" stroke-width="2.2"/>
<polyline points="1560.0,505.4 1560.2,497.3 1560.4,503.5 1560.6,498.6 1560.8,503.2 1561.0,498.4 1561.2,490.5 1561.4,500.2 1561.6,497.4 1561.8,489.4 1562.0,494.0 1562.2,492.0 1562.4,496.8 1562.6,498.8 1562.8,499.3 1563.0,497.9 1563.2,504.6 1563.4,508.0 1563.6,499.8 1563.9,495.1 1564.1,500.7 1564.3,490.2 1564.5,488.8 1564.7,495.8 1564.9,498.1 1565.1,493.9 1565.3,500.3 1565.5,497.7 1565.7,503.7 1565.9,502.4 1566.1,493.6 1566.3,499.3 1566.5,493.7 1566.7,497.0 1566.9,496.6 1567.1,495.6 1567.3,512.1 1567.5,499.9 1567.7,495.4 1567.9,489.8 1568.1,493.5 1568.3,482.2 1568.5,489.9 1568.7,496.6 1568.9,507.0 1569.1,499.1 1569.3,498.9 1569.5,497.3 1569.7,496.2 1569.9,505.1 1570.1,496.0 1570.3,500.4 1570.5,502.0 1570.7,507.2 1570.9,497.8 1571.2,502.3 1571.4,514.4 1571.6,498.4 1571.8,500.7 1572.0,507.1 1572.2,494.4 1572.4,500.9 1572.6,498.0 1572.8,505.6 1573.0,502.9 1573.2,497.4 1573.4,495.9 1573.6,504.4 1573.8,516.3 1574.0,499.3 1574.2,501.8 1574.4,492.3 1574.6,506.1 1574.8,497.0 1575.0,509.0 1575.2,499.3 1575.4,503.0 1575.6,499.4 1575.8,501.1 1576.0,501.7 1576.2,492.0 1576.4,493.2 1576.6,500.8 1576.8,506.4 1577.0,504.8 1577.2,494.8 1577.4,500.5 1577.6,504.0 1577.8,505.0 1578.0,491.7 1578.2,499.6 1578.4,507.5 1578.7,490.4 1578.9,498.2 1579.1,507.3 1579.3,506.7 1579.5,498.4 1579.7,502.7 1579.9,501.7 1580.1,490.4 1580.3,490.3 1580.5,489.6 1580.7,496.5 1580.9,497.1 1581.1,506.3 1581.3,504.0 1581.5,497.5 1581.7,496.7 1581.9,492.9 1582.1,492.4 1582.3,494.4 1582.5,492.4 1582.7,494.7 1582.9,488.1 1583.1,501.4 1583.3,477.1 1583.5,491.3 1583.7,503.5 1583.9,493.5 1584.1,487.2 1584.3,497.9 1584.5,490.7 1584.7,494.1 1584.9,483.1 1585.1,491.6 1585.3,496.3 1585.5,490.6 1585.7,490.2 1586.0,491.2 1586.2,499.8 1586.4,506.5 1586.6,491.3 1586.8,511.5 1587.0,504.0 1587.2,488.7 1587.4,477.2 1587.6,478.4 1587.8,517.4 1588.0,467.9 1588.2,517.6 1588.4,483.3 1588.6,486.6 1588.8,477.8 1589.0,485.1 1589.2,472.0 1589.4,493.5 1589.6,488.2 1589.8,474.5 1590.0,496.6 1590.2,492.8 1590.4,484.5 1590.6,501.9 1590.8,489.9 1591.0,504.6 1591.2,468.8 1591.4,465.0 1591.6,477.0 1591.8,457.8 1592.0,480.6 1592.2,489.2 1592.4,476.1 1592.6,479.4 1592.8,486.8 1593.0,477.5 1593.2,500.5 1593.5,495.7 1593.7,478.3 1593.9,500.6 1594.1,467.4 1594.3,474.3 1594.5,489.1 1594.7,461.8 1594.9,478.6 1595.1,456.0 1595.3,483.1 1595.5,487.8 1595.7,475.3 1595.9,492.3 1596.1,469.2 1596.3,476.4 1596.5,524.0 1596.7,480.7 1596.9,478.3 1597.1,501.4 1597.3,485.8 1597.5,484.3 1597.7,499.9 1597.9,476.9 1598.1,480.5 1598.3,487.7 1598.5,484.8 1598.7,479.2 1598.9,468.4 1599.1,473.6 1599.3,482.6 1599.5,485.9 1599.7,486.5 1599.9,465.7 1600.1,475.7 1600.3,486.9 1600.5,447.5 1600.8,468.2 1601.0,490.3 1601.2,468.0 1601.4,476.4 1601.6,474.3 1601.8,466.5 1602.0,483.0 1602.2,484.5 1602.4,490.2 1602.6,475.7 1602.8,479.9 1603.0,496.9 1603.2,478.3 1603.4,473.5 1603.6,475.7 1603.8,483.5 1604.0,468.0 1604.2,484.8 1604.4,494.0 1604.6,458.9 1604.8,493.7 1605.0,474.9 1605.2,451.6 1605.4,484.4 1605.6,453.5 1605.8,481.5 1606.0,482.6 1606.2,498.5 1606.4,470.0 1606.6,487.0 1606.8,470.1 1607.0,487.9 1607.2,476.1 1607.4,475.1 1607.6,453.1 1607.8,468.8 1608.0,500.8 1608.3,468.9 1608.5,479.6 1608.7,488.3 1608.9,484.7 1609.1,468.0 1609.3,496.6 1609.5,483.9 1609.7,491.8 1609.9,478.1 1610.1,481.4 1610.3,495.7 1610.5,481.9 1610.7,481.4 1610.9,483.5 1611.1,477.1 1611.3,466.4 1611.5,478.8 1611.7,477.8 1611.9,468.5 1612.1,481.1 1612.3,483.5 1612.5,487.1 1612.7,485.6 1612.9,489.1 1613.1,476.5 1613.3,503.2 1613.5,485.3 1613.7,475.5 1613.9,468.5 1614.1,464.6 1614.3,496.1 1614.5,486.2 1614.7,480.5 1614.9,500.8 1615.1,489.0 1615.3,477.8 1615.6,481.8 1615.8,506.0 1616.0,468.1 1616.2,488.2 1616.4,479.0 1616.6,503.3 1616.8,480.1 1617.0,468.1 1617.2,466.4 1617.4,463.1 1617.6,471.8 1617.8,496.0 1618.0,500.3 1618.2,459.5 1618.4,492.1 1618.6,492.5 1618.8,468.1 1619.0,478.2 1619.2,462.7 1619.4,484.7 1619.6,467.0 1619.8,447.5 1620.0,487.2 1620.2,479.7 1620.4,488.5 1620.6,480.9 1620.8,484.2 1621.0,470.3 1621.2,466.0 1621.4,475.6 1621.6,464.9 1621.8,490.9 1622.0,474.0 1622.2,484.6 1622.4,467.2 1622.6,475.0 1622.8,502.1 1623.1,479.2 1623.3,494.2 1623.5,482.8 1623.7,467.8 1623.9,458.4 1624.1,472.7 1624.3,472.9 1624.5,470.4 1624.7,481.1 1624.9,499.9 1625.1,465.6 1625.3,476.0 1625.5,478.7 1625.7,475.2 1625.9,471.8 1626.1,477.6 1626.3,466.0 1626.5,479.3 1626.7,465.3 1626.9,484.7 1627.1,483.2 1627.3,489.9 1627.5,492.1 1627.7,504.2 1627.9,504.8 1628.1,484.2 1628.3,469.5 1628.5,490.5 1628.7,483.9 1628.9,481.2 1629.1,479.7 1629.3,509.7 1629.5,486.8 1629.7,454.9 1629.9,467.0 1630.1,489.1 1630.4,475.8 1630.6,465.2 1630.8,481.5 1631.0,472.8 1631.2,476.5 1631.4,490.1 1631.6,478.3 1631.8,497.3 1632.0,479.7 1632.2,474.9 1632.4,490.8 1632.6,473.3 1632.8,475.9 1633.0,478.1 1633.2,484.3 1633.4,492.7 1633.6,477.0 1633.8,477.4 1634.0,468.7 1634.2,505.1 1634.4,473.8 1634.6,482.1 1634.8,485.4 1635.0,494.0 1635.2,446.2 1635.4,471.3 1635.6,478.2 1635.8,472.1 1636.0,499.1 1636.2,480.7 1636.4,477.0 1636.6,479.5 1636.8,503.4 1637.0,483.7 1637.2,455.9 1637.4,463.7 1637.6,469.4 1637.9,473.0 1638.1,444.6 1638.3,472.7 1638.5,488.9 1638.7,495.5 1638.9,477.6 1639.1,479.3 1639.3,507.4 1639.5,486.4 1639.7,480.7 1639.9,485.3 1640.1,514.4 1640.3,498.9 1640.5,497.1 1640.7,460.4 1640.9,482.0 1641.1,494.2 1641.3,472.1 1641.5,505.4 1641.7,486.1 1641.9,474.8 1642.1,494.9 1642.3,491.5 1642.5,518.8 1642.7,491.0 1642.9,468.1 1643.1,475.4 1643.3,465.4 1643.5,486.8 1643.7,447.8 1643.9,507.8 1644.1,497.6 1644.3,511.1 1644.5,472.6 1644.7,477.7 1644.9,449.7 1645.2,486.8 1645.4,486.5 1645.6,526.2 1645.8,510.6 1646.0,480.4 1646.2,494.3 1646.4,474.6 1646.6,498.5 1646.8,477.1 1647.0,478.7 1647.2,499.3 1647.4,470.9 1647.6,461.7 1647.8,479.5 1648.0,471.4 1648.2,471.3 1648.4,483.4 1648.6,472.4 1648.8,448.5 1649.0,496.5 1649.2,476.5 1649.4,486.7 1649.6,480.7 1649.8,485.1 1650.0,487.0 1650.2,479.2 1650.4,486.1 1650.6,475.7 1650.8,509.5 1651.0,469.6 1651.2,487.1 1651.4,487.5 1651.6,468.0 1651.8,467.0 1652.0,473.8 1652.2,470.7 1652.4,477.9 1652.7,491.7 1652.9,474.3 1653.1,475.1 1653.3,470.3 1653.5,483.8 1653.7,482.6 1653.9,494.6 1654.1,462.2 1654.3,491.1 1654.5,474.5 1654.7,487.2 1654.9,494.3 1655.1,483.0 1655.3,496.5 1655.5,483.8 1655.7,481.3 1655.9,489.0 1656.1,485.3 1656.3,479.0 1656.5,480.6 1656.7,496.1 1656.9,479.1 1657.1,489.3 1657.3,496.1 1657.5,484.4 1657.7,485.3 1657.9,470.6 1658.1,477.7 1658.3,490.5 1658.5,455.5 1658.7,467.6 1658.9,512.9 1659.1,499.1 1659.3,493.2 1659.5,463.6 1659.7,495.8 1660.0,482.2 1660.2,484.6 1660.4,468.1 1660.6,485.0 1660.8,474.8 1661.0,484.1 1661.2,461.7 1661.4,471.5 1661.6,469.1 1661.8,485.2 1662.0,482.2 1662.2,463.7 1662.4,457.1 1662.6,481.8 1662.8,474.9 1663.0,489.9 1663.2,456.4 1663.4,492.5 1663.6,473.8 1663.8,474.3 1664.0,491.9 1664.2,499.8 1664.4,481.8 1664.6,469.8 1664.8,494.8 1665.0,485.9 1665.2,523.2 1665.4,483.6 1665.6,498.1 1665.8,487.6 1666.0,480.6 1666.2,493.1 1666.4,468.0 1666.6,464.3 1666.8,467.5 1667.0,482.5 1667.2,485.7 1667.5,468.2 1667.7,464.6 1667.9,486.1 1668.1,480.8 1668.3,483.5 1668.5,467.6 1668.7,488.5 1668.9,519.1 1669.1,470.6 1669.3,465.9 1669.5,477.1 1669.7,466.8 1669.9,481.0 1670.1,496.2 1670.3,474.9 1670.5,486.5 1670.7,494.4 1670.9,458.2 1671.1,481.2 1671.3,512.0 1671.5,470.1 1671.7,479.8 1671.9,485.6 1672.1,485.3 1672.3,474.4 1672.5,473.3 1672.7,472.6 1672.9,467.3 1673.1,490.7 1673.3,461.9 1673.5,452.4 1673.7,478.2 1673.9,474.3 1674.1,471.4 1674.3,459.4 1674.5,503.7 1674.8,463.1 1675.0,488.0 1675.2,479.7 1675.4,472.3 1675.6,472.9 1675.8,482.4 1676.0,474.2 1676.2,461.3 1676.4,476.7 1676.6,458.8 1676.8,484.0 1677.0,500.2 1677.2,481.9 1677.4,481.1 1677.6,481.0 1677.8,503.5 1678.0,503.4 1678.2,486.1 1678.4,480.6 1678.6,483.9 1678.8,463.6 1679.0,475.2 1679.2,477.4 1679.4,483.4 1679.6,508.8 1679.8,476.3 1680.0,484.0 1680.2,476.8 1680.4,460.4 1680.6,480.8 1680.8,457.5 1681.0,490.8 1681.2,489.5 1681.4,494.9 1681.6,479.0 1681.8,511.9 1682.0,477.1 1682.3,474.0 1682.5,470.0 1682.7,475.3 1682.9,467.4 1683.1,467.9 1683.3,479.9 1683.5,477.3 1683.7,488.5 1683.9,483.7 1684.1,463.6 1684.3,495.8 1684.5,463.7 1684.7,471.1 1684.9,497.6 1685.1,498.6 1685.3,488.0 1685.5,476.0 1685.7,485.1 1685.9,470.8 1686.1,482.8 1686.3,498.4 1686.5,473.4 1686.7,470.4 1686.9,484.0 1687.1,484.1 1687.3,496.0 1687.5,472.1 1687.7,463.8 1687.9,479.9 1688.1,497.9 1688.3,506.4 1688.5,481.7 1688.7,504.3 1688.9,488.5 1689.1,496.1 1689.3,479.5 1689.6,497.1 1689.8,461.7 1690.0,462.6 1690.2,462.7 1690.4,504.1 1690.6,463.7 1690.8,475.6 1691.0,474.6 1691.2,474.6 1691.4,472.8 1691.6,474.4 1691.8,478.6 1692.0,481.7 1692.2,488.7 1692.4,463.9 1692.6,481.9 1692.8,484.9 1693.0,463.1 1693.2,474.4 1693.4,482.3 1693.6,481.0 1693.8,502.3 1694.0,495.7 1694.2,486.9 1694.4,478.1 1694.6,476.0 1694.8,493.5 1695.0,488.1 1695.2,477.6 1695.4,466.8 1695.6,491.2 1695.8,492.2 1696.0,496.3 1696.2,482.0 1696.4,477.7 1696.6,465.4 1696.8,483.7 1697.1,467.4 1697.3,480.0 1697.5,478.8 1697.7,498.4 1697.9,461.1 1698.1,483.5 1698.3,463.8 1698.5,468.7 1698.7,484.5 1698.9,488.8 1699.1,467.9 1699.3,489.7 1699.5,491.3 1699.7,489.4 1699.9,492.9 1700.1,494.0 1700.3,465.2 1700.5,480.2 1700.7,463.2 1700.9,475.7 1701.1,482.7 1701.3,486.2 1701.5,499.6 1701.7,477.7 1701.9,481.0 1702.1,481.2 1702.3,483.8 1702.5,473.0 1702.7,489.0 1702.9,497.5 1703.1,487.7 1703.3,505.1 1703.5,478.9 1703.7,457.8 1703.9,487.3 1704.1,471.6 1704.4,441.3 1704.6,484.0 1704.8,471.6 1705.0,471.2 1705.2,457.3 1705.4,474.2 1705.6,493.8 1705.8,486.9 1706.0,494.8 1706.2,483.3 1706.4,471.0 1706.6,473.5 1706.8,490.3 1707.0,475.8 1707.2,506.8 1707.4,482.7 1707.6,463.3 1707.8,483.1 1708.0,486.9 1708.2,459.6 1708.4,451.6 1708.6,480.3 1708.8,515.9 1709.0,471.9 1709.2,456.4 1709.4,493.8 1709.6,452.5 1709.8,492.2 1710.0,464.2 1710.2,471.2 1710.4,467.7 1710.6,491.5 1710.8,471.3 1711.0,495.6 1711.2,481.1 1711.4,481.5 1711.6,480.2 1711.9,497.0 1712.1,497.4 1712.3,499.6 1712.5,456.3 1712.7,477.4 1712.9,488.1 1713.1,477.3 1713.3,481.3 1713.5,463.1 1713.7,492.2 1713.9,465.8 1714.1,498.1 1714.3,483.1 1714.5,476.0 1714.7,485.8 1714.9,467.4 1715.1,479.5 1715.3,490.4 1715.5,487.6 1715.7,464.6 1715.9,481.0 1716.1,485.9 1716.3,504.3 1716.5,502.8 1716.7,494.4 1716.9,474.7 1717.1,465.5 1717.3,488.9 1717.5,460.7 1717.7,478.7 1717.9,479.4 1718.1,477.4 1718.3,490.9 1718.5,464.4 1718.7,479.0 1718.9,469.6 1719.2,503.5 1719.4,499.2 1719.6,467.9 1719.8,465.2 1720.0,484.2 1720.2,485.2 1720.4,481.9 1720.6,487.8 1720.8,493.0 1721.0,496.4 1721.2,467.7 1721.4,488.8 1721.6,471.1 1721.8,506.2 1722.0,474.2 1722.2,467.4 1722.4,486.3 1722.6,469.8 1722.8,477.1 1723.0,441.3 1723.2,483.5 1723.4,484.5 1723.6,498.5 1723.8,482.9 1724.0,473.6 1724.2,491.5 1724.4,466.0 1724.6,491.1 1724.8,478.7 1725.0,467.6 1725.2,493.1 1725.4,477.2 1725.6,484.8 1725.8,490.5 1726.0,475.1 1726.2,506.8 1726.4,496.5 1726.7,482.6 1726.9,477.9 1727.1,490.2 1727.3,498.0 1727.5,454.9 1727.7,474.4 1727.9,471.1 1728.1,479.6 1728.3,464.3 1728.5,475.2 1728.7,494.9 1728.9,480.9 1729.1,469.3 1729.3,499.3 1729.5,487.9 1729.7,480.1 1729.9,481.1 1730.1,490.6 1730.3,479.4 1730.5,476.4 1730.7,459.8 1730.9,491.8 1731.1,481.8 1731.3,495.2 1731.5,469.6 1731.7,476.2 1731.9,467.7 1732.1,476.6 1732.3,456.4 1732.5,485.6 1732.7,477.8 1732.9,473.4 1733.1,497.8 1733.3,509.0 1733.5,472.6 1733.7,480.1 1734.0,468.1 1734.2,481.9 1734.4,484.3 1734.6,484.4 1734.8,477.0 1735.0,485.6 1735.2,486.0 1735.4,466.1 1735.6,468.0 1735.8,481.7 1736.0,455.9 1736.2,488.1 1736.4,470.8 1736.6,463.2 1736.8,484.1 1737.0,456.5 1737.2,493.5 1737.4,481.8 1737.6,487.0 1737.8,462.1 1738.0,477.5 1738.2,492.5 1738.4,483.2 1738.6,490.5 1738.8,468.0 1739.0,495.0 1739.2,489.9 1739.4,477.1 1739.6,486.8 1739.8,478.5 1740.0,479.2 1740.2,487.5 1740.4,500.1 1740.6,505.2 1740.8,479.3 1741.0,485.7 1741.2,476.5 1741.5,479.2 1741.7,482.8 1741.9,488.4 1742.1,470.2 1742.3,545.3 1742.5,500.3 1742.7,475.8 1742.9,483.8 1743.1,494.0 1743.3,491.9 1743.5,471.4 1743.7,476.6 1743.9,480.3 1744.1,505.3 1744.3,472.4 1744.5,490.3 1744.7,472.1 1744.9,477.2 1745.1,519.9 1745.3,500.9 1745.5,514.3 1745.7,493.7 1745.9,474.4 1746.1,466.5 1746.3,478.2 1746.5,485.2 1746.7,496.3 1746.9,463.4 1747.1,482.6 1747.3,493.2 1747.5,482.1 1747.7,474.7 1747.9,487.9 1748.1,487.6 1748.3,497.8 1748.5,474.9 1748.8,489.6 1749.0,476.3 1749.2,481.2 1749.4,480.3 1749.6,490.0 1749.8,477.4 1750.0,503.9 1750.2,480.5 1750.4,458.6 1750.6,458.0 1750.8,494.7 1751.0,540.1 1751.2,481.8 1751.4,486.2 1751.6,467.4 1751.8,497.9 1752.0,493.3 1752.2,543.2 1752.4,498.5" fill="none" stroke="#b3842a" stroke-width="0.6" stroke-linejoin="round" />
<rect x="1802.5" y="405.8" width="228.70000000000005" height="135.90000000000003" fill="#fff" stroke="#000" stroke-width="2.2"/>
<polyline points="1808.1,533.5 1808.3,531.6 1808.6,531.6 1808.8,531.6 1809.0,533.8 1809.3,534.1 1809.5,534.2 1809.7,534.4 1809.9,534.1 1810.2,534.2 1810.4,534.5 1810.6,534.2 1810.9,534.5 1811.1,534.8 1811.3,534.4 1811.6,534.1 1811.8,534.3 1812.0,534.6 1812.3,534.1 1812.5,534.1 1812.7,534.1 1813.0,534.9 1813.2,534.7 1813.4,534.6 1813.6,534.6 1813.9,535.0 1814.1,534.6 1814.3,534.2 1814.6,534.7 1814.8,533.9 1815.0,534.7 1815.3,534.4 1815.5,534.5 1815.7,534.8 1816.0,534.4 1816.2,534.4 1816.4,534.5 1816.7,534.2 1816.9,534.3 1817.1,534.8 1817.3,534.1 1817.6,534.7 1817.8,534.9 1818.0,534.3 1818.3,534.2 1818.5,534.7 1818.7,534.5 1819.0,534.6 1819.2,534.3 1819.4,534.6 1819.7,534.4 1819.9,534.8 1820.1,534.3 1820.4,534.5 1820.6,533.8 1820.8,534.1 1821.0,534.6 1821.3,534.8 1821.5,534.3 1821.7,534.7 1822.0,534.3 1822.2,534.2 1822.4,534.1 1822.7,534.1 1822.9,534.2 1823.1,534.5 1823.4,534.5 1823.6,534.4 1823.8,534.1 1824.0,534.6 1824.3,534.5 1824.5,534.2 1824.7,534.8 1825.0,534.6 1825.2,534.5 1825.4,534.6 1825.7,534.6 1825.9,534.4 1826.1,534.7 1826.4,534.3 1826.6,534.5 1826.8,534.9 1827.1,535.2 1827.3,534.7 1827.5,534.4 1827.7,534.5 1828.0,534.6 1828.2,534.5 1828.4,534.4 1828.7,534.5 1828.9,534.7 1829.1,534.1 1829.4,534.5 1829.6,534.4 1829.8,534.6 1830.1,534.4 1830.3,534.2 1830.5,534.7 1830.8,534.5 1831.0,534.6 1831.2,534.8 1831.4,534.0 1831.7,534.8 1831.9,534.3 1832.1,534.6 1832.4,534.5 1832.6,534.6 1832.8,534.6 1833.1,534.5 1833.3,535.0 1833.5,534.7 1833.8,534.4 1834.0,534.1 1834.2,534.5 1834.5,534.7 1834.7,534.3 1834.9,534.4 1835.1,534.8 1835.4,534.7 1835.6,534.8 1835.8,534.2 1836.1,534.8 1836.3,534.8 1836.5,534.4 1836.8,534.3 1837.0,534.6 1837.2,534.3 1837.5,534.8 1837.7,534.3 1837.9,534.4 1838.1,534.5 1838.4,535.0 1838.6,534.3 1838.8,534.5 1839.1,534.4 1839.3,534.8 1839.5,534.1 1839.8,534.6 1840.0,534.4 1840.2,534.5 1840.5,534.6 1840.7,534.3 1840.9,534.4 1841.2,534.2 1841.4,534.6 1841.6,534.3 1841.8,534.7 1842.1,534.5 1842.3,534.9 1842.5,534.5 1842.8,534.5 1843.0,534.7 1843.2,534.7 1843.5,534.5 1843.7,534.2 1843.9,534.5 1844.2,534.5 1844.4,534.4 1844.6,534.1 1844.9,534.2 1845.1,534.3 1845.3,534.9 1845.5,534.3 1845.8,534.6 1846.0,534.4 1846.2,534.7 1846.5,534.3 1846.7,534.6 1846.9,534.6 1847.2,534.4 1847.4,534.8 1847.6,534.2 1847.9,534.5 1848.1,534.5 1848.3,534.7 1848.6,534.3 1848.8,534.7 1849.0,534.2 1849.2,534.7 1849.5,534.5 1849.7,534.7 1849.9,534.5 1850.2,534.3 1850.4,534.6 1850.6,534.8 1850.9,534.5 1851.1,534.7 1851.3,534.4 1851.6,534.8 1851.8,534.6 1852.0,534.3 1852.2,534.4 1852.5,534.7 1852.7,534.6 1852.9,534.4 1853.2,534.3 1853.4,534.7 1853.6,534.4 1853.9,534.7 1854.1,534.9 1854.3,534.2 1854.6,534.3 1854.8,534.3 1855.0,534.3 1855.3,534.5 1855.5,534.1 1855.7,534.3 1855.9,534.6 1856.2,534.6 1856.4,534.9 1856.6,535.0 1856.9,534.3 1857.1,534.3 1857.3,534.7 1857.6,534.3 1857.8,534.5 1858.0,534.8 1858.3,534.3 1858.5,534.3 1858.7,534.3 1859.0,534.7 1859.2,534.8 1859.4,534.4 1859.6,534.2 1859.9,533.6 1860.1,535.0 1860.3,534.6 1860.6,534.2 1860.8,534.3 1861.0,534.2 1861.3,534.8 1861.5,534.8 1861.7,534.3 1862.0,535.0 1862.2,534.6 1862.4,534.9 1862.7,534.4 1862.9,534.5 1863.1,534.1 1863.3,534.5 1863.6,534.1 1863.8,534.4 1864.0,534.5 1864.3,534.8 1864.5,534.3 1864.7,534.6 1865.0,534.0 1865.2,534.5 1865.4,534.3 1865.7,534.3 1865.9,535.1 1866.1,534.6 1866.3,534.4 1866.6,534.3 1866.8,534.5 1867.0,534.1 1867.3,534.2 1867.5,534.2 1867.7,534.1 1868.0,534.8 1868.2,534.2 1868.4,534.5 1868.7,534.8 1868.9,534.3 1869.1,534.1 1869.4,534.2 1869.6,534.3 1869.8,534.5 1870.0,534.0 1870.3,534.3 1870.5,534.5 1870.7,534.7 1871.0,534.5 1871.2,534.9 1871.4,534.2 1871.7,534.2 1871.9,534.5 1872.1,534.8 1872.4,534.6 1872.6,534.0 1872.8,534.1 1873.1,534.3 1873.3,534.0 1873.5,534.2 1873.7,534.6 1874.0,534.6 1874.2,534.3 1874.4,534.2 1874.7,535.0 1874.9,534.4 1875.1,534.7 1875.4,534.9 1875.6,534.6 1875.8,534.4 1876.1,534.4 1876.3,534.4 1876.5,534.3 1876.8,534.5 1877.0,534.7 1877.2,533.9 1877.4,533.9 1877.7,534.7 1877.9,534.7 1878.1,534.8 1878.4,534.4 1878.6,534.5 1878.8,534.7 1879.1,534.4 1879.3,534.4 1879.5,534.3 1879.8,534.5 1880.0,534.6 1880.2,534.4 1880.4,534.9 1880.7,534.5 1880.9,534.9 1881.1,534.4 1881.4,534.3 1881.6,534.5 1881.8,534.5 1882.1,534.0 1882.3,534.1 1882.5,534.2 1882.8,534.4 1883.0,534.2 1883.2,534.5 1883.5,534.2 1883.7,534.9 1883.9,534.3 1884.1,534.9 1884.4,534.4 1884.6,534.4 1884.8,534.1 1885.1,534.5 1885.3,534.6 1885.5,534.3 1885.8,534.3 1886.0,534.4 1886.2,534.5 1886.5,534.3 1886.7,534.7 1886.9,534.4 1887.2,534.6 1887.4,534.2 1887.6,534.7 1887.8,534.1 1888.1,534.0 1888.3,534.4 1888.5,534.8 1888.8,534.3 1889.0,534.5 1889.2,534.4 1889.5,534.3 1889.7,534.3 1889.9,534.4 1890.2,534.9 1890.4,534.4 1890.6,534.6 1890.9,534.4 1891.1,535.1 1891.3,534.7 1891.5,534.6 1891.8,534.9 1892.0,534.4 1892.2,534.3 1892.5,534.3 1892.7,534.5 1892.9,534.6 1893.2,534.2 1893.4,534.6 1893.6,534.0 1893.9,534.3 1894.1,534.5 1894.3,534.1 1894.5,534.1 1894.8,534.9 1895.0,534.4 1895.2,534.5 1895.5,534.5 1895.7,534.0 1895.9,534.1 1896.2,533.9 1896.4,534.2 1896.6,534.4 1896.9,534.6 1897.1,534.3 1897.3,534.2 1897.6,534.4 1897.8,534.5 1898.0,534.2 1898.2,534.3 1898.5,533.8 1898.7,534.5 1898.9,534.2 1899.2,534.2 1899.4,533.7 1899.6,534.3 1899.9,534.4 1900.1,534.2 1900.3,534.3 1900.6,533.9 1900.8,534.0 1901.0,534.1 1901.3,534.2 1901.5,534.8 1901.7,534.5 1901.9,534.3 1902.2,534.4 1902.4,533.9 1902.6,533.6 1902.9,534.2 1903.1,534.3 1903.3,534.0 1903.6,533.6 1903.8,534.1 1904.0,534.2 1904.3,533.9 1904.5,534.3 1904.7,534.2 1905.0,533.8 1905.2,534.2 1905.4,533.9 1905.6,533.9 1905.9,534.1 1906.1,533.7 1906.3,533.2 1906.6,533.6 1906.8,533.9 1907.0,533.8 1907.3,533.5 1907.5,533.8 1907.7,533.8 1908.0,533.8 1908.2,533.6 1908.4,533.5 1908.6,533.6 1908.9,533.4 1909.1,533.3 1909.3,533.1 1909.6,533.4 1909.8,533.3 1910.0,533.3 1910.3,533.5 1910.5,533.1 1910.7,533.9 1911.0,533.2 1911.2,533.5 1911.4,533.2 1911.7,532.9 1911.9,532.9 1912.1,532.7 1912.3,534.0 1912.6,532.9 1912.8,533.2 1913.0,532.7 1913.3,533.3 1913.5,532.9 1913.7,533.2 1914.0,533.1 1914.2,533.4 1914.4,532.9 1914.7,533.1 1914.9,533.0 1915.1,532.3 1915.4,533.1 1915.6,532.4 1915.8,532.9 1916.0,532.8 1916.3,532.7 1916.5,532.8 1916.7,531.8 1917.0,532.9 1917.2,532.7 1917.4,532.5 1917.7,532.2 1917.9,532.3 1918.1,532.3 1918.4,532.6 1918.6,532.4 1918.8,532.0 1919.0,531.9 1919.3,532.7 1919.5,533.1 1919.7,531.9 1920.0,532.2 1920.2,532.1 1920.4,532.5 1920.7,532.0 1920.9,531.9 1921.1,531.5 1921.4,531.1 1921.6,531.9 1921.8,531.9 1922.1,531.9 1922.3,531.8 1922.5,532.8 1922.7,532.0 1923.0,532.0 1923.2,531.1 1923.4,531.4 1923.7,532.0 1923.9,531.9 1924.1,532.0 1924.4,532.2 1924.6,531.4 1924.8,531.2 1925.1,531.7 1925.3,532.3 1925.5,531.5 1925.8,531.1 1926.0,531.5 1926.2,531.9 1926.4,531.4 1926.7,530.3 1926.9,531.1 1927.1,530.9 1927.4,531.5 1927.6,531.1 1927.8,531.6 1928.1,530.8 1928.3,531.8 1928.5,531.8 1928.8,530.1 1929.0,531.1 1929.2,530.5 1929.5,531.1 1929.7,530.4 1929.9,531.3 1930.1,531.3 1930.4,530.1 1930.6,530.4 1930.8,531.7 1931.1,531.1 1931.3,530.5 1931.5,529.7 1931.8,530.4 1932.0,530.4 1932.2,531.1 1932.5,529.7 1932.7,529.8 1932.9,531.3 1933.1,530.1 1933.4,531.8 1933.6,530.2 1933.8,530.6 1934.1,530.0 1934.3,530.9 1934.5,529.8 1934.8,530.7 1935.0,530.2 1935.2,530.4 1935.5,530.5 1935.7,529.2 1935.9,529.8 1936.2,529.0 1936.4,529.8 1936.6,529.5 1936.8,528.8 1937.1,529.7 1937.3,529.9 1937.5,530.1 1937.8,529.8 1938.0,528.9 1938.2,529.2 1938.5,529.4 1938.7,529.1 1938.9,528.8 1939.2,528.7 1939.4,529.8 1939.6,529.8 1939.9,528.0 1940.1,529.1 1940.3,528.6 1940.5,529.4 1940.8,529.8 1941.0,529.5 1941.2,528.2 1941.5,529.2 1941.7,528.1 1941.9,528.4 1942.2,529.6 1942.4,529.3 1942.6,528.5 1942.9,527.4 1943.1,528.0 1943.3,530.1 1943.6,528.1 1943.8,528.6 1944.0,528.2 1944.2,527.7 1944.5,529.1 1944.7,527.4 1944.9,528.3 1945.2,528.9 1945.4,527.7 1945.6,528.8 1945.9,528.7 1946.1,528.6 1946.3,527.5 1946.6,527.0 1946.8,528.2 1947.0,526.2 1947.2,527.9 1947.5,527.3 1947.7,527.4 1947.9,527.6 1948.2,528.6 1948.4,527.4 1948.6,528.0 1948.9,528.1 1949.1,528.3 1949.3,527.1 1949.6,527.7 1949.8,527.2 1950.0,527.8 1950.3,528.4 1950.5,528.1 1950.7,525.9 1950.9,526.5 1951.2,526.7 1951.4,526.4 1951.6,528.0 1951.9,526.0 1952.1,528.3 1952.3,527.3 1952.6,527.3 1952.8,527.2 1953.0,528.4 1953.3,525.6 1953.5,528.3 1953.7,525.7 1954.0,526.1 1954.2,526.2 1954.4,526.6 1954.6,526.8 1954.9,527.1 1955.1,524.8 1955.3,526.6 1955.6,527.0 1955.8,525.1 1956.0,523.8 1956.3,527.3 1956.5,526.1 1956.7,526.0 1957.0,527.0 1957.2,527.1 1957.4,525.2 1957.7,525.8 1957.9,524.9 1958.1,527.3 1958.3,527.0 1958.6,526.5 1958.8,525.7 1959.0,525.1 1959.3,525.9 1959.5,527.7 1959.7,526.3 1960.0,523.3 1960.2,526.1 1960.4,524.7 1960.7,525.7 1960.9,524.6 1961.1,524.0 1961.3,527.2 1961.6,525.2 1961.8,523.1 1962.0,525.8 1962.3,525.7 1962.5,524.5 1962.7,524.0 1963.0,526.5 1963.2,523.2 1963.4,524.5 1963.7,524.3 1963.9,524.0 1964.1,524.5 1964.4,522.9 1964.6,524.4 1964.8,523.6 1965.0,524.2 1965.3,523.6 1965.5,523.8 1965.7,525.6 1966.0,522.8 1966.2,525.4 1966.4,522.9 1966.7,523.3 1966.9,525.1 1967.1,523.5 1967.4,524.0 1967.6,523.2 1967.8,524.7 1968.1,521.9 1968.3,523.1 1968.5,521.7 1968.7,524.0 1969.0,524.2 1969.2,522.5 1969.4,525.1 1969.7,523.9 1969.9,520.7 1970.1,523.8 1970.4,522.7 1970.6,524.9 1970.8,521.2 1971.1,524.5 1971.3,524.5 1971.5,522.2 1971.8,524.2 1972.0,525.6 1972.2,524.1 1972.4,521.9 1972.7,523.0 1972.9,521.5 1973.1,521.0 1973.4,521.2 1973.6,519.7 1973.8,521.8 1974.1,519.8 1974.3,522.4 1974.5,519.6 1974.8,520.3 1975.0,519.9 1975.2,516.3 1975.4,521.0 1975.7,520.4 1975.9,519.8 1976.1,519.6 1976.4,520.1 1976.6,520.0 1976.8,521.2 1977.1,522.2 1977.3,523.5 1977.5,520.9 1977.8,522.2 1978.0,523.6 1978.2,518.0 1978.5,518.8 1978.7,520.4 1978.9,523.0 1979.1,520.7 1979.4,520.4 1979.6,521.4 1979.8,517.7 1980.1,518.5 1980.3,522.5 1980.5,519.5 1980.8,523.5 1981.0,519.2 1981.2,518.7 1981.5,517.3 1981.7,525.0 1981.9,516.8 1982.2,521.8 1982.4,518.3 1982.6,521.8 1982.8,519.5 1983.1,518.5 1983.3,520.1 1983.5,518.4 1983.8,520.4 1984.0,520.9 1984.2,521.0 1984.5,522.5 1984.7,519.2 1984.9,520.4 1985.2,515.8 1985.4,520.1 1985.6,516.3 1985.9,524.8 1986.1,517.9 1986.3,518.1 1986.5,516.2 1986.8,514.6 1987.0,517.6 1987.2,514.8 1987.5,519.3 1987.7,519.6 1987.9,515.9 1988.2,517.6 1988.4,515.6 1988.6,520.2 1988.9,518.9 1989.1,517.4 1989.3,518.0 1989.5,515.7 1989.8,510.9 1990.0,518.2 1990.2,514.2 1990.5,518.3 1990.7,521.2 1990.9,521.3 1991.2,519.9 1991.4,522.6 1991.6,517.9 1991.9,515.7 1992.1,523.0 1992.3,518.3 1992.6,520.4 1992.8,513.8 1993.0,513.7 1993.2,516.1 1993.5,516.7 1993.7,518.0 1993.9,517.1 1994.2,512.5 1994.4,515.0 1994.6,515.9 1994.9,511.6 1995.1,515.9 1995.3,515.5 1995.6,517.6 1995.8,520.7 1996.0,516.0 1996.3,517.3 1996.5,513.7 1996.7,520.0 1996.9,519.7 1997.2,516.0 1997.4,518.1 1997.6,517.4 1997.9,515.8 1998.1,518.7 1998.3,516.2 1998.6,510.3 1998.8,515.4 1999.0,516.5 1999.3,514.9 1999.5,517.6 1999.7,514.1 2000.0,512.5 2000.2,516.9 2000.4,516.7 2000.6,513.7 2000.9,520.2 2001.1,501.0 2001.3,517.2 2001.6,520.7 2001.8,514.6 2002.0,518.1 2002.3,519.0 2002.5,517.8 2002.7,514.6 2003.0,513.1 2003.2,520.4 2003.4,514.5 2003.6,517.4 2003.9,515.2 2004.1,512.3 2004.3,513.2 2004.6,510.3 2004.8,517.1 2005.0,513.8 2005.3,502.5 2005.5,515.8 2005.7,516.4 2006.0,518.7 2006.2,518.3 2006.4,507.2 2006.7,515.5 2006.9,512.9 2007.1,512.5 2007.3,514.4 2007.6,512.3 2007.8,511.1 2008.0,515.2 2008.3,508.2 2008.5,511.7 2008.7,503.6 2009.0,512.8 2009.2,507.5 2009.4,505.8 2009.7,513.2 2009.9,509.3 2010.1,512.6 2010.4,513.7 2010.6,509.8 2010.8,507.6 2011.0,501.5 2011.3,511.2 2011.5,511.2 2011.7,513.9 2012.0,510.3 2012.2,501.8 2012.4,500.7 2012.7,494.3 2012.9,499.0 2013.1,496.8 2013.4,494.3 2013.6,491.4 2013.8,488.0 2014.1,484.0 2014.3,479.4 2014.5,474.0 2014.7,467.7 2015.0,460.3 2015.2,451.7 2015.4,441.7 2015.7,430.0 2015.9,416.3" fill="none" stroke="#1a78c0" stroke-width="1.0" stroke-linejoin="round" />
<rect x="1824.8" y="417.2" width="228.29999999999995" height="135.59999999999997" fill="#fff" stroke="#000" stroke-width="2.2"/>
<polyline points="1830.4,544.9 1830.6,543.0 1830.9,543.0 1831.1,543.0 1831.3,545.2 1831.6,545.5 1831.8,545.7 1832.0,546.1 1832.2,546.4 1832.5,545.6 1832.7,545.9 1832.9,545.7 1833.2,545.7 1833.4,546.3 1833.6,545.8 1833.9,546.0 1834.1,545.9 1834.3,546.0 1834.6,545.9 1834.8,545.8 1835.0,546.1 1835.2,545.7 1835.5,545.4 1835.7,545.9 1835.9,545.5 1836.2,545.9 1836.4,546.0 1836.6,546.1 1836.9,545.5 1837.1,545.9 1837.3,546.1 1837.6,545.6 1837.8,545.9 1838.0,545.8 1838.2,546.3 1838.5,546.1 1838.7,545.9 1838.9,545.7 1839.2,545.7 1839.4,545.8 1839.6,546.0 1839.9,545.5 1840.1,545.9 1840.3,545.9 1840.6,546.2 1840.8,545.6 1841.0,545.6 1841.2,545.6 1841.5,546.0 1841.7,545.5 1841.9,545.8 1842.2,546.3 1842.4,545.8 1842.6,546.0 1842.9,545.7 1843.1,546.1 1843.3,546.2 1843.5,545.9 1843.8,545.3 1844.0,546.0 1844.2,546.0 1844.5,546.1 1844.7,546.3 1844.9,546.1 1845.2,545.7 1845.4,546.2 1845.6,546.0 1845.9,546.0 1846.1,545.7 1846.3,545.9 1846.5,546.0 1846.8,545.4 1847.0,545.5 1847.2,545.7 1847.5,546.1 1847.7,545.9 1847.9,546.4 1848.2,546.3 1848.4,546.1 1848.6,545.9 1848.9,545.8 1849.1,546.0 1849.3,546.2 1849.5,545.9 1849.8,545.9 1850.0,545.7 1850.2,545.6 1850.5,545.7 1850.7,545.5 1850.9,545.7 1851.2,545.8 1851.4,545.6 1851.6,545.8 1851.9,546.3 1852.1,545.7 1852.3,545.7 1852.5,546.1 1852.8,545.6 1853.0,546.2 1853.2,545.3 1853.5,546.4 1853.7,545.8 1853.9,546.0 1854.2,545.9 1854.4,545.7 1854.6,545.7 1854.9,545.6 1855.1,545.5 1855.3,546.1 1855.5,545.9 1855.8,545.9 1856.0,545.8 1856.2,546.4 1856.5,545.6 1856.7,545.7 1856.9,545.6 1857.2,545.7 1857.4,546.0 1857.6,546.1 1857.9,546.0 1858.1,546.3 1858.3,546.1 1858.5,545.9 1858.8,545.8 1859.0,546.0 1859.2,545.4 1859.5,546.0 1859.7,545.8 1859.9,545.8 1860.2,546.2 1860.4,545.8 1860.6,546.3 1860.9,546.0 1861.1,546.0 1861.3,546.0 1861.5,545.7 1861.8,545.5 1862.0,545.8 1862.2,545.7 1862.5,546.0 1862.7,546.1 1862.9,545.8 1863.2,546.1 1863.4,545.8 1863.6,545.6 1863.9,545.5 1864.1,545.5 1864.3,546.1 1864.5,545.7 1864.8,545.8 1865.0,545.9 1865.2,546.1 1865.5,545.8 1865.7,545.5 1865.9,545.8 1866.2,545.9 1866.4,545.5 1866.6,545.9 1866.9,545.8 1867.1,545.4 1867.3,545.4 1867.5,545.8 1867.8,545.9 1868.0,546.0 1868.2,546.0 1868.5,545.9 1868.7,545.6 1868.9,545.4 1869.2,546.0 1869.4,545.9 1869.6,545.8 1869.8,545.8 1870.1,546.0 1870.3,546.1 1870.5,546.3 1870.8,545.8 1871.0,545.8 1871.2,545.8 1871.5,545.7 1871.7,545.9 1871.9,545.9 1872.2,546.4 1872.4,545.5 1872.6,546.1 1872.8,545.6 1873.1,545.5 1873.3,545.8 1873.5,545.7 1873.8,545.8 1874.0,545.7 1874.2,545.9 1874.5,546.2 1874.7,545.9 1874.9,546.3 1875.2,545.7 1875.4,545.8 1875.6,545.6 1875.8,546.0 1876.1,546.2 1876.3,545.8 1876.5,545.9 1876.8,545.9 1877.0,546.1 1877.2,546.1 1877.5,545.7 1877.7,545.9 1877.9,545.8 1878.2,545.4 1878.4,545.6 1878.6,545.8 1878.8,545.6 1879.1,546.0 1879.3,546.1 1879.5,545.8 1879.8,545.8 1880.0,545.8 1880.2,545.4 1880.5,546.2 1880.7,545.7 1880.9,545.7 1881.2,545.7 1881.4,546.0 1881.6,546.1 1881.8,545.9 1882.1,545.9 1882.3,546.2 1882.5,545.7 1882.8,546.1 1883.0,546.2 1883.2,545.8 1883.5,545.9 1883.7,546.2 1883.9,546.0 1884.2,546.0 1884.4,546.1 1884.6,546.2 1884.8,545.9 1885.1,545.8 1885.3,546.0 1885.5,545.7 1885.8,545.8 1886.0,545.5 1886.2,545.8 1886.5,546.0 1886.7,545.8 1886.9,545.8 1887.2,546.2 1887.4,546.1 1887.6,545.7 1887.8,546.0 1888.1,545.7 1888.3,546.2 1888.5,545.8 1888.8,546.0 1889.0,546.1 1889.2,546.0 1889.5,546.0 1889.7,545.4 1889.9,545.7 1890.2,546.0 1890.4,545.5 1890.6,545.9 1890.8,545.9 1891.1,545.7 1891.3,545.8 1891.5,545.9 1891.8,546.0 1892.0,545.9 1892.2,546.0 1892.5,546.1 1892.7,546.0 1892.9,546.0 1893.2,546.2 1893.4,546.1 1893.6,545.7 1893.8,545.6 1894.1,545.8 1894.3,546.1 1894.5,546.0 1894.8,545.9 1895.0,545.6 1895.2,546.0 1895.5,546.1 1895.7,546.1 1895.9,545.9 1896.1,545.8 1896.4,545.5 1896.6,546.3 1896.8,546.0 1897.1,545.8 1897.3,546.2 1897.5,546.0 1897.8,546.3 1898.0,546.0 1898.2,545.7 1898.5,545.5 1898.7,546.0 1898.9,545.9 1899.1,545.6 1899.4,545.7 1899.6,545.7 1899.8,545.7 1900.1,545.9 1900.3,546.1 1900.5,545.9 1900.8,545.7 1901.0,545.9 1901.2,545.7 1901.5,545.7 1901.7,545.8 1901.9,545.7 1902.1,546.2 1902.4,546.0 1902.6,545.7 1902.8,546.0 1903.1,546.1 1903.3,545.9 1903.5,546.1 1903.8,545.6 1904.0,545.7 1904.2,545.9 1904.5,545.7 1904.7,546.0 1904.9,545.6 1905.1,546.0 1905.4,545.6 1905.6,545.9 1905.8,545.8 1906.1,546.0 1906.3,545.9 1906.5,545.7 1906.8,545.9 1907.0,545.9 1907.2,545.4 1907.5,546.1 1907.7,546.0 1907.9,546.1 1908.1,546.3 1908.4,545.8 1908.6,545.8 1908.8,546.1 1909.1,546.1 1909.3,545.7 1909.5,546.0 1909.8,545.4 1910.0,545.5 1910.2,545.8 1910.5,545.9 1910.7,545.7 1910.9,546.2 1911.1,545.7 1911.4,545.5 1911.6,546.2 1911.8,545.9 1912.1,545.7 1912.3,545.9 1912.5,545.9 1912.8,545.5 1913.0,545.8 1913.2,545.6 1913.5,546.0 1913.7,545.8 1913.9,546.2 1914.1,546.2 1914.4,546.1 1914.6,545.8 1914.8,545.6 1915.1,546.1 1915.3,545.6 1915.5,546.0 1915.8,546.2 1916.0,545.8 1916.2,545.8 1916.5,546.0 1916.7,545.8 1916.9,545.8 1917.1,545.7 1917.4,546.0 1917.6,546.0 1917.8,545.1 1918.1,545.7 1918.3,546.1 1918.5,545.7 1918.8,545.7 1919.0,545.7 1919.2,546.2 1919.5,545.9 1919.7,545.7 1919.9,545.6 1920.1,545.5 1920.4,545.7 1920.6,546.0 1920.8,545.2 1921.1,546.0 1921.3,545.7 1921.5,545.4 1921.8,545.7 1922.0,545.3 1922.2,545.5 1922.4,545.5 1922.7,545.3 1922.9,545.6 1923.1,545.9 1923.4,545.3 1923.6,545.4 1923.8,545.5 1924.1,545.5 1924.3,545.7 1924.5,545.7 1924.8,545.3 1925.0,545.7 1925.2,545.3 1925.4,545.5 1925.7,545.5 1925.9,545.7 1926.1,545.5 1926.4,545.3 1926.6,545.3 1926.8,545.3 1927.1,545.1 1927.3,545.4 1927.5,545.3 1927.8,545.4 1928.0,545.0 1928.2,544.9 1928.4,545.0 1928.7,544.7 1928.9,545.3 1929.1,545.3 1929.4,545.1 1929.6,544.5 1929.8,544.9 1930.1,544.9 1930.3,545.0 1930.5,544.7 1930.8,544.8 1931.0,544.6 1931.2,544.7 1931.4,544.5 1931.7,545.3 1931.9,544.9 1932.1,544.8 1932.4,545.2 1932.6,544.9 1932.8,544.5 1933.1,544.6 1933.3,544.3 1933.5,544.9 1933.8,544.3 1934.0,544.8 1934.2,544.4 1934.4,544.7 1934.7,544.2 1934.9,544.4 1935.1,544.6 1935.4,544.5 1935.6,544.4 1935.8,543.9 1936.1,544.6 1936.3,544.0 1936.5,544.2 1936.8,544.1 1937.0,544.0 1937.2,543.9 1937.4,544.2 1937.7,544.3 1937.9,544.3 1938.1,543.9 1938.4,543.7 1938.6,543.7 1938.8,543.9 1939.1,544.0 1939.3,544.2 1939.5,543.8 1939.8,544.0 1940.0,544.1 1940.2,544.1 1940.4,544.2 1940.7,543.7 1940.9,543.8 1941.1,543.3 1941.4,543.8 1941.6,542.8 1941.8,543.5 1942.1,543.7 1942.3,543.3 1942.5,543.7 1942.8,543.1 1943.0,543.8 1943.2,543.9 1943.4,542.6 1943.7,543.2 1943.9,543.2 1944.1,543.5 1944.4,543.5 1944.6,543.4 1944.8,543.1 1945.1,543.1 1945.3,543.8 1945.5,542.6 1945.8,542.8 1946.0,542.6 1946.2,543.5 1946.4,543.1 1946.7,543.2 1946.9,542.9 1947.1,543.6 1947.4,542.5 1947.6,543.0 1947.8,543.9 1948.1,542.5 1948.3,543.1 1948.5,542.3 1948.7,543.4 1949.0,542.9 1949.2,543.2 1949.4,542.3 1949.7,543.0 1949.9,543.0 1950.1,542.8 1950.4,542.8 1950.6,541.9 1950.8,542.6 1951.1,542.5 1951.3,542.3 1951.5,542.2 1951.7,542.2 1952.0,542.4 1952.2,542.3 1952.4,542.3 1952.7,542.1 1952.9,542.1 1953.1,541.4 1953.4,542.5 1953.6,542.5 1953.8,541.9 1954.1,541.8 1954.3,541.3 1954.5,541.5 1954.7,541.5 1955.0,540.7 1955.2,541.1 1955.4,542.0 1955.7,541.4 1955.9,542.0 1956.1,541.4 1956.4,541.7 1956.6,541.7 1956.8,541.9 1957.1,541.3 1957.3,541.1 1957.5,541.0 1957.7,541.1 1958.0,541.2 1958.2,541.0 1958.4,540.4 1958.7,541.6 1958.9,541.9 1959.1,541.1 1959.4,541.1 1959.6,540.3 1959.8,540.2 1960.1,540.0 1960.3,541.6 1960.5,540.2 1960.7,539.8 1961.0,540.2 1961.2,539.6 1961.4,539.9 1961.7,540.5 1961.9,539.6 1962.1,540.1 1962.4,541.3 1962.6,539.9 1962.8,540.9 1963.1,540.4 1963.3,541.5 1963.5,540.6 1963.7,539.6 1964.0,540.3 1964.2,541.3 1964.4,540.8 1964.7,539.0 1964.9,540.1 1965.1,539.4 1965.4,538.5 1965.6,539.5 1965.8,539.5 1966.1,538.4 1966.3,541.1 1966.5,539.3 1966.7,539.3 1967.0,539.0 1967.2,539.0 1967.4,539.6 1967.7,540.1 1967.9,538.2 1968.1,538.6 1968.4,540.5 1968.6,539.8 1968.8,538.5 1969.1,538.6 1969.3,539.3 1969.5,539.2 1969.7,539.1 1970.0,538.6 1970.2,539.1 1970.4,539.0 1970.7,539.7 1970.9,537.7 1971.1,539.4 1971.4,538.9 1971.6,538.6 1971.8,538.8 1972.1,539.6 1972.3,539.1 1972.5,538.7 1972.7,540.3 1973.0,538.2 1973.2,536.1 1973.4,538.9 1973.7,538.9 1973.9,538.0 1974.1,538.7 1974.4,539.2 1974.6,538.1 1974.8,538.5 1975.0,538.5 1975.3,537.2 1975.5,537.6 1975.7,537.4 1976.0,536.5 1976.2,537.2 1976.4,536.9 1976.7,537.6 1976.9,536.8 1977.1,536.0 1977.4,537.9 1977.6,537.1 1977.8,538.4 1978.0,537.6 1978.3,537.3 1978.5,536.6 1978.7,537.6 1979.0,535.6 1979.2,535.4 1979.4,536.1 1979.7,534.6 1979.9,537.9 1980.1,538.9 1980.4,537.3 1980.6,537.7 1980.8,537.7 1981.0,537.2 1981.3,536.0 1981.5,535.2 1981.7,536.8 1982.0,535.4 1982.2,536.4 1982.4,536.2 1982.7,534.6 1982.9,536.2 1983.1,535.7 1983.4,535.9 1983.6,537.1 1983.8,534.9 1984.0,533.1 1984.3,535.9 1984.5,534.6 1984.7,534.1 1985.0,535.4 1985.2,535.4 1985.4,536.0 1985.7,537.1 1985.9,536.1 1986.1,534.6 1986.4,534.4 1986.6,536.5 1986.8,533.2 1987.0,537.4 1987.3,536.6 1987.5,534.9 1987.7,536.5 1988.0,535.5 1988.2,534.3 1988.4,536.3 1988.7,536.6 1988.9,533.9 1989.1,532.6 1989.4,534.8 1989.6,533.0 1989.8,537.0 1990.0,535.7 1990.3,532.9 1990.5,533.6 1990.7,534.5 1991.0,536.0 1991.2,536.9 1991.4,533.0 1991.7,532.9 1991.9,534.0 1992.1,533.3 1992.4,534.2 1992.6,534.8 1992.8,535.0 1993.0,534.8 1993.3,535.1 1993.5,531.7 1993.7,533.1 1994.0,533.6 1994.2,531.4 1994.4,532.6 1994.7,533.3 1994.9,533.0 1995.1,532.5 1995.4,534.4 1995.6,533.0 1995.8,534.8 1996.0,534.1 1996.3,533.3 1996.5,534.0 1996.7,532.3 1997.0,532.3 1997.2,529.6 1997.4,532.5 1997.7,531.8 1997.9,533.6 1998.1,532.6 1998.4,532.4 1998.6,530.7 1998.8,532.0 1999.0,532.6 1999.3,533.5 1999.5,532.1 1999.7,530.6 2000.0,534.5 2000.2,529.8 2000.4,531.9 2000.7,534.1 2000.9,532.3 2001.1,530.1 2001.3,530.0 2001.6,533.3 2001.8,532.1 2002.0,528.8 2002.3,530.1 2002.5,528.0 2002.7,529.4 2003.0,531.9 2003.2,530.8 2003.4,532.4 2003.7,530.6 2003.9,529.0 2004.1,529.8 2004.3,531.9 2004.6,533.4 2004.8,530.6 2005.0,535.5 2005.3,531.0 2005.5,527.8 2005.7,530.7 2006.0,534.3 2006.2,530.8 2006.4,531.8 2006.7,528.8 2006.9,534.0 2007.1,530.1 2007.3,531.7 2007.6,528.1 2007.8,529.3 2008.0,531.9 2008.3,528.3 2008.5,530.6 2008.7,527.4 2009.0,528.7 2009.2,527.9 2009.4,530.3 2009.7,530.4 2009.9,530.6 2010.1,529.2 2010.3,534.4 2010.6,525.9 2010.8,529.2 2011.0,529.1 2011.3,532.7 2011.5,532.0 2011.7,531.8 2012.0,527.5 2012.2,531.0 2012.4,531.0 2012.7,527.2 2012.9,530.8 2013.1,533.3 2013.3,535.3 2013.6,528.9 2013.8,524.5 2014.0,527.0 2014.3,527.2 2014.5,531.2 2014.7,524.3 2015.0,529.9 2015.2,525.3 2015.4,522.1 2015.7,526.4 2015.9,531.8 2016.1,527.5 2016.3,529.6 2016.6,528.1 2016.8,525.4 2017.0,523.1 2017.3,524.8 2017.5,527.9 2017.7,526.3 2018.0,529.3 2018.2,526.5 2018.4,528.0 2018.7,524.7 2018.9,524.7 2019.1,526.3 2019.3,526.9 2019.6,527.8 2019.8,523.3 2020.0,524.6 2020.3,523.9 2020.5,527.9 2020.7,524.9 2021.0,526.3 2021.2,524.1 2021.4,519.5 2021.7,524.0 2021.9,524.6 2022.1,531.4 2022.3,527.6 2022.6,531.2 2022.8,527.8 2023.0,513.1 2023.3,520.8 2023.5,526.2 2023.7,531.8 2024.0,521.9 2024.2,522.8 2024.4,526.5 2024.7,532.0 2024.9,522.1 2025.1,525.9 2025.3,524.9 2025.6,531.7 2025.8,527.9 2026.0,520.6 2026.3,528.3 2026.5,523.1 2026.7,525.5 2027.0,524.6 2027.2,512.9 2027.4,527.5 2027.6,524.3 2027.9,524.4 2028.1,527.2 2028.3,523.5 2028.6,525.4 2028.8,528.5 2029.0,518.9 2029.3,521.2 2029.5,524.8 2029.7,522.2 2030.0,528.9 2030.2,524.0 2030.4,522.7 2030.6,511.9 2030.9,527.1 2031.1,523.4 2031.3,521.5 2031.6,526.0 2031.8,515.1 2032.0,523.5 2032.3,527.9 2032.5,522.2 2032.7,515.7 2033.0,525.5 2033.2,512.5 2033.4,515.1 2033.6,516.9 2033.9,515.2 2034.1,509.8 2034.3,517.8 2034.6,513.4 2034.8,510.4 2035.0,508.2 2035.3,505.7 2035.5,502.8 2035.7,499.4 2036.0,495.4 2036.2,490.8 2036.4,485.4 2036.6,479.1 2036.9,471.7 2037.1,463.1 2037.3,453.1 2037.6,441.4 2037.8,427.7" fill="none" stroke="#1a78c0" stroke-width="1.0" stroke-linejoin="round" />
<rect x="1849.1" y="423.5" width="228.5999999999999" height="135.89999999999998" fill="#fff" stroke="#000" stroke-width="2.2"/>
<polyline points="1854.7,551.2 1854.9,549.3 1855.2,549.3 1855.4,549.3 1855.6,551.5 1855.9,551.8 1856.1,551.7 1856.3,552.1 1856.5,551.7 1856.8,551.9 1857.0,552.5 1857.2,552.1 1857.5,552.3 1857.7,552.3 1857.9,552.1 1858.2,552.4 1858.4,552.0 1858.6,551.7 1858.9,551.7 1859.1,552.1 1859.3,552.0 1859.6,552.3 1859.8,552.0 1860.0,552.3 1860.2,552.2 1860.5,552.1 1860.7,552.0 1860.9,552.2 1861.2,551.8 1861.4,552.2 1861.6,551.9 1861.9,552.1 1862.1,552.2 1862.3,551.8 1862.6,552.1 1862.8,552.3 1863.0,551.9 1863.2,552.3 1863.5,552.1 1863.7,552.4 1863.9,552.0 1864.2,552.8 1864.4,552.4 1864.6,552.3 1864.9,552.0 1865.1,552.4 1865.3,551.9 1865.6,552.2 1865.8,552.2 1866.0,552.6 1866.3,551.9 1866.5,552.3 1866.7,552.2 1866.9,552.1 1867.2,551.9 1867.4,552.1 1867.6,551.9 1867.9,552.1 1868.1,552.2 1868.3,552.1 1868.6,551.6 1868.8,552.0 1869.0,552.3 1869.3,551.9 1869.5,551.9 1869.7,552.2 1869.9,552.0 1870.2,552.0 1870.4,552.5 1870.6,551.9 1870.9,552.5 1871.1,552.0 1871.3,552.3 1871.6,552.2 1871.8,552.1 1872.0,552.2 1872.3,552.0 1872.5,552.0 1872.7,551.7 1873.0,552.3 1873.2,552.2 1873.4,552.0 1873.6,552.2 1873.9,552.3 1874.1,552.2 1874.3,552.1 1874.6,551.6 1874.8,552.6 1875.0,552.2 1875.3,552.5 1875.5,551.6 1875.7,552.2 1876.0,551.9 1876.2,552.6 1876.4,552.0 1876.6,552.0 1876.9,552.0 1877.1,551.8 1877.3,552.0 1877.6,551.7 1877.8,552.1 1878.0,552.4 1878.3,552.0 1878.5,552.0 1878.7,552.3 1879.0,552.1 1879.2,552.1 1879.4,552.3 1879.7,552.4 1879.9,551.7 1880.1,552.1 1880.3,552.0 1880.6,551.8 1880.8,552.4 1881.0,552.2 1881.3,552.0 1881.5,551.9 1881.7,552.0 1882.0,552.1 1882.2,552.1 1882.4,552.1 1882.7,552.0 1882.9,552.6 1883.1,551.7 1883.3,552.4 1883.6,552.1 1883.8,552.0 1884.0,552.4 1884.3,552.4 1884.5,552.2 1884.7,552.2 1885.0,552.1 1885.2,552.2 1885.4,552.0 1885.7,552.0 1885.9,552.3 1886.1,552.2 1886.4,552.1 1886.6,552.4 1886.8,552.5 1887.0,552.3 1887.3,552.3 1887.5,552.5 1887.7,552.4 1888.0,551.7 1888.2,552.0 1888.4,552.1 1888.7,551.8 1888.9,551.8 1889.1,552.2 1889.4,551.6 1889.6,552.4 1889.8,552.6 1890.0,552.4 1890.3,552.0 1890.5,552.0 1890.7,551.6 1891.0,551.7 1891.2,552.1 1891.4,552.3 1891.7,552.4 1891.9,551.9 1892.1,552.4 1892.4,552.1 1892.6,552.2 1892.8,552.0 1893.1,551.6 1893.3,552.1 1893.5,551.7 1893.7,552.2 1894.0,552.5 1894.2,551.9 1894.4,552.9 1894.7,552.0 1894.9,552.3 1895.1,552.3 1895.4,552.4 1895.6,552.2 1895.8,552.4 1896.1,552.4 1896.3,552.1 1896.5,551.9 1896.7,552.1 1897.0,552.0 1897.2,552.5 1897.4,552.1 1897.7,552.2 1897.9,552.1 1898.1,552.2 1898.4,552.4 1898.6,552.1 1898.8,552.5 1899.1,552.0 1899.3,551.7 1899.5,551.9 1899.8,552.6 1900.0,552.4 1900.2,552.1 1900.4,552.3 1900.7,552.2 1900.9,552.1 1901.1,552.4 1901.4,552.1 1901.6,552.0 1901.8,552.0 1902.1,552.4 1902.3,552.1 1902.5,552.1 1902.8,552.0 1903.0,552.6 1903.2,552.4 1903.4,552.4 1903.7,552.0 1903.9,552.4 1904.1,552.6 1904.4,552.4 1904.6,552.0 1904.8,551.7 1905.1,551.8 1905.3,552.0 1905.5,552.5 1905.8,552.1 1906.0,552.2 1906.2,552.0 1906.5,552.2 1906.7,552.1 1906.9,552.4 1907.1,552.2 1907.4,552.3 1907.6,551.8 1907.8,552.7 1908.1,552.5 1908.3,552.1 1908.5,552.3 1908.8,551.7 1909.0,552.1 1909.2,552.2 1909.5,552.3 1909.7,552.1 1909.9,552.0 1910.1,552.2 1910.4,552.2 1910.6,552.1 1910.8,552.9 1911.1,552.7 1911.3,552.0 1911.5,552.0 1911.8,552.1 1912.0,552.1 1912.2,552.0 1912.5,552.3 1912.7,552.3 1912.9,552.0 1913.2,552.4 1913.4,552.1 1913.6,552.0 1913.8,552.4 1914.1,551.8 1914.3,552.0 1914.5,552.1 1914.8,552.3 1915.0,551.9 1915.2,552.3 1915.5,551.7 1915.7,551.7 1915.9,552.2 1916.2,551.9 1916.4,551.6 1916.6,552.0 1916.8,552.1 1917.1,551.9 1917.3,552.2 1917.5,552.0 1917.8,552.4 1918.0,552.2 1918.2,552.0 1918.5,552.1 1918.7,552.2 1918.9,552.3 1919.2,552.3 1919.4,552.0 1919.6,552.1 1919.9,552.0 1920.1,552.2 1920.3,552.2 1920.5,552.3 1920.8,551.9 1921.0,552.2 1921.2,552.3 1921.5,551.9 1921.7,552.3 1921.9,552.0 1922.2,551.8 1922.4,551.8 1922.6,552.6 1922.9,552.3 1923.1,552.1 1923.3,552.2 1923.5,552.3 1923.8,551.7 1924.0,552.3 1924.2,552.5 1924.5,552.3 1924.7,552.4 1924.9,552.2 1925.2,552.3 1925.4,552.3 1925.6,552.6 1925.9,551.6 1926.1,552.2 1926.3,552.4 1926.6,552.3 1926.8,552.4 1927.0,552.0 1927.2,552.3 1927.5,552.5 1927.7,552.0 1927.9,552.2 1928.2,551.6 1928.4,552.5 1928.6,552.7 1928.9,552.0 1929.1,552.3 1929.3,551.9 1929.6,552.2 1929.8,551.9 1930.0,552.4 1930.2,552.0 1930.5,552.5 1930.7,552.8 1930.9,552.4 1931.2,552.4 1931.4,551.8 1931.6,552.2 1931.9,552.0 1932.1,552.0 1932.3,552.7 1932.6,552.0 1932.8,552.3 1933.0,552.0 1933.3,552.1 1933.5,552.3 1933.7,552.0 1933.9,552.4 1934.2,552.5 1934.4,551.9 1934.6,552.3 1934.9,552.2 1935.1,552.1 1935.3,551.9 1935.6,552.3 1935.8,552.3 1936.0,551.9 1936.3,552.3 1936.5,552.0 1936.7,552.1 1936.9,552.2 1937.2,552.1 1937.4,552.1 1937.6,552.2 1937.9,551.7 1938.1,551.9 1938.3,552.3 1938.6,552.3 1938.8,552.5 1939.0,552.2 1939.3,552.4 1939.5,552.1 1939.7,552.3 1940.0,552.5 1940.2,552.4 1940.4,552.1 1940.6,552.0 1940.9,552.1 1941.1,552.2 1941.3,552.0 1941.6,552.1 1941.8,551.6 1942.0,552.1 1942.3,552.2 1942.5,552.0 1942.7,552.1 1943.0,552.1 1943.2,552.2 1943.4,552.5 1943.6,551.8 1943.9,552.5 1944.1,552.3 1944.3,551.9 1944.6,551.8 1944.8,552.0 1945.0,552.2 1945.3,552.1 1945.5,552.0 1945.7,552.1 1946.0,552.3 1946.2,552.0 1946.4,552.1 1946.7,551.9 1946.9,552.0 1947.1,552.1 1947.3,551.6 1947.6,552.2 1947.8,552.2 1948.0,551.5 1948.3,551.8 1948.5,551.8 1948.7,552.0 1949.0,552.3 1949.2,552.0 1949.4,552.5 1949.7,551.4 1949.9,551.7 1950.1,552.1 1950.3,552.0 1950.6,551.5 1950.8,551.8 1951.0,551.3 1951.3,551.5 1951.5,551.6 1951.7,551.2 1952.0,551.4 1952.2,551.5 1952.4,551.8 1952.7,550.9 1952.9,551.5 1953.1,551.6 1953.4,551.4 1953.6,551.4 1953.8,551.3 1954.0,551.0 1954.3,551.3 1954.5,551.1 1954.7,551.3 1955.0,551.2 1955.2,551.0 1955.4,551.8 1955.7,552.0 1955.9,551.2 1956.1,551.6 1956.4,551.6 1956.6,551.0 1956.8,551.3 1957.0,551.1 1957.3,551.0 1957.5,551.3 1957.7,550.9 1958.0,551.1 1958.2,551.2 1958.4,551.1 1958.7,550.6 1958.9,550.9 1959.1,550.7 1959.4,551.1 1959.6,551.0 1959.8,551.1 1960.1,550.7 1960.3,550.8 1960.5,550.8 1960.7,550.2 1961.0,550.8 1961.2,550.4 1961.4,550.2 1961.7,550.7 1961.9,550.3 1962.1,550.4 1962.4,550.3 1962.6,549.8 1962.8,550.7 1963.1,550.8 1963.3,550.0 1963.5,550.9 1963.7,550.6 1964.0,550.3 1964.2,550.2 1964.4,550.2 1964.7,550.4 1964.9,550.3 1965.1,550.0 1965.4,550.7 1965.6,550.0 1965.8,551.2 1966.1,550.1 1966.3,549.9 1966.5,550.4 1966.8,550.2 1967.0,549.6 1967.2,549.4 1967.4,550.3 1967.7,549.7 1967.9,549.6 1968.1,550.2 1968.4,549.7 1968.6,549.4 1968.8,549.3 1969.1,549.3 1969.3,549.0 1969.5,548.7 1969.8,549.9 1970.0,549.4 1970.2,550.1 1970.4,549.7 1970.7,549.8 1970.9,549.2 1971.1,548.3 1971.4,549.9 1971.6,549.0 1971.8,549.4 1972.1,548.8 1972.3,548.9 1972.5,549.5 1972.8,549.5 1973.0,549.9 1973.2,549.5 1973.5,548.8 1973.7,548.5 1973.9,548.7 1974.1,549.3 1974.4,548.7 1974.6,549.5 1974.8,549.3 1975.1,548.4 1975.3,548.5 1975.5,548.7 1975.8,548.6 1976.0,549.0 1976.2,547.9 1976.5,548.0 1976.7,549.0 1976.9,547.9 1977.1,549.7 1977.4,548.0 1977.6,547.7 1977.8,548.4 1978.1,548.1 1978.3,548.8 1978.5,548.4 1978.8,547.2 1979.0,547.5 1979.2,547.6 1979.5,548.2 1979.7,548.4 1979.9,547.7 1980.2,548.4 1980.4,548.2 1980.6,547.7 1980.8,546.6 1981.1,548.5 1981.3,547.5 1981.5,548.1 1981.8,547.2 1982.0,547.1 1982.2,548.1 1982.5,546.5 1982.7,548.2 1982.9,548.2 1983.2,547.7 1983.4,546.7 1983.6,547.2 1983.8,546.7 1984.1,546.7 1984.3,548.0 1984.5,548.0 1984.8,546.7 1985.0,547.2 1985.2,546.7 1985.5,546.4 1985.7,546.4 1985.9,546.4 1986.2,546.7 1986.4,546.8 1986.6,545.5 1986.9,546.4 1987.1,546.0 1987.3,545.5 1987.5,546.3 1987.8,546.3 1988.0,546.8 1988.2,547.5 1988.5,546.5 1988.7,546.2 1988.9,547.1 1989.2,545.4 1989.4,545.7 1989.6,545.6 1989.9,546.4 1990.1,545.0 1990.3,544.3 1990.5,546.9 1990.8,544.6 1991.0,545.6 1991.2,545.3 1991.5,547.0 1991.7,545.2 1991.9,545.8 1992.2,545.9 1992.4,545.9 1992.6,545.8 1992.9,545.8 1993.1,545.5 1993.3,544.7 1993.6,545.9 1993.8,543.5 1994.0,545.9 1994.2,545.3 1994.5,545.1 1994.7,545.5 1994.9,545.6 1995.2,547.7 1995.4,543.9 1995.6,546.0 1995.9,545.9 1996.1,546.6 1996.3,545.0 1996.6,545.8 1996.8,545.1 1997.0,543.7 1997.2,543.5 1997.5,543.9 1997.7,544.5 1997.9,544.1 1998.2,544.7 1998.4,544.2 1998.6,544.6 1998.9,545.7 1999.1,542.8 1999.3,545.0 1999.6,545.4 1999.8,544.4 2000.0,542.8 2000.3,544.0 2000.5,544.9 2000.7,544.4 2000.9,542.2 2001.2,545.3 2001.4,545.0 2001.6,545.7 2001.9,543.5 2002.1,544.2 2002.3,543.3 2002.6,543.1 2002.8,544.0 2003.0,542.7 2003.3,543.6 2003.5,543.6 2003.7,542.5 2003.9,543.0 2004.2,545.4 2004.4,546.2 2004.6,541.8 2004.9,543.9 2005.1,543.9 2005.3,542.6 2005.6,541.6 2005.8,543.3 2006.0,542.0 2006.3,544.4 2006.5,544.8 2006.7,545.5 2007.0,542.2 2007.2,543.3 2007.4,542.7 2007.6,541.1 2007.9,544.5 2008.1,539.4 2008.3,542.4 2008.6,545.0 2008.8,540.9 2009.0,539.7 2009.3,542.4 2009.5,543.1 2009.7,540.7 2010.0,540.9 2010.2,545.0 2010.4,542.1 2010.6,541.6 2010.9,543.9 2011.1,542.2 2011.3,543.1 2011.6,541.8 2011.8,540.3 2012.0,539.6 2012.3,541.8 2012.5,541.6 2012.7,542.6 2013.0,541.8 2013.2,539.0 2013.4,541.4 2013.7,543.2 2013.9,542.1 2014.1,541.4 2014.3,540.4 2014.6,542.5 2014.8,539.5 2015.0,540.2 2015.3,541.5 2015.5,540.2 2015.7,538.5 2016.0,542.2 2016.2,541.0 2016.4,539.7 2016.7,540.4 2016.9,542.2 2017.1,541.1 2017.3,538.4 2017.6,540.0 2017.8,541.0 2018.0,541.1 2018.3,541.3 2018.5,541.7 2018.7,537.8 2019.0,540.4 2019.2,538.3 2019.4,540.1 2019.7,538.9 2019.9,539.4 2020.1,538.2 2020.4,536.8 2020.6,539.4 2020.8,541.9 2021.0,538.4 2021.3,536.2 2021.5,538.3 2021.7,539.5 2022.0,538.9 2022.2,542.3 2022.4,540.6 2022.7,538.1 2022.9,536.3 2023.1,535.8 2023.4,539.2 2023.6,539.8 2023.8,540.4 2024.0,540.5 2024.3,539.9 2024.5,541.1 2024.7,536.4 2025.0,542.1 2025.2,535.7 2025.4,536.5 2025.7,539.4 2025.9,537.7 2026.1,539.0 2026.4,535.3 2026.6,536.4 2026.8,536.4 2027.1,539.9 2027.3,536.0 2027.5,539.0 2027.7,536.1 2028.0,534.5 2028.2,538.3 2028.4,539.7 2028.7,538.1 2028.9,534.0 2029.1,539.9 2029.4,537.4 2029.6,537.8 2029.8,534.4 2030.1,539.1 2030.3,538.3 2030.5,538.7 2030.7,536.7 2031.0,539.1 2031.2,538.3 2031.4,539.6 2031.7,536.0 2031.9,537.0 2032.1,536.1 2032.4,540.6 2032.6,534.4 2032.8,536.4 2033.1,533.0 2033.3,532.6 2033.5,537.9 2033.8,536.1 2034.0,537.6 2034.2,536.2 2034.4,535.1 2034.7,536.4 2034.9,536.8 2035.1,532.3 2035.4,539.8 2035.6,535.8 2035.8,537.8 2036.1,537.4 2036.3,536.4 2036.5,535.1 2036.8,538.4 2037.0,532.8 2037.2,536.3 2037.4,536.2 2037.7,538.0 2037.9,534.8 2038.1,538.6 2038.4,536.8 2038.6,533.1 2038.8,532.5 2039.1,538.1 2039.3,539.2 2039.5,528.8 2039.8,534.1 2040.0,534.9 2040.2,536.2 2040.5,535.3 2040.7,536.2 2040.9,535.6 2041.1,538.5 2041.4,534.3 2041.6,535.1 2041.8,535.9 2042.1,536.2 2042.3,536.5 2042.5,532.4 2042.8,534.8 2043.0,537.0 2043.2,533.2 2043.5,533.9 2043.7,534.7 2043.9,530.3 2044.1,530.6 2044.4,532.1 2044.6,530.3 2044.8,528.2 2045.1,534.1 2045.3,532.7 2045.5,535.9 2045.8,533.6 2046.0,536.1 2046.2,532.2 2046.5,535.6 2046.7,532.6 2046.9,534.5 2047.2,535.9 2047.4,531.5 2047.6,528.4 2047.8,528.0 2048.1,532.0 2048.3,535.6 2048.5,533.7 2048.8,534.3 2049.0,533.2 2049.2,529.1 2049.5,531.0 2049.7,535.1 2049.9,536.5 2050.2,531.7 2050.4,529.4 2050.6,537.0 2050.8,530.0 2051.1,530.9 2051.3,530.4 2051.5,524.8 2051.8,520.3 2052.0,527.0 2052.2,530.9 2052.5,526.1 2052.7,532.5 2052.9,530.8 2053.2,530.2 2053.4,529.2 2053.6,530.6 2053.9,536.1 2054.1,528.5 2054.3,528.6 2054.5,524.6 2054.8,531.9 2055.0,527.6 2055.2,514.0 2055.5,528.4 2055.7,532.6 2055.9,533.3 2056.2,530.9 2056.4,527.3 2056.6,532.3 2056.9,525.3 2057.1,531.4 2057.3,525.0 2057.5,523.3 2057.8,528.3 2058.0,519.3 2058.2,525.2 2058.5,531.6 2058.7,521.9 2058.9,518.6 2059.2,520.4 2059.4,516.7 2059.6,514.5 2059.9,512.0 2060.1,509.1 2060.3,505.7 2060.6,501.7 2060.8,497.1 2061.0,491.7 2061.2,485.4 2061.5,478.0 2061.7,469.4 2061.9,459.4 2062.2,447.7 2062.4,434.0" fill="none" stroke="#1a78c0" stroke-width="1.0" stroke-linejoin="round" />
<path d="M1390,228.8 L1880.5,224 L1881.5,351.3 L1391.3,356.8 Z" fill="url(#gband)"/>
<ellipse cx="1453.5" cy="292.5" rx="52.2" ry="50.4" fill="url(#gcirc)" stroke="#e3e6da" stroke-width="0.8"/>
<ellipse cx="1572.75" cy="291" rx="52.2" ry="50.4" fill="url(#gcirc)" stroke="#e3e6da" stroke-width="0.8"/>
<ellipse cx="1692.9" cy="289.75" rx="52.2" ry="50.4" fill="url(#gcirc)" stroke="#e3e6da" stroke-width="0.8"/>
<ellipse cx="1810.9" cy="289" rx="52.2" ry="50.4" fill="url(#gcirc)" stroke="#e3e6da" stroke-width="0.8"/>
<path d="M1462.0,255.5 L1464.9,256.5 L1467.6,257.6 L1470.2,258.6 L1472.4,259.6 L1474.3,260.7 L1475.6,261.7 L1476.5,262.7 L1476.8,263.8 L1476.4,265.1 L1475.4,266.5 L1473.8,267.9 L1471.7,269.2 L1469.0,270.6 L1465.8,272.0 L1462.2,273.4 L1458.4,274.8 L1454.3,276.1 L1450.1,277.5 L1446.0,278.9 L1441.9,280.2 L1438.0,281.6 L1434.5,283.0 L1431.3,284.4 L1428.6,285.8 L1426.4,287.1 L1424.8,288.5 L1423.8,289.9 L1423.5,291.2 L1423.8,292.7 L1424.8,294.1 L1426.4,295.6 L1428.7,297.0 L1431.4,298.4 L1434.6,299.9 L1438.2,301.3 L1442.2,302.8 L1446.3,304.2 L1450.5,305.6 L1454.7,307.1 L1458.8,308.5 L1462.8,309.9 L1466.4,311.4 L1469.6,312.8 L1472.3,314.2 L1474.6,315.7 L1476.2,317.1 L1477.2,318.6 L1477.5,320.0 L1477.2,321.2 L1476.4,322.5 L1475.0,323.8 L1473.1,325.0 L1470.8,326.2 L1468.2,327.5 L1465.4,328.8 L1462.5,330.0" fill="none" stroke="#3d3d3d" stroke-width="1.5" stroke-linecap="round" stroke-linejoin="round"/>
<path d="M1574.8,253.8 C1574.8,255.6 1574.8,261.2 1574.8,265.0 C1574.8,268.8 1574.7,273.7 1574.8,276.2 C1574.8,278.8 1574.4,279.5 1575.2,280.5 C1576.1,281.5 1580.0,281.5 1580.0,282.0 C1580.0,282.5 1577.7,283.1 1575.0,283.5 C1572.3,283.9 1563.3,284.0 1563.8,284.5 C1564.2,285.0 1571.7,285.9 1577.5,286.5 C1583.3,287.1 1599.2,287.5 1598.8,288.0 C1598.3,288.5 1583.5,289.0 1575.0,289.5 C1566.5,290.0 1547.1,290.3 1547.5,290.8 C1547.9,291.2 1569.0,291.8 1577.5,292.2 C1586.0,292.7 1598.8,292.8 1598.8,293.2 C1598.8,293.7 1583.5,294.2 1577.5,294.8 C1571.5,295.2 1562.5,295.8 1562.5,296.2 C1562.5,296.8 1574.6,297.1 1577.5,297.8 C1580.4,298.4 1580.3,299.2 1580.0,300.0 C1579.7,300.8 1576.5,300.0 1575.8,302.5 C1575.0,305.0 1575.7,310.8 1575.8,315.0 C1575.8,319.2 1576.0,325.4 1576.0,327.5" fill="none" stroke="#3d3d3d" stroke-width="1.2" stroke-linecap="round"/>
<path d="M1692.7,248.0 L1688.8,249.0 L1685.2,249.9 L1682.0,250.9 L1679.7,251.8 L1678.2,252.8 L1677.7,253.8 L1678.2,254.4 L1679.8,255.0 L1682.4,255.6 L1685.8,256.2 L1689.7,256.9 L1693.9,257.5 L1698.1,258.1 L1702.0,258.8 L1705.4,259.4 L1708.0,260.0 L1709.6,260.6 L1710.2,261.2 L1709.6,261.9 L1708.1,262.5 L1705.6,263.1 L1702.3,263.8 L1698.6,264.4 L1694.5,265.0 L1690.5,265.6 L1686.7,266.2 L1683.5,266.9 L1681.0,267.5 L1679.4,268.1 L1678.9,268.8 L1679.4,269.4 L1681.0,270.0 L1683.5,270.6 L1686.7,271.2 L1690.5,271.9 L1694.5,272.5 L1698.6,273.1 L1702.3,273.8 L1705.6,274.4 L1708.1,275.0 L1709.6,275.6 L1710.2,276.2 L1709.6,277.0 L1708.1,277.7 L1705.6,278.4 L1702.3,279.2 L1698.6,279.9 L1694.5,280.6 L1690.5,281.4 L1686.7,282.1 L1683.5,282.8 L1681.0,283.5 L1679.4,284.3 L1678.9,285.0 L1679.4,285.7 L1681.0,286.5 L1683.5,287.2 L1686.7,287.9 L1690.5,288.6 L1694.5,289.4 L1698.6,290.1 L1702.3,290.8 L1705.6,291.6 L1708.1,292.3 L1709.6,293.0 L1710.2,293.8 L1709.6,294.5 L1708.1,295.2 L1705.6,295.9 L1702.3,296.7 L1698.6,297.4 L1694.5,298.1 L1690.5,298.9 L1686.7,299.6 L1683.5,300.3 L1681.0,301.0 L1679.4,301.8 L1678.9,302.5 L1679.4,303.3 L1681.0,304.2 L1683.5,305.0 L1686.7,305.8 L1690.5,306.7 L1694.5,307.5 L1698.6,308.3 L1702.3,309.2 L1705.6,310.0 L1708.1,310.8 L1709.6,311.7 L1710.2,312.5 L1709.6,313.3 L1708.0,314.2 L1705.4,315.0 L1702.0,315.8 L1698.1,316.7 L1693.9,317.5 L1689.7,318.3 L1685.8,319.2 L1682.4,320.0 L1679.8,320.8 L1678.2,321.7 L1677.7,322.5 L1678.1,324.1 L1679.5,325.7 L1681.7,327.2 L1684.5,328.8 L1687.8,330.4 L1691.4,332.0" fill="none" stroke="#3d3d3d" stroke-width="1.4" stroke-linecap="round" stroke-linejoin="round"/>
<path d="M1835.7,258.8 C1832.2,260.5 1821.7,265.9 1815.2,269.5 C1808.6,273.1 1800.9,277.1 1796.4,280.5 C1791.9,283.9 1788.2,286.8 1788.2,290.0 C1788.2,293.2 1791.7,296.5 1796.4,300.0 C1801.1,303.5 1809.6,307.7 1816.4,311.2 C1823.2,314.8 1833.7,319.6 1837.2,321.2" fill="none" stroke="#3d3d3d" stroke-width="1.6" stroke-linecap="round"/></svg>
</body></html>
